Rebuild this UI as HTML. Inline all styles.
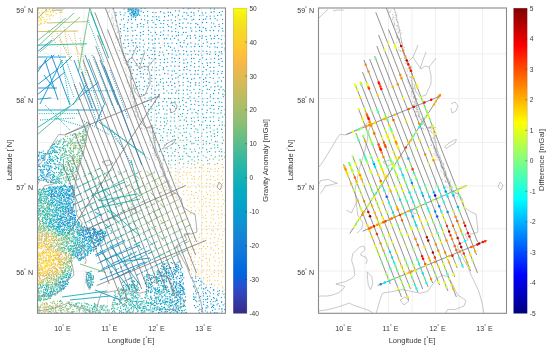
<!DOCTYPE html><html><head><meta charset="utf-8"><style>html,body{margin:0;padding:0;background:#fff;overflow:hidden}svg{display:block}</style></head><body><svg width="550" height="349" viewBox="0 0 550 349" font-family="'Liberation Sans', Arial, Helvetica, sans-serif"><rect width="550" height="349" fill="#fff"/><defs><clipPath id="c0"><rect x="37.5" y="8" width="188" height="305.3"/></clipPath><clipPath id="c1"><rect x="318.5" y="8" width="188" height="305.3"/></clipPath></defs><g stroke="#ececec" stroke-width="0.8"><line x1="60.5" y1="8" x2="60.5" y2="313.3"/><line x1="84" y1="8" x2="84" y2="313.3"/><line x1="107.5" y1="8" x2="107.5" y2="313.3"/><line x1="131" y1="8" x2="131" y2="313.3"/><line x1="154.5" y1="8" x2="154.5" y2="313.3"/><line x1="178" y1="8" x2="178" y2="313.3"/><line x1="201.5" y1="8" x2="201.5" y2="313.3"/><line x1="37.5" y1="271.1" x2="225.5" y2="271.1"/><line x1="37.5" y1="228.8" x2="225.5" y2="228.8"/><line x1="37.5" y1="185.9" x2="225.5" y2="185.9"/><line x1="37.5" y1="142.5" x2="225.5" y2="142.5"/><line x1="37.5" y1="98.5" x2="225.5" y2="98.5"/><line x1="37.5" y1="53.8" x2="225.5" y2="53.8"/></g><g clip-path="url(#c0)"><g fill="none" stroke-width="1.35" stroke-linecap="round"><path d="M167.6 8.0h0M195.9 23.5h0M206.4 81.4h0" stroke="#137ed7"/><path d="M199.1 8.3h0M132.2 11.8h0M164.0 13.0h0M211.2 12.2h0M182.5 16.1h0M116.5 20.9h0M131.4 19.2h0M147.9 20.7h0M222.5 19.3h0M202.5 22.5h0M143.3 26.8h0M152.3 35.9h0M127.9 39.7h0M195.7 38.0h0M172.0 43.1h0M194.8 46.5h0M154.9 54.5h0M172.1 54.1h0M179.9 54.1h0M137.1 59.7h0M179.4 58.4h0M140.2 71.4h0M159.1 70.1h0M183.9 69.9h0M218.2 71.3h0M151.6 75.4h0M170.6 81.9h0M171.8 85.5h0" stroke="#1485d4"/><path d="M141.1 8.5h0M183.5 8.3h0M168.2 12.2h0M198.5 10.9h0M205.8 12.8h0M128.4 16.6h0M137.5 14.8h0M172.4 15.0h0M175.6 16.9h0M188.1 15.2h0M194.2 15.1h0M199.7 15.6h0M203.0 15.1h0M168.0 20.3h0M175.4 20.6h0M184.2 18.8h0M203.4 19.5h0M140.5 23.5h0M179.5 23.4h0M183.0 23.0h0M219.0 24.3h0M222.6 23.6h0M124.0 27.1h0M141.1 26.3h0M152.0 27.4h0M199.5 27.2h0M205.7 28.5h0M120.2 31.6h0M168.3 30.7h0M175.7 31.6h0M206.2 30.4h0M222.9 31.0h0M132.7 35.7h0M140.6 35.9h0M143.3 34.3h0M163.3 34.7h0M195.0 35.2h0M199.8 36.2h0M155.4 39.0h0M218.8 38.6h0M226.6 38.1h0M123.7 43.5h0M133.1 42.7h0M144.3 44.1h0M180.3 42.4h0M190.8 42.9h0M225.0 43.1h0M137.4 47.3h0M153.2 48.0h0M170.6 47.2h0M182.3 47.0h0M139.7 50.0h0M159.8 52.0h0M166.8 50.3h0M186.6 51.5h0M194.4 51.0h0M152.2 54.4h0M191.4 54.8h0M198.3 54.9h0M209.7 54.3h0M218.5 55.7h0M132.0 58.0h0M149.2 57.7h0M191.5 58.5h0M199.9 59.3h0M218.8 59.2h0M131.5 62.6h0M143.5 63.5h0M155.8 62.8h0M167.7 62.3h0M207.2 63.0h0M222.2 61.4h0M171.0 65.8h0M179.1 66.2h0M219.2 65.3h0M148.0 69.8h0M174.4 70.9h0M195.3 70.7h0M198.2 70.3h0M210.8 71.1h0M143.5 74.0h0M168.0 73.8h0M198.0 74.2h0M213.6 73.5h0M217.5 74.1h0M221.7 73.3h0M131.7 79.0h0M143.5 77.9h0M155.7 78.6h0M172.4 79.0h0M187.3 78.4h0M199.9 77.7h0M210.1 77.6h0M219.1 77.8h0M223.2 77.3h0M178.8 81.8h0M190.5 82.7h0M195.8 82.7h0M226.8 81.4h0M179.6 85.7h0M206.3 85.5h0M214.9 86.7h0M218.0 86.0h0M158.8 89.8h0M163.6 88.9h0M155.1 94.4h0M171.7 93.2h0M164.5 98.7h0M178.6 98.4h0M155.4 102.0h0" stroke="#108ed2"/><path d="M133.4 8.3h0M190.3 8.3h0M194.1 8.4h0M226.1 9.1h0M127.9 11.3h0M135.2 12.3h0M147.6 11.3h0M155.9 12.6h0M175.5 10.8h0M186.8 12.9h0M191.2 12.2h0M193.9 12.9h0M202.3 12.8h0M219.4 12.4h0M226.3 12.3h0M116.1 15.2h0M139.6 15.2h0M147.6 16.0h0M156.3 16.6h0M164.5 16.7h0M206.8 16.6h0M210.2 16.1h0M214.2 16.1h0M217.7 15.4h0M227.0 16.6h0M121.4 19.8h0M123.6 18.9h0M128.3 20.0h0M141.4 19.6h0M144.6 19.8h0M156.8 19.5h0M163.9 20.5h0M171.2 19.8h0M186.3 19.2h0M192.0 20.1h0M193.7 19.4h0M199.4 19.5h0M205.8 19.0h0M210.3 18.7h0M215.1 18.6h0M217.2 20.1h0M226.8 19.6h0M137.4 24.7h0M163.7 23.6h0M167.6 24.6h0M172.4 22.9h0M190.8 23.6h0M197.8 24.5h0M226.6 23.9h0M120.6 28.7h0M127.5 28.5h0M148.3 27.1h0M168.7 26.4h0M179.6 26.4h0M182.5 28.0h0M190.8 28.0h0M195.5 27.1h0M203.2 27.5h0M215.1 26.5h0M127.9 31.2h0M140.5 32.5h0M148.5 30.5h0M160.8 32.1h0M191.7 31.0h0M199.6 30.5h0M201.6 31.4h0M213.5 30.5h0M121.4 35.7h0M127.9 35.8h0M160.5 35.4h0M168.1 35.1h0M176.3 35.7h0M178.5 35.2h0M190.3 35.7h0M202.4 35.8h0M221.9 35.8h0M225.2 36.1h0M120.5 38.2h0M140.2 39.1h0M164.3 38.7h0M166.7 38.5h0M170.6 39.0h0M174.5 38.4h0M190.5 38.2h0M206.4 39.6h0M211.4 38.7h0M128.6 43.4h0M135.7 42.7h0M152.9 43.9h0M159.1 43.2h0M164.4 43.1h0M167.9 43.5h0M176.6 43.6h0M203.3 43.3h0M214.3 43.5h0M218.0 42.6h0M222.0 43.9h0M125.2 47.7h0M128.3 46.1h0M133.3 45.9h0M160.3 47.7h0M174.4 48.1h0M180.4 46.0h0M202.0 46.4h0M209.8 47.1h0M215.0 46.9h0M217.3 47.5h0M225.0 48.1h0M129.8 50.7h0M133.4 50.8h0M144.0 51.0h0M147.5 50.0h0M151.1 50.3h0M162.8 52.1h0M175.4 50.9h0M178.6 50.8h0M198.8 51.2h0M203.0 51.1h0M219.2 52.0h0M221.4 51.7h0M225.2 50.0h0M136.4 53.8h0M147.7 55.6h0M159.2 55.5h0M176.2 55.1h0M187.9 55.1h0M207.2 53.7h0M129.3 59.2h0M155.7 58.7h0M160.2 59.6h0M164.5 59.5h0M167.2 58.8h0M174.7 58.5h0M193.8 58.4h0M202.6 57.8h0M214.5 58.5h0M226.2 57.9h0M139.6 63.4h0M151.3 62.8h0M160.4 62.8h0M179.6 62.3h0M194.7 63.3h0M210.2 62.7h0M214.3 62.4h0M218.9 63.4h0M129.1 67.6h0M131.4 66.9h0M141.1 67.1h0M144.4 66.6h0M152.4 67.1h0M156.3 67.6h0M163.5 67.7h0M174.9 66.2h0M184.4 67.4h0M186.8 66.6h0M213.9 67.4h0M222.2 66.4h0M226.5 65.6h0M133.3 70.0h0M137.2 69.7h0M151.7 70.0h0M172.1 70.9h0M179.8 70.4h0M190.0 70.5h0M213.8 70.9h0M226.4 69.8h0M137.0 74.5h0M140.8 73.7h0M164.7 73.5h0M179.9 75.4h0M190.9 74.3h0M194.9 74.2h0M202.6 74.1h0M206.9 74.8h0M209.6 73.8h0M141.0 77.1h0M160.5 79.3h0M178.2 77.1h0M136.4 82.4h0M148.6 82.9h0M174.7 83.2h0M199.2 82.9h0M203.5 82.1h0M217.7 81.7h0M152.1 86.1h0M156.7 85.5h0M168.2 85.5h0M175.0 86.9h0M190.5 86.1h0M195.5 85.0h0M187.1 89.7h0M209.5 89.6h0M214.6 90.5h0M141.4 94.6h0M175.7 93.0h0M206.8 93.1h0M210.4 96.9h0M151.2 101.0h0M198.9 105.5h0" stroke="#0997d1"/><path d="M124.1 8.9h0M128.1 9.0h0M135.2 9.0h0M144.9 8.2h0M188.2 8.7h0M214.3 9.0h0M115.8 12.6h0M120.1 12.1h0M143.4 12.4h0M152.9 12.4h0M160.6 11.7h0M170.5 12.5h0M179.3 11.0h0M222.4 11.3h0M120.7 14.6h0M124.1 15.1h0M158.9 16.9h0M168.6 15.7h0M178.5 15.2h0M191.1 16.5h0M135.5 19.7h0M152.1 20.4h0M179.9 19.7h0M124.4 24.7h0M127.8 22.6h0M132.1 23.3h0M143.8 24.6h0M147.6 22.9h0M153.1 22.6h0M155.8 24.5h0M160.9 23.4h0M176.0 24.7h0M188.0 23.0h0M211.6 22.8h0M213.8 23.8h0M131.8 27.5h0M137.4 26.9h0M156.1 27.4h0M171.4 27.0h0M186.1 27.4h0M211.5 27.1h0M124.1 30.6h0M135.3 30.3h0M143.4 31.3h0M150.9 32.3h0M155.5 32.5h0M163.8 30.8h0M171.9 31.5h0M178.6 32.3h0M183.4 32.5h0M186.0 32.4h0M218.6 30.9h0M225.7 31.9h0M125.6 35.8h0M136.7 35.4h0M148.5 34.6h0M156.7 34.6h0M172.4 36.1h0M182.1 34.8h0M187.5 36.0h0M206.0 36.4h0M210.4 35.7h0M214.8 36.2h0M131.9 40.2h0M136.0 38.9h0M152.2 40.0h0M158.8 38.8h0M178.3 40.0h0M186.6 38.3h0M199.1 40.2h0M202.0 38.2h0M214.1 38.5h0M221.3 39.6h0M139.8 43.0h0M148.7 43.2h0M155.0 43.4h0M187.7 44.0h0M195.2 43.9h0M198.1 44.1h0M207.2 42.2h0M211.0 43.7h0M140.0 46.8h0M143.4 46.9h0M148.7 47.8h0M155.1 48.1h0M164.5 45.8h0M191.2 46.8h0M199.4 46.5h0M222.1 47.3h0M137.4 51.2h0M154.8 51.2h0M172.3 50.1h0M183.6 50.6h0M191.1 51.4h0M206.7 51.3h0M210.3 51.9h0M125.8 53.8h0M132.5 54.6h0M141.3 54.6h0M143.1 54.2h0M163.6 54.9h0M168.5 53.7h0M195.5 54.3h0M201.9 55.1h0M215.4 54.4h0M186.1 59.1h0M206.4 59.4h0M211.0 59.1h0M221.2 58.5h0M136.6 63.7h0M164.2 62.5h0M175.3 61.6h0M191.3 61.8h0M225.7 61.5h0M148.2 66.9h0M160.0 65.6h0M194.6 67.0h0M199.0 66.5h0M210.2 67.4h0M156.0 70.6h0M163.3 69.5h0M168.1 70.6h0M203.0 71.5h0M222.3 71.4h0M147.3 74.0h0M156.5 74.6h0M159.8 74.8h0M171.8 75.2h0M182.8 74.1h0M135.9 78.7h0M148.4 78.8h0M151.8 78.3h0M162.9 78.6h0M168.6 78.3h0M175.8 78.0h0M191.6 79.2h0M194.2 78.5h0M203.6 79.4h0M205.7 78.0h0M139.2 81.7h0M144.7 81.2h0M156.7 82.1h0M166.6 82.2h0M183.1 82.6h0M188.1 81.5h0M215.1 83.1h0M221.4 81.0h0M137.1 86.5h0M147.0 85.9h0M163.2 86.2h0M187.9 86.3h0M211.0 87.1h0M221.1 87.0h0M143.2 89.7h0M147.4 88.8h0M151.5 88.9h0M172.1 89.6h0M178.8 90.2h0M202.6 90.8h0M151.7 93.1h0M191.2 92.8h0M198.9 92.9h0M202.0 93.3h0M213.6 93.5h0M225.2 94.9h0M149.1 98.1h0M183.1 97.6h0M190.0 96.9h0M198.8 96.6h0M213.6 98.3h0M218.0 98.5h0M171.4 102.2h0M186.0 102.5h0M190.6 100.8h0M215.3 102.6h0M172.5 105.4h0M213.6 105.4h0M222.0 106.5h0M163.5 108.9h0M206.2 117.7h0M198.4 120.4h0M218.8 120.3h0" stroke="#069fce"/><path d="M113.3 8.5h0M210.5 8.8h0M125.1 12.8h0M141.1 11.2h0M184.1 12.4h0M214.1 11.7h0M131.6 15.1h0M152.9 16.7h0M221.1 15.0h0M159.4 20.4h0M120.1 24.2h0M206.6 22.5h0M160.2 27.6h0M163.2 27.4h0M175.7 28.6h0M219.2 26.4h0M222.3 28.4h0M132.7 30.9h0M210.1 30.5h0M217.4 35.4h0M124.8 39.9h0M148.7 39.0h0M184.2 40.3h0M184.0 42.7h0M168.6 46.2h0M186.3 46.8h0M207.6 46.1h0M215.1 51.9h0M127.9 54.1h0M183.7 54.2h0M221.8 53.8h0M140.8 58.2h0M144.5 59.4h0M151.8 58.6h0M171.9 57.7h0M149.0 63.0h0M172.2 62.0h0M183.9 63.2h0M187.5 62.7h0M198.9 61.5h0M202.5 63.6h0M136.1 65.6h0M166.9 66.4h0M190.9 65.5h0M203.7 67.2h0M207.5 65.4h0M144.8 69.3h0M187.0 69.3h0M206.3 69.7h0M176.0 73.4h0M186.5 74.0h0M183.6 77.7h0M213.3 78.3h0M151.8 81.3h0M160.4 82.0h0M209.3 82.4h0M139.4 85.8h0M144.2 86.5h0M158.8 84.8h0M183.1 85.1h0M203.3 86.3h0M155.1 90.2h0M190.0 90.3h0M199.7 89.3h0M207.3 89.2h0M219.2 89.5h0M224.9 90.9h0M147.0 93.2h0M163.9 93.2h0M168.7 93.1h0M183.4 93.8h0M187.7 94.1h0M195.6 93.1h0M210.5 94.8h0M218.6 93.0h0M222.9 94.2h0M151.1 97.2h0M188.1 98.3h0M223.3 96.6h0M144.2 101.3h0M158.8 102.7h0M166.7 101.9h0M182.7 100.4h0M198.2 101.6h0M148.6 104.7h0M151.1 106.6h0M156.8 106.3h0M162.7 106.1h0M174.3 106.2h0M180.3 106.3h0M183.5 104.8h0M191.2 104.4h0M194.8 104.3h0M207.0 105.3h0M211.7 105.5h0M187.8 110.4h0M198.3 110.5h0M148.3 114.1h0M158.8 112.9h0M166.9 113.9h0M196.0 112.5h0M191.3 118.2h0M180.1 120.2h0M191.9 121.1h0M205.4 120.6h0M222.2 122.1h0M214.3 125.5h0M219.4 125.3h0" stroke="#06a5c8"/><path d="M144.6 15.8h0M143.2 40.2h0M183.8 59.9h0M128.7 61.9h0M132.3 73.3h0M139.8 88.8h0M166.9 90.8h0M176.4 90.8h0M183.4 90.2h0M194.0 89.3h0M223.1 89.6h0M143.8 94.6h0M158.8 94.6h0M178.9 93.6h0M155.3 97.1h0M159.0 97.1h0M168.6 98.4h0M170.4 98.6h0M194.1 98.1h0M202.8 98.8h0M207.2 98.6h0M226.7 97.9h0M147.3 100.8h0M163.0 101.5h0M175.1 102.0h0M202.5 101.8h0M210.3 101.1h0M219.3 101.9h0M221.8 102.4h0M226.7 101.5h0M158.9 105.2h0M167.2 105.7h0M186.1 106.5h0M226.8 105.1h0M183.6 109.4h0M207.2 110.2h0M214.0 109.2h0M156.4 113.9h0M180.5 114.3h0M202.7 114.0h0M211.0 112.4h0M217.9 113.6h0M166.6 118.1h0M178.6 116.5h0M203.6 117.5h0M213.4 116.9h0M222.6 116.9h0M151.1 120.0h0M160.5 121.8h0M164.4 122.0h0M170.7 121.1h0M186.5 121.2h0M164.8 125.7h0M191.2 124.4h0M201.6 125.0h0M209.8 125.4h0M222.3 125.0h0M191.2 128.5h0M221.6 129.2h0M170.6 132.9h0M201.7 151.8h0" stroke="#07aac1"/><path d="M196.0 31.6h0M163.3 83.0h0M199.1 85.6h0M135.9 88.8h0M144.9 98.1h0M175.0 98.5h0M179.5 102.0h0M195.5 100.9h0M207.2 102.2h0M145.3 106.4h0M203.3 105.0h0M219.0 106.5h0M148.7 109.5h0M155.8 110.2h0M159.5 109.6h0M166.8 110.1h0M170.5 109.7h0M176.0 108.5h0M179.5 109.2h0M190.4 109.0h0M194.3 109.3h0M202.2 109.2h0M210.2 108.5h0M218.6 108.7h0M221.5 110.3h0M225.2 109.5h0M151.2 112.4h0M164.8 113.8h0M170.9 112.4h0M182.7 113.5h0M187.3 113.6h0M192.1 112.9h0M197.7 113.9h0M206.8 112.6h0M214.0 113.0h0M221.0 113.0h0M151.4 116.8h0M160.7 117.6h0M164.0 118.2h0M171.1 117.1h0M182.1 116.3h0M186.2 117.7h0M194.0 117.8h0M210.1 117.4h0M226.2 118.1h0M156.4 121.0h0M167.5 120.8h0M184.3 119.9h0M210.4 121.2h0M152.0 125.3h0M155.7 125.1h0M160.9 125.6h0M166.7 123.8h0M175.2 125.9h0M180.1 126.0h0M199.5 124.8h0M207.1 125.5h0M225.1 125.6h0M157.0 128.7h0M159.8 129.4h0M171.0 129.9h0M176.1 128.1h0M183.7 128.6h0M186.7 128.1h0M197.8 129.8h0M206.7 127.7h0M184.2 132.3h0M206.8 132.6h0M186.1 137.5h0M198.4 137.3h0M222.3 137.1h0M186.6 144.7h0M163.0 148.7h0M171.1 148.0h0M186.0 148.8h0M217.8 147.6h0M221.2 149.1h0M174.9 151.3h0M198.8 153.0h0M209.5 151.4h0M188.1 156.0h0M197.8 156.5h0" stroke="#0faeb9"/><path d="M151.9 108.9h0M174.7 113.9h0M225.0 114.4h0M157.0 117.6h0M174.3 117.6h0M198.0 117.2h0M174.3 121.1h0M227.0 122.2h0M194.2 126.0h0M163.6 128.6h0M168.4 129.6h0M195.9 128.9h0M210.2 127.9h0M152.3 132.0h0M155.9 133.0h0M159.1 133.4h0M163.7 131.9h0M167.1 132.9h0M180.0 132.9h0M186.3 132.1h0M197.9 132.4h0M210.3 131.7h0M214.2 133.7h0M217.6 132.2h0M155.1 137.7h0M160.9 135.8h0M162.6 137.7h0M167.1 135.9h0M172.6 136.3h0M174.3 136.0h0M178.5 137.8h0M182.5 135.7h0M195.1 137.8h0M201.8 136.1h0M207.3 136.7h0M211.2 135.9h0M214.5 136.5h0M217.5 135.6h0M160.5 140.2h0M172.0 141.1h0M175.4 139.6h0M190.5 141.4h0M159.5 145.0h0M172.4 143.9h0M178.8 145.5h0M183.9 145.7h0M191.9 143.7h0M193.9 143.6h0M203.3 144.2h0M206.5 143.8h0M209.7 143.5h0M214.4 144.8h0M217.8 145.2h0M179.6 147.7h0M184.2 148.5h0M190.3 149.1h0M199.5 148.1h0M202.8 147.9h0M159.7 151.5h0M164.4 151.4h0M184.0 151.8h0M195.2 151.3h0M215.5 151.9h0M221.7 151.7h0M163.7 155.7h0M171.3 155.9h0M174.8 155.7h0M182.8 156.2h0M190.0 156.7h0M163.4 159.9h0M171.6 160.1h0M175.5 160.3h0M180.3 159.2h0M182.7 159.1h0" stroke="#1bb2b0"/><path d="M219.0 118.0h0M194.7 122.0h0M202.7 121.9h0M213.7 121.6h0M170.7 126.0h0M183.5 125.6h0M187.6 124.7h0M153.0 127.8h0M214.0 130.1h0M217.3 129.0h0M226.4 128.6h0M174.5 131.9h0M194.3 131.8h0M222.6 132.6h0M225.6 133.8h0M190.9 136.2h0M155.7 140.1h0M162.9 140.6h0M167.9 140.1h0M183.1 140.4h0M195.9 140.3h0M203.2 140.5h0M215.4 141.4h0M223.4 140.1h0M226.3 139.8h0M166.7 143.6h0M197.9 144.4h0M222.3 143.5h0M226.7 144.1h0M160.3 149.5h0M167.1 148.7h0M175.6 149.5h0M206.6 149.5h0M211.1 148.5h0M167.6 152.6h0M172.6 153.1h0M178.4 152.6h0M186.6 153.5h0M191.8 152.0h0M207.3 152.1h0M225.2 152.5h0M168.6 156.0h0M194.2 156.9h0M203.2 155.8h0M221.6 156.0h0M168.8 160.9h0" stroke="#2ab6a6"/><path d="M178.8 129.3h0M203.4 129.5h0M202.0 133.1h0M226.4 136.9h0M187.0 140.0h0M206.4 141.4h0M211.5 139.9h0M217.2 141.6h0M175.8 143.5h0M214.8 147.9h0M219.2 151.4h0M179.4 156.4h0M206.1 157.2h0M215.3 156.9h0M168.6 163.8h0" stroke="#3cba9b"/><path d="M189.9 133.9h0M180.2 140.2h0M198.4 140.4h0M164.8 145.0h0M194.6 149.1h0M211.4 155.3h0M219.3 156.0h0M224.9 157.0h0M188.3 161.2h0M192.0 159.7h0M207.6 160.5h0M209.8 159.1h0M179.4 163.0h0" stroke="#4fbc90"/><path d="M226.0 149.2h0M194.6 161.1h0M198.4 159.7h0M213.3 159.1h0M170.7 164.8h0M183.7 163.7h0" stroke="#65be86"/><path d="M201.8 160.4h0M219.2 160.0h0M175.2 164.5h0" stroke="#7abf7c"/><path d="M188.1 163.6h0M191.6 163.9h0M197.8 163.0h0M217.5 163.5h0M171.1 167.8h0" stroke="#8dbf74"/><path d="M222.4 159.2h0M226.5 159.6h0M207.7 163.9h0M209.4 163.7h0" stroke="#9fbe6d"/><path d="M194.5 164.6h0M182.9 167.1h0" stroke="#b0bd66"/><path d="M203.2 165.0h0M215.0 164.5h0" stroke="#c0bc60"/><path d="M187.2 167.3h0M195.3 167.7h0M199.9 167.5h0" stroke="#cfbb5a"/><path d="M222.1 164.5h0M226.2 163.8h0M201.9 167.9h0" stroke="#deba53"/><path d="M223.1 167.5h0" stroke="#f9bb43"/></g><g fill="none" stroke-width="1.25" stroke-linecap="round"><path d="M191.1 277.8h0M219.0 293.5h0M209.9 296.1h0M195.8 307.7h0" stroke="#137ed7"/><path d="M195.8 289.9h0M195.5 291.5h0M194.9 297.2h0M203.2 295.9h0M213.4 297.7h0M202.5 308.2h0M199.5 312.8h0M207.4 312.0h0M214.8 313.1h0" stroke="#1485d4"/><path d="M194.9 281.3h0M198.5 280.4h0M193.9 285.9h0M210.6 287.7h0M205.7 292.6h0M218.2 295.5h0M211.5 299.6h0M207.0 305.4h0M213.7 305.4h0M206.0 307.9h0M215.1 309.2h0M221.9 308.8h0M201.8 311.3h0M222.1 311.2h0" stroke="#108ed2"/><path d="M198.3 288.0h0M205.7 288.1h0M203.4 293.7h0M210.5 293.0h0M199.2 297.7h0M207.4 296.4h0M221.4 297.5h0M225.0 297.2h0M195.7 300.4h0M215.3 301.1h0M218.0 303.6h0M199.7 309.2h0M211.4 307.6h0M219.1 308.8h0M225.6 309.0h0M226.6 312.1h0" stroke="#0997d1"/><path d="M203.8 283.9h0M203.8 288.9h0M213.5 289.6h0M198.4 292.6h0M213.5 293.7h0M199.1 300.9h0M203.5 299.5h0M207.0 299.5h0M225.8 299.5h0M199.6 304.5h0M203.6 304.4h0M210.6 312.2h0M217.5 312.8h0" stroke="#069fce"/><path d="M199.7 285.7h0M221.7 301.5h0M211.1 303.9h0M223.1 304.9h0" stroke="#06a5c8"/><path d="M217.2 300.2h0" stroke="#07aac1"/><path d="M168.4 168.1h0" stroke="#8dbf74"/><path d="M180.2 169.0h0M167.5 171.1h0" stroke="#b0bd66"/><path d="M175.7 168.4h0M175.9 171.6h0" stroke="#c0bc60"/><path d="M190.9 168.2h0M170.9 172.0h0" stroke="#cfbb5a"/><path d="M218.6 168.6h0M196.0 192.4h0" stroke="#deba53"/><path d="M207.7 168.4h0M210.9 168.9h0M179.2 172.4h0M183.8 171.7h0M195.0 171.8h0M209.5 171.5h0M217.7 171.0h0M180.1 182.4h0M182.6 187.5h0M194.5 202.2h0M211.3 209.9h0M217.8 229.5h0M201.8 233.5h0M215.2 234.1h0M194.5 241.6h0M210.7 243.0h0M203.6 246.6h0M218.5 248.8h0M199.3 257.8h0M219.0 258.2h0M191.5 274.0h0M203.8 277.7h0M209.9 284.6h0" stroke="#ecb94c"/><path d="M190.0 172.4h0M199.1 171.5h0M182.9 175.1h0M201.8 175.9h0M221.7 176.1h0M192.0 178.9h0M207.1 179.7h0M210.4 179.5h0M222.6 179.7h0M175.9 182.9h0M210.2 183.7h0M196.0 187.2h0M199.6 186.2h0M209.8 187.1h0M217.4 187.0h0M221.8 187.9h0M225.9 188.5h0M201.7 191.8h0M209.9 190.8h0M217.6 191.9h0M191.4 194.6h0M207.6 194.4h0M202.0 199.7h0M210.3 199.2h0M209.7 202.4h0M195.5 210.8h0M221.9 214.1h0M205.8 218.0h0M218.8 218.0h0M219.1 223.0h0M209.8 225.8h0M213.3 226.3h0M194.6 237.6h0M214.6 237.5h0M221.3 239.3h0M197.9 241.3h0M203.3 241.0h0M213.9 242.6h0M207.4 246.5h0M217.3 244.8h0M222.8 246.6h0M226.0 245.4h0M206.1 254.1h0M210.6 254.8h0M191.1 256.6h0M206.2 258.4h0M191.0 260.5h0M202.0 265.9h0M226.1 268.2h0M201.8 272.2h0M218.6 273.5h0M225.3 276.6h0M206.6 285.0h0M214.5 285.1h0M222.8 287.9h0" stroke="#f9bb43"/><path d="M215.1 168.9h0M186.8 172.7h0M203.7 171.1h0M170.5 175.7h0M175.8 175.3h0M194.0 176.4h0M199.7 176.5h0M210.5 176.0h0M213.5 176.5h0M217.9 175.1h0M226.6 176.2h0M217.7 179.6h0M182.7 183.9h0M201.9 183.6h0M206.6 183.4h0M214.2 184.2h0M178.9 186.8h0M213.5 186.6h0M187.0 190.3h0M191.4 191.5h0M206.6 192.2h0M221.6 191.6h0M183.8 194.4h0M193.8 195.2h0M198.3 196.1h0M214.0 195.6h0M194.3 198.2h0M197.8 198.4h0M205.9 198.6h0M214.0 199.9h0M203.5 203.8h0M205.8 201.8h0M187.7 205.8h0M206.2 206.4h0M209.5 206.1h0M221.7 206.4h0M191.4 210.7h0M201.8 210.0h0M206.9 211.5h0M217.6 211.4h0M221.7 210.3h0M193.8 214.2h0M202.0 215.1h0M213.9 214.4h0M218.4 214.6h0M203.0 217.7h0M210.9 222.6h0M215.5 223.0h0M222.0 221.9h0M226.0 222.4h0M206.2 226.4h0M202.0 229.8h0M206.5 229.7h0M211.6 230.0h0M213.2 230.9h0M225.2 229.7h0M199.5 234.1h0M191.9 237.2h0M210.6 238.5h0M211.1 247.0h0M215.4 245.6h0M199.8 248.7h0M201.8 248.8h0M211.1 248.9h0M213.9 250.1h0M194.9 257.0h0M203.0 256.5h0M209.5 258.7h0M213.7 257.2h0M194.2 261.6h0M202.5 260.5h0M222.3 261.1h0M199.0 264.5h0M207.1 265.1h0M209.6 266.2h0M221.3 265.1h0M225.2 265.6h0M203.3 269.9h0M209.6 269.5h0M214.5 270.3h0M218.7 270.0h0M221.8 270.1h0M211.3 274.3h0M221.9 272.2h0M225.3 273.4h0M197.9 276.2h0M209.7 276.6h0M222.8 276.5h0M209.7 280.2h0M215.0 280.3h0M225.4 280.7h0M225.8 284.2h0M217.6 287.9h0M225.1 289.5h0M222.3 293.3h0" stroke="#ffc337"/><path d="M225.7 168.8h0M215.0 171.5h0M222.7 171.7h0M225.8 170.9h0M180.2 176.5h0M186.2 175.0h0M178.6 180.0h0M194.4 179.1h0M215.1 180.4h0M226.5 180.1h0M187.5 182.5h0M191.0 182.8h0M194.5 182.5h0M198.4 184.2h0M219.1 183.8h0M222.6 183.5h0M188.1 187.1h0M203.0 187.2h0M206.4 186.9h0M183.3 191.0h0M213.5 192.3h0M188.3 194.8h0M210.7 195.4h0M218.0 194.4h0M222.5 195.3h0M227.0 194.5h0M187.2 200.0h0M190.0 198.8h0M218.0 199.4h0M222.9 199.7h0M225.0 200.2h0M199.4 201.9h0M214.1 203.2h0M223.3 203.9h0M191.0 207.4h0M194.1 206.3h0M214.2 206.4h0M218.2 207.1h0M225.8 205.8h0M199.4 210.3h0M213.3 210.3h0M226.0 211.9h0M190.9 213.7h0M205.5 215.1h0M213.7 219.0h0M227.0 218.4h0M201.5 225.3h0M223.0 231.5h0M207.1 233.4h0M222.7 235.0h0M203.0 238.7h0M206.2 238.0h0M218.4 238.6h0M190.4 241.1h0M218.0 241.4h0M222.8 242.8h0M195.1 244.8h0M198.9 245.2h0M194.9 249.4h0M205.8 248.7h0M222.2 250.7h0M225.3 250.5h0M188.0 253.4h0M191.3 253.8h0M195.8 253.5h0M203.4 254.6h0M215.5 253.2h0M222.2 252.8h0M226.8 253.2h0M187.6 258.4h0M222.5 257.0h0M226.8 258.6h0M198.1 261.8h0M207.3 262.6h0M209.4 260.7h0M219.4 262.1h0M225.8 262.4h0M191.4 264.9h0M195.4 264.3h0M213.9 265.5h0M218.2 265.8h0M191.8 269.1h0M207.0 270.1h0M195.5 273.9h0M206.5 274.2h0M214.4 272.6h0M195.4 276.6h0M207.3 277.5h0M213.8 276.1h0M218.5 276.0h0M217.8 280.7h0M221.5 282.0h0M218.8 284.5h0M222.2 286.0h0" stroke="#fccd2f"/><path d="M207.5 171.3h0M191.3 175.3h0M206.3 175.4h0M175.7 179.3h0M182.9 179.0h0M187.4 178.6h0M198.6 178.8h0M190.2 187.0h0M199.5 190.8h0M191.0 202.3h0M218.2 203.0h0M198.1 207.8h0M202.4 206.2h0M211.6 215.0h0M225.1 215.7h0M211.3 218.0h0M221.4 217.5h0M206.6 221.7h0M218.3 225.4h0M221.2 226.1h0M211.2 234.2h0M219.4 234.5h0M199.4 237.2h0M206.4 243.0h0M190.7 246.6h0M191.9 249.2h0M218.5 253.2h0M215.2 260.9h0M195.6 269.8h0M197.7 269.4h0M198.7 274.1h0M207.5 280.9h0M225.5 292.9h0" stroke="#f8d627"/><path d="M201.6 178.9h0M226.5 183.1h0M203.4 196.3h0M198.7 213.8h0M202.4 222.7h0M226.0 242.7h0M198.7 252.7h0M203.6 280.0h0" stroke="#f5e020"/></g><g fill="none" stroke-width="1.25" stroke-linecap="round"><path d="M219.5 290.6h0" stroke="#137ed7"/><path d="M196.4 281.5h0M217.8 291.3h0M214.1 298.0h0M194.4 305.7h0M212.4 306.4h0M201.1 309.6h0M212.5 310.4h0" stroke="#1485d4"/><path d="M193.0 280.9h0M195.7 278.0h0M200.9 281.2h0M193.6 286.6h0M206.2 287.3h0M213.9 290.2h0M193.5 299.4h0M207.7 298.7h0M207.4 302.4h0M216.6 300.5h0M221.6 302.3h0M219.6 306.2h0M225.1 303.9h0M206.9 307.8h0M221.4 313.2h0" stroke="#108ed2"/><path d="M192.6 277.8h0M195.8 276.0h0M201.1 284.8h0M194.2 287.8h0M207.7 290.4h0M193.6 293.9h0M206.0 293.7h0M225.8 300.3h0M210.4 301.7h0M213.4 307.6h0M224.6 309.5h0M205.3 310.8h0" stroke="#0997d1"/><path d="M199.8 278.4h0M201.9 282.2h0M211.6 284.0h0M203.6 288.8h0M196.2 293.9h0M197.2 292.5h0M209.3 291.8h0M193.6 296.9h0M200.3 296.4h0M217.8 294.4h0M194.7 299.0h0M216.5 298.8h0M196.7 301.7h0M203.4 301.9h0M197.9 306.4h0M213.2 304.9h0M217.0 304.8h0M221.9 309.1h0M198.8 310.6h0" stroke="#069fce"/><path d="M201.7 288.0h0M222.7 291.2h0M195.9 297.1h0M224.0 294.2h0M205.6 299.7h0M213.2 301.7h0M214.9 312.7h0M216.5 313.0h0" stroke="#06a5c8"/><path d="M202.8 291.8h0M207.9 306.7h0M213.9 313.2h0" stroke="#07aac1"/></g><g fill="none" stroke-width="1.3" stroke-linecap="round"><path d="M37.9 19.9h0" stroke="#cfbb5a"/><path d="M49.4 9.6h0M61.8 12.4h0M40.6 23.9h0" stroke="#ecb94c"/><path d="M54.1 8.6h0M50.6 12.0h0M49.6 16.1h0M49.9 18.9h0" stroke="#f9bb43"/><path d="M45.7 9.2h0M46.5 10.1h0M42.0 10.9h0M47.0 11.4h0M39.8 12.8h0M56.3 13.3h0M41.1 15.1h0M41.8 17.0h0M46.8 19.3h0M41.1 20.2h0M44.3 23.3h0M39.1 25.0h0" stroke="#ffc337"/><path d="M52.3 9.5h0M39.0 13.0h0M47.9 14.7h0M46.5 16.1h0M53.1 15.8h0M37.6 19.3h0M40.2 18.5h0M45.1 21.4h0M46.0 22.1h0" stroke="#fccd2f"/><path d="M38.6 8.0h0M50.4 11.1h0M53.4 11.8h0M42.3 12.9h0M45.9 12.9h0M59.9 12.5h0M37.9 15.0h0M51.0 15.5h0M39.8 17.9h0M41.3 19.9h0M41.0 22.3h0" stroke="#f8d627"/><path d="M38.4 9.0h0M42.9 8.8h0M53.9 8.8h0M63.7 8.9h0M38.3 10.5h0M59.2 10.6h0M60.8 11.9h0M43.3 17.5h0M44.5 23.1h0" stroke="#f5e020"/><path d="M57.2 9.6h0M48.7 10.9h0M46.1 14.4h0M51.3 14.2h0M44.5 19.6h0M39.0 21.0h0M41.5 23.6h0" stroke="#f5ed17"/><path d="M43.1 12.6h0M37.8 16.4h0" stroke="#f9fb0e"/></g><g fill="none" stroke-width="1.35" stroke-linecap="round"><path d="M85.7 234.2h0" stroke="#274ecc"/><path d="M87.7 233.3h0M100.6 240.4h0" stroke="#0d5dde"/><path d="M72.6 189.2h0M75.3 217.4h0" stroke="#0268e1"/><path d="M52.0 191.8h0M53.7 193.8h0M69.9 201.8h0M70.6 210.3h0M74.2 210.3h0M74.4 215.0h0M71.5 216.3h0M70.1 217.3h0M68.6 223.0h0M97.6 233.7h0M82.6 239.0h0M91.0 246.7h0" stroke="#0870df"/><path d="M71.5 188.4h0M51.2 190.5h0M67.6 198.0h0M64.2 203.9h0M69.9 207.9h0M71.2 208.1h0M68.7 213.3h0M69.2 215.7h0M67.1 219.1h0M72.1 219.6h0M64.3 221.6h0M59.2 224.1h0M71.9 225.6h0M93.1 229.4h0M88.1 230.4h0M90.4 232.5h0M98.6 231.7h0M81.5 234.5h0M91.0 234.8h0M102.5 233.9h0M89.4 236.3h0M103.5 238.0h0M93.8 244.9h0M98.5 245.6h0M79.1 250.2h0M81.2 257.3h0" stroke="#0f77db"/><path d="M55.7 188.1h0M69.7 191.4h0M49.4 192.8h0M70.2 195.0h0M55.4 196.5h0M69.3 196.6h0M60.9 197.8h0M65.1 199.7h0M68.4 202.1h0M56.3 203.1h0M64.9 209.3h0M70.2 213.5h0M63.7 217.0h0M61.9 218.9h0M65.7 219.3h0M75.2 220.7h0M62.7 222.2h0M67.5 222.3h0M74.8 222.6h0M67.1 223.4h0M65.8 225.0h0M62.9 226.0h0M83.1 229.3h0M100.6 230.0h0M83.3 231.0h0M89.9 230.3h0M90.1 230.2h0M93.9 230.8h0M94.6 230.8h0M102.1 233.1h0M84.0 234.1h0M91.2 235.7h0M90.5 236.7h0M93.2 236.5h0M102.1 237.7h0M100.3 239.8h0M102.2 241.9h0M84.8 244.8h0M93.5 247.5h0M95.8 246.5h0M93.7 251.0h0M79.7 252.1h0M81.6 254.5h0M78.0 255.7h0" stroke="#137ed7"/><path d="M61.6 187.2h0M65.6 186.6h0M52.2 190.1h0M55.0 190.1h0M56.5 191.4h0M68.7 191.4h0M55.2 193.3h0M61.5 193.4h0M68.0 193.1h0M62.4 194.2h0M65.6 194.1h0M71.9 194.5h0M51.3 196.2h0M69.4 195.4h0M70.9 195.9h0M52.0 197.3h0M64.2 196.7h0M68.7 197.3h0M48.0 198.7h0M53.8 199.0h0M69.8 199.0h0M71.1 198.9h0M73.7 199.6h0M73.4 204.5h0M73.1 208.8h0M69.0 209.3h0M72.7 211.3h0M68.6 211.6h0M73.2 211.6h0M58.2 213.4h0M67.4 215.9h0M70.6 216.4h0M47.8 216.6h0M66.4 217.3h0M72.3 218.5h0M70.1 219.2h0M60.8 222.3h0M65.1 222.8h0M72.5 223.8h0M58.4 224.7h0M93.6 228.7h0M78.0 229.6h0M87.6 229.6h0M91.8 230.1h0M94.2 229.5h0M64.2 230.6h0M76.0 231.1h0M80.3 230.3h0M86.6 231.1h0M99.7 231.3h0M94.6 232.5h0M93.4 232.8h0M98.2 233.9h0M96.0 234.6h0M99.8 234.0h0M88.6 236.2h0M99.2 235.8h0M100.9 236.4h0M86.1 237.3h0M95.8 236.6h0M92.3 238.0h0M86.1 239.4h0M93.1 238.9h0M103.4 239.1h0M85.7 240.3h0M90.2 240.5h0M92.4 241.4h0M96.1 242.4h0M93.1 243.3h0M98.7 244.4h0M78.0 254.9h0M84.9 254.7h0M85.1 256.2h0M79.5 258.5h0M66.7 275.5h0M60.4 282.7h0M65.8 286.3h0" stroke="#1485d4"/><path d="M70.4 186.3h0M49.7 187.2h0M53.6 187.4h0M57.8 186.4h0M60.0 187.0h0M69.4 186.7h0M74.0 188.0h0M59.7 189.0h0M67.2 190.0h0M51.4 192.0h0M54.7 192.4h0M60.3 192.2h0M60.0 195.0h0M51.6 195.6h0M53.8 195.2h0M58.0 195.3h0M73.3 196.0h0M50.6 196.7h0M59.5 196.7h0M72.1 196.6h0M73.2 197.5h0M63.8 199.9h0M51.6 202.4h0M58.9 201.6h0M61.6 202.6h0M72.3 202.3h0M66.1 203.7h0M70.4 203.1h0M74.0 203.9h0M66.2 207.3h0M73.2 207.0h0M53.8 208.8h0M65.6 208.2h0M62.3 209.3h0M71.1 209.5h0M66.7 210.8h0M70.1 210.6h0M57.0 212.3h0M60.4 211.7h0M67.2 211.9h0M69.2 211.9h0M64.2 212.8h0M73.0 213.8h0M67.2 214.1h0M73.1 214.6h0M62.5 217.4h0M59.1 218.7h0M66.6 218.2h0M74.3 218.2h0M77.5 220.0h0M67.1 220.9h0M70.9 222.6h0M59.1 222.9h0M61.6 223.4h0M69.0 223.2h0M77.3 223.1h0M64.4 224.8h0M67.4 224.9h0M75.0 225.8h0M50.7 227.3h0M58.6 227.8h0M85.1 227.7h0M77.4 229.6h0M86.0 230.1h0M87.5 229.2h0M79.5 230.9h0M97.9 231.2h0M100.4 230.4h0M101.9 230.4h0M90.1 232.3h0M102.6 232.5h0M87.5 233.7h0M92.5 233.5h0M94.4 233.7h0M96.3 232.7h0M99.3 233.2h0M103.7 233.2h0M105.0 233.7h0M83.4 234.0h0M89.9 234.0h0M94.2 234.7h0M98.4 234.9h0M85.6 236.3h0M94.0 235.3h0M96.0 236.0h0M96.9 237.1h0M100.2 237.0h0M86.4 237.9h0M96.8 238.1h0M99.1 238.8h0M82.1 240.9h0M91.6 241.0h0M97.3 240.7h0M99.1 241.1h0M91.2 242.3h0M97.4 241.5h0M97.5 244.7h0M83.5 245.3h0M94.8 245.7h0M81.0 247.0h0M95.9 248.6h0M93.3 249.8h0M78.3 252.2h0M88.3 252.0h0M80.2 252.6h0M79.9 253.9h0M77.6 255.2h0M82.8 257.6h0M68.1 278.2h0M53.2 291.2h0M50.9 292.9h0" stroke="#108ed2"/><path d="M72.1 185.4h0M62.6 188.5h0M68.1 188.7h0M57.9 188.9h0M61.1 189.7h0M62.6 189.7h0M67.9 189.6h0M70.0 189.5h0M53.0 190.9h0M66.8 191.0h0M74.6 190.6h0M63.4 192.5h0M64.8 191.9h0M50.9 193.4h0M52.1 194.4h0M64.7 194.1h0M49.5 195.1h0M54.7 196.0h0M62.4 195.5h0M66.2 195.5h0M72.4 196.1h0M54.0 196.6h0M64.8 197.9h0M54.2 201.3h0M55.8 200.3h0M65.6 201.2h0M53.1 202.6h0M53.9 202.1h0M59.3 202.3h0M63.0 201.8h0M57.9 202.9h0M61.1 202.9h0M62.2 203.4h0M64.2 203.3h0M66.7 203.5h0M65.8 204.8h0M54.1 205.7h0M62.0 206.2h0M65.8 206.3h0M61.3 207.6h0M70.6 206.8h0M71.6 207.5h0M63.3 208.3h0M67.4 208.0h0M43.3 210.7h0M56.0 211.0h0M64.0 211.5h0M74.6 212.0h0M63.1 213.7h0M54.8 214.4h0M64.2 214.7h0M68.5 214.4h0M60.0 216.3h0M74.7 215.7h0M75.7 215.5h0M43.2 217.3h0M59.9 216.5h0M61.0 216.5h0M60.7 218.4h0M61.7 217.7h0M70.9 218.5h0M58.6 219.5h0M59.9 219.5h0M68.7 219.9h0M73.0 219.7h0M74.6 219.2h0M75.5 219.1h0M57.7 220.6h0M60.9 220.3h0M63.0 220.6h0M69.6 220.7h0M74.5 221.3h0M59.8 221.4h0M65.4 221.5h0M69.5 222.4h0M56.1 222.6h0M58.4 222.8h0M78.9 223.0h0M55.0 225.1h0M60.1 225.0h0M67.9 224.9h0M77.2 224.3h0M57.4 226.4h0M61.4 226.2h0M64.7 225.2h0M68.6 226.5h0M84.4 226.5h0M59.3 228.6h0M64.7 227.8h0M70.2 227.8h0M83.4 228.0h0M92.4 228.7h0M63.8 229.3h0M89.6 229.8h0M95.6 229.3h0M60.8 231.7h0M68.5 232.3h0M81.0 232.3h0M82.3 232.3h0M88.7 231.8h0M86.1 232.8h0M105.5 233.6h0M87.0 234.1h0M93.4 234.7h0M97.1 234.6h0M80.2 235.5h0M84.4 237.2h0M87.4 237.1h0M103.6 236.5h0M77.0 237.9h0M84.5 238.5h0M88.5 239.3h0M98.7 239.7h0M100.0 239.5h0M102.4 239.8h0M86.4 240.3h0M82.0 242.6h0M83.9 242.3h0M100.7 241.9h0M88.1 243.0h0M99.2 243.6h0M100.9 243.6h0M86.7 243.9h0M89.3 244.4h0M90.5 245.8h0M94.1 246.9h0M96.4 246.7h0M93.3 247.7h0M81.8 249.3h0M77.0 250.5h0M83.8 251.1h0M88.0 251.0h0M77.0 252.1h0M75.4 253.1h0M84.3 253.0h0M87.4 252.7h0M75.7 255.0h0M85.8 255.1h0M81.9 257.5h0M78.3 259.0h0M81.0 259.4h0M79.1 260.5h0M70.2 274.3h0M60.4 281.7h0M65.1 283.0h0M64.2 285.8h0M62.5 286.9h0M61.1 289.1h0M52.7 293.9h0" stroke="#0997d1"/><path d="M63.9 185.5h0M65.5 185.3h0M52.1 187.0h0M62.8 186.5h0M66.6 187.2h0M55.0 188.3h0M59.6 188.5h0M65.9 189.4h0M70.2 190.1h0M73.3 189.4h0M45.2 191.2h0M62.4 190.7h0M69.0 190.5h0M66.3 192.4h0M66.8 191.9h0M51.5 192.9h0M56.6 192.9h0M67.1 193.8h0M72.9 193.6h0M42.6 194.0h0M54.3 194.8h0M57.2 194.0h0M58.1 194.7h0M69.1 194.5h0M57.2 196.0h0M66.8 195.6h0M68.8 195.5h0M52.9 196.6h0M61.2 196.9h0M63.6 197.5h0M66.5 197.4h0M54.4 198.8h0M69.0 198.5h0M39.4 200.0h0M56.0 200.0h0M59.5 199.0h0M60.9 200.0h0M71.6 199.8h0M52.2 200.7h0M52.7 200.7h0M58.5 201.1h0M61.4 200.6h0M64.1 201.0h0M71.9 200.6h0M43.8 201.4h0M72.9 201.5h0M68.3 203.3h0M71.7 202.9h0M50.2 204.5h0M59.7 204.6h0M70.0 204.4h0M53.1 205.8h0M67.4 206.4h0M69.0 206.0h0M62.3 208.0h0M68.4 208.5h0M72.2 207.9h0M56.1 209.7h0M65.6 209.2h0M67.2 208.9h0M52.5 211.0h0M59.0 210.4h0M65.4 211.2h0M42.3 211.9h0M53.0 214.1h0M58.0 214.7h0M71.6 214.0h0M62.9 216.1h0M73.4 215.5h0M54.7 216.5h0M57.2 217.3h0M51.1 218.7h0M69.2 218.2h0M53.0 219.2h0M64.2 219.0h0M54.1 220.5h0M50.3 221.5h0M78.2 221.6h0M44.6 223.1h0M57.0 222.8h0M78.9 222.6h0M49.7 223.9h0M62.4 224.1h0M70.2 224.3h0M75.1 224.5h0M59.9 226.0h0M60.6 226.2h0M65.5 225.7h0M73.6 225.6h0M73.4 226.9h0M77.4 227.3h0M87.3 228.3h0M88.6 228.8h0M70.5 229.0h0M101.6 229.8h0M68.4 230.3h0M77.3 231.1h0M78.2 230.8h0M85.6 230.6h0M65.1 232.4h0M65.4 232.3h0M82.7 232.0h0M93.7 231.8h0M95.3 231.5h0M77.2 233.1h0M83.3 232.8h0M88.9 232.6h0M61.3 234.3h0M69.2 234.3h0M82.3 235.2h0M84.0 235.4h0M93.0 235.4h0M104.7 236.1h0M75.8 237.5h0M99.5 237.1h0M78.0 238.3h0M83.0 238.9h0M96.1 238.7h0M76.1 240.0h0M98.1 241.2h0M93.8 242.6h0M90.7 243.1h0M95.1 243.5h0M84.2 245.8h0M87.8 246.0h0M84.5 246.6h0M89.3 246.9h0M80.8 248.5h0M88.6 248.3h0M96.4 248.5h0M84.2 251.3h0M90.8 250.7h0M80.2 251.9h0M77.2 254.3h0M87.3 254.7h0M87.1 255.6h0M76.2 256.7h0M69.9 275.9h0M66.3 277.2h0M68.5 277.0h0M69.7 277.5h0M68.1 279.8h0M58.8 281.9h0M68.5 282.6h0M63.2 283.0h0M65.4 284.4h0M67.5 284.5h0M59.8 286.9h0M63.2 288.6h0M64.1 288.4h0M51.6 290.0h0" stroke="#069fce"/><path d="M60.4 187.4h0M64.3 186.4h0M67.8 186.8h0M70.1 187.5h0M72.8 187.4h0M48.1 188.6h0M51.8 188.8h0M58.1 187.6h0M60.8 188.0h0M69.5 187.9h0M53.3 189.0h0M65.0 189.7h0M49.6 190.3h0M59.3 191.4h0M52.7 191.6h0M55.2 191.5h0M61.5 191.5h0M74.2 192.4h0M37.5 193.7h0M58.6 192.8h0M64.8 193.6h0M66.1 193.2h0M52.8 194.0h0M60.5 195.0h0M67.4 194.5h0M67.9 194.6h0M73.5 194.3h0M46.9 196.0h0M48.5 195.7h0M59.4 195.6h0M52.5 198.8h0M58.0 198.5h0M61.6 198.4h0M68.3 198.5h0M74.1 197.8h0M64.8 200.1h0M68.8 200.1h0M49.1 201.3h0M40.1 202.0h0M52.4 203.3h0M59.8 202.9h0M69.4 203.2h0M55.3 204.3h0M62.8 204.4h0M68.1 204.5h0M57.0 205.9h0M63.3 206.2h0M70.5 205.3h0M62.7 206.7h0M63.9 206.9h0M67.5 206.4h0M55.9 208.7h0M65.1 207.8h0M68.4 209.8h0M72.5 210.0h0M54.9 210.5h0M60.5 210.5h0M71.9 211.1h0M61.8 211.8h0M50.2 213.9h0M53.1 212.8h0M56.8 213.0h0M71.6 212.7h0M56.8 215.0h0M57.9 215.6h0M65.3 215.3h0M65.2 217.1h0M72.1 217.2h0M73.3 217.6h0M50.6 219.6h0M51.7 221.0h0M61.9 220.5h0M72.8 221.3h0M49.9 221.8h0M55.3 222.3h0M68.3 222.3h0M79.0 222.6h0M53.2 223.6h0M74.1 223.4h0M57.4 224.3h0M63.4 224.4h0M72.9 224.1h0M49.6 226.3h0M53.3 225.8h0M58.6 226.2h0M81.4 226.0h0M51.8 226.7h0M56.3 226.7h0M57.8 227.4h0M70.9 226.5h0M76.8 227.9h0M89.8 228.7h0M61.4 229.3h0M64.4 229.8h0M57.7 230.8h0M62.3 230.5h0M63.2 231.1h0M85.0 231.0h0M102.9 231.2h0M86.1 231.6h0M87.2 232.5h0M97.6 232.3h0M102.9 232.0h0M104.9 231.5h0M59.6 233.1h0M79.5 233.6h0M100.8 233.4h0M57.7 234.4h0M77.4 234.6h0M100.5 234.3h0M96.7 235.8h0M83.5 236.4h0M89.5 237.0h0M91.5 237.6h0M102.2 237.1h0M86.1 237.9h0M89.0 238.3h0M90.6 237.7h0M93.4 237.8h0M100.5 238.7h0M104.8 238.1h0M89.8 240.0h0M91.0 239.1h0M94.8 239.5h0M95.7 240.0h0M89.7 241.0h0M95.0 240.5h0M96.4 240.8h0M101.5 240.4h0M82.9 241.5h0M94.5 242.6h0M74.0 243.7h0M84.6 243.8h0M87.6 243.5h0M92.1 242.9h0M98.3 243.3h0M79.5 244.7h0M90.2 245.0h0M76.4 245.4h0M96.8 246.1h0M82.8 246.7h0M87.1 246.9h0M88.7 246.7h0M76.9 248.2h0M81.8 248.5h0M87.2 250.0h0M88.7 249.0h0M81.6 250.2h0M89.8 250.4h0M76.6 252.8h0M77.8 253.3h0M85.5 253.7h0M88.0 253.3h0M75.5 256.2h0M77.8 257.1h0M81.4 258.4h0M67.4 273.6h0M70.9 273.4h0M70.6 275.7h0M58.5 280.0h0M62.8 280.1h0M65.5 281.3h0M62.6 281.7h0M63.6 281.5h0M65.6 281.9h0M62.6 285.4h0M60.2 287.6h0M61.0 288.5h0M43.7 289.9h0M47.3 290.7h0M57.9 291.1h0M42.3 295.1h0M55.6 294.8h0M51.0 295.2h0M51.5 295.8h0" stroke="#06a5c8"/><path d="M72.8 186.2h0M50.2 187.2h0M56.0 187.2h0M72.0 186.4h0M43.6 188.2h0M49.7 188.8h0M56.5 188.0h0M44.3 189.2h0M50.6 189.0h0M52.2 189.9h0M63.1 189.0h0M41.4 190.8h0M48.5 191.1h0M58.7 190.2h0M46.1 191.7h0M48.6 191.5h0M73.2 191.5h0M60.2 193.3h0M38.5 194.1h0M39.6 195.1h0M40.6 194.4h0M51.3 194.5h0M63.1 194.9h0M40.6 195.4h0M63.0 196.0h0M64.1 196.0h0M46.0 196.4h0M58.2 196.8h0M51.1 198.0h0M66.0 198.8h0M44.7 199.0h0M54.7 199.0h0M61.7 199.8h0M38.1 200.3h0M50.8 200.6h0M57.2 200.7h0M59.7 200.8h0M40.3 202.4h0M48.6 201.9h0M56.9 201.6h0M40.6 202.8h0M45.6 203.3h0M57.0 204.1h0M67.0 204.7h0M41.2 207.3h0M49.1 207.2h0M38.0 208.5h0M56.5 207.7h0M48.9 209.4h0M51.8 209.6h0M58.2 210.9h0M63.3 210.3h0M38.8 211.9h0M38.9 211.8h0M66.1 212.4h0M72.4 212.3h0M65.7 213.4h0M61.1 214.1h0M50.9 215.8h0M54.0 215.9h0M60.2 215.4h0M44.9 217.2h0M45.7 219.2h0M47.3 219.4h0M56.1 219.5h0M57.0 219.8h0M61.1 218.9h0M66.2 220.9h0M43.5 222.3h0M51.6 222.4h0M76.0 222.1h0M48.6 222.9h0M50.9 223.5h0M63.6 223.2h0M78.3 224.1h0M79.5 224.0h0M52.5 226.1h0M77.4 225.8h0M78.8 225.5h0M78.9 225.8h0M81.1 225.6h0M49.3 226.6h0M53.5 227.1h0M59.5 227.1h0M64.5 227.1h0M66.7 227.3h0M69.8 227.0h0M56.4 228.4h0M63.1 228.8h0M68.1 228.2h0M80.8 228.7h0M86.3 227.8h0M56.0 229.5h0M59.2 229.4h0M72.8 230.0h0M75.6 229.3h0M81.5 229.9h0M57.3 230.7h0M59.4 231.2h0M82.1 230.4h0M62.2 232.5h0M68.1 233.7h0M74.2 233.1h0M90.2 233.6h0M77.9 234.2h0M80.2 233.9h0M79.7 235.5h0M83.0 236.2h0M103.0 235.6h0M87.9 237.3h0M104.5 236.8h0M75.7 237.8h0M74.9 239.1h0M79.2 240.0h0M84.4 241.2h0M88.1 241.8h0M75.5 243.2h0M82.2 242.9h0M82.7 245.1h0M73.0 245.6h0M73.7 246.6h0M71.6 248.1h0M74.2 248.4h0M75.8 248.7h0M87.2 248.8h0M77.1 249.7h0M79.3 249.3h0M72.5 251.6h0M74.7 251.8h0M76.3 251.9h0M82.0 253.8h0M74.0 254.3h0M77.3 257.9h0M80.3 258.3h0M65.3 275.0h0M66.6 277.3h0M66.9 279.6h0M64.5 281.1h0M59.3 282.5h0M59.9 283.1h0M64.1 284.0h0M61.3 285.9h0M58.1 287.0h0M51.9 288.2h0M57.2 288.8h0M45.1 289.1h0M63.1 289.4h0M51.5 291.4h0M54.0 290.5h0M50.4 292.3h0M48.3 293.5h0M54.8 293.6h0M43.3 294.3h0M42.7 296.4h0" stroke="#07aac1"/><path d="M61.1 186.2h0M39.4 189.4h0M40.1 189.2h0M43.0 189.2h0M46.1 189.3h0M49.1 190.1h0M54.9 189.2h0M56.0 190.3h0M63.8 190.3h0M73.3 190.7h0M47.2 191.6h0M72.3 192.6h0M44.4 193.8h0M45.4 192.9h0M48.8 193.3h0M45.3 194.6h0M47.0 194.2h0M48.1 194.7h0M55.9 196.4h0M56.7 197.6h0M70.9 196.8h0M40.6 197.8h0M57.0 197.9h0M46.6 199.9h0M51.4 199.1h0M48.8 200.6h0M67.4 201.0h0M66.3 201.9h0M39.0 203.3h0M44.0 203.5h0M47.6 202.8h0M50.0 203.2h0M52.7 202.7h0M47.6 204.2h0M49.6 205.1h0M55.1 204.1h0M61.1 204.0h0M55.4 205.3h0M59.6 205.6h0M60.9 206.1h0M64.1 206.1h0M68.7 205.6h0M73.4 205.5h0M54.7 207.1h0M57.8 207.3h0M58.3 208.3h0M60.1 207.9h0M39.6 209.5h0M48.1 209.1h0M50.1 209.4h0M53.0 209.7h0M56.8 209.7h0M59.0 208.9h0M40.0 210.8h0M47.5 210.9h0M56.8 210.6h0M68.5 210.4h0M48.1 212.0h0M48.9 213.6h0M62.4 213.8h0M47.5 214.4h0M63.4 214.2h0M44.6 215.2h0M52.8 215.6h0M57.3 216.3h0M52.3 217.0h0M64.9 217.4h0M39.3 217.8h0M49.6 218.7h0M42.1 219.5h0M48.1 218.9h0M49.8 219.0h0M71.0 219.7h0M55.2 221.0h0M67.8 220.5h0M42.5 221.5h0M72.9 222.6h0M46.4 223.3h0M49.7 223.0h0M73.0 223.8h0M48.7 225.0h0M52.0 224.5h0M52.9 224.6h0M75.2 224.6h0M47.8 225.9h0M69.8 225.6h0M70.3 226.2h0M47.3 226.5h0M54.1 226.5h0M60.6 227.1h0M72.5 227.4h0M76.3 226.9h0M79.2 226.4h0M80.9 226.8h0M82.3 227.1h0M55.2 228.5h0M82.6 227.7h0M57.8 229.1h0M62.2 229.9h0M71.8 229.9h0M81.2 229.2h0M48.5 230.6h0M69.2 230.4h0M73.7 230.3h0M69.5 231.5h0M77.5 232.6h0M100.5 231.6h0M105.7 232.4h0M63.0 232.9h0M65.4 233.1h0M68.9 233.4h0M79.8 234.1h0M104.3 235.0h0M78.8 235.7h0M71.9 238.8h0M79.6 237.7h0M77.4 239.6h0M84.2 239.0h0M78.1 240.3h0M63.6 242.1h0M75.2 242.3h0M77.9 242.2h0M89.1 241.4h0M77.8 243.2h0M78.7 244.9h0M66.6 245.9h0M71.6 246.0h0M74.5 245.7h0M81.4 246.0h0M92.2 247.4h0M67.5 248.1h0M82.8 247.6h0M89.6 247.8h0M91.0 248.5h0M69.4 250.0h0M85.0 249.8h0M91.0 249.7h0M72.6 251.2h0M73.3 250.5h0M80.9 251.3h0M86.2 250.6h0M83.1 252.8h0M90.5 253.4h0M75.0 255.3h0M83.3 258.4h0M67.6 274.1h0M69.8 274.6h0M61.7 279.3h0M67.4 281.5h0M66.3 283.7h0M58.6 285.1h0M40.4 285.7h0M63.5 285.5h0M42.5 287.0h0M64.3 287.3h0M59.7 288.1h0M38.4 290.0h0M53.6 289.7h0M61.4 289.2h0M59.0 291.3h0M61.2 291.0h0M47.2 291.7h0M54.9 291.6h0M46.4 293.5h0M45.3 294.8h0M50.3 294.0h0M52.0 294.8h0M54.1 294.8h0M50.0 298.4h0M43.6 300.1h0" stroke="#0faeb9"/><path d="M48.7 187.5h0M46.6 188.6h0M55.6 188.9h0M47.5 190.9h0M41.7 192.3h0M43.8 192.2h0M44.3 191.5h0M39.9 192.8h0M58.9 192.9h0M70.9 193.6h0M71.5 193.1h0M39.8 197.0h0M41.8 196.5h0M39.5 198.3h0M41.5 199.6h0M41.5 200.2h0M44.6 200.6h0M67.7 200.2h0M60.8 202.2h0M48.4 204.0h0M57.8 205.2h0M59.5 207.3h0M45.8 208.7h0M47.9 208.6h0M49.6 208.5h0M60.3 208.1h0M38.5 210.1h0M58.0 209.5h0M62.7 209.8h0M42.4 211.2h0M49.9 211.0h0M51.1 211.0h0M43.2 211.7h0M44.4 211.9h0M49.7 211.8h0M53.1 212.4h0M45.7 213.8h0M46.8 213.7h0M41.0 215.0h0M49.1 214.4h0M55.4 214.8h0M40.8 215.3h0M47.3 215.7h0M47.6 216.2h0M55.6 215.7h0M38.5 218.6h0M42.4 218.1h0M57.0 218.7h0M54.0 219.5h0M37.6 220.9h0M45.3 221.1h0M49.9 220.6h0M50.3 220.2h0M46.0 222.3h0M56.7 221.7h0M58.9 222.5h0M45.8 223.6h0M50.2 225.9h0M54.8 226.3h0M57.6 227.3h0M66.1 229.4h0M67.3 229.1h0M69.5 229.1h0M56.1 231.0h0M58.3 232.0h0M60.0 231.5h0M62.9 231.6h0M67.4 232.2h0M61.0 233.5h0M78.4 233.1h0M65.7 235.1h0M66.7 235.1h0M71.3 233.9h0M72.9 234.2h0M68.5 238.4h0M73.2 237.8h0M75.7 240.9h0M87.8 240.6h0M71.1 241.5h0M74.0 242.0h0M79.3 242.5h0M66.1 243.1h0M66.9 243.0h0M68.3 243.0h0M79.7 242.8h0M81.1 243.2h0M80.6 245.1h0M70.4 245.7h0M85.7 245.6h0M75.6 247.4h0M84.2 248.4h0M78.4 250.1h0M85.2 250.0h0M94.2 249.3h0M70.3 250.4h0M74.2 250.9h0M91.6 250.5h0M71.1 251.9h0M90.9 251.7h0M73.5 255.8h0M80.9 255.8h0M84.0 257.4h0M80.4 260.2h0M67.9 274.1h0M64.8 276.8h0M61.2 278.5h0M61.9 278.8h0M67.5 280.9h0M67.5 283.8h0M61.0 284.7h0M62.4 285.0h0M43.3 285.4h0M52.4 286.2h0M44.6 287.4h0M46.5 286.5h0M48.9 287.6h0M48.1 288.0h0M53.9 288.2h0M56.1 289.1h0M56.9 289.7h0M59.6 290.0h0M37.7 291.1h0M45.6 290.3h0M50.5 291.3h0M57.2 291.3h0M45.6 292.6h0M57.4 292.4h0M57.7 291.9h0M45.2 292.9h0M48.2 294.5h0M44.4 295.7h0M48.6 296.0h0M40.9 299.6h0M41.5 299.0h0" stroke="#1bb2b0"/><path d="M54.5 186.9h0M38.8 190.3h0M43.9 191.3h0M74.5 194.5h0M37.4 195.9h0M37.7 196.3h0M43.4 198.1h0M46.0 197.8h0M38.6 199.2h0M46.3 199.4h0M50.4 199.8h0M37.9 202.6h0M42.1 204.0h0M51.7 204.2h0M58.5 204.9h0M41.4 205.8h0M46.8 205.6h0M49.7 205.8h0M42.9 207.0h0M48.0 207.0h0M51.6 206.7h0M56.3 206.9h0M37.1 208.8h0M44.7 209.2h0M40.1 211.0h0M52.7 210.9h0M62.3 210.9h0M47.1 211.7h0M55.0 212.5h0M63.4 211.8h0M48.2 213.8h0M45.6 214.2h0M51.5 214.6h0M46.0 215.4h0M51.5 215.3h0M45.2 217.0h0M47.3 217.6h0M44.7 218.6h0M46.3 218.8h0M51.6 218.4h0M54.2 217.9h0M38.1 219.6h0M39.0 219.8h0M43.0 218.9h0M53.5 221.2h0M70.5 220.5h0M54.4 222.9h0M66.3 223.6h0M46.1 225.0h0M67.6 226.3h0M68.0 226.0h0M38.0 228.1h0M46.9 227.8h0M53.9 228.1h0M73.4 228.7h0M39.3 229.8h0M49.3 229.8h0M52.9 229.4h0M52.8 231.1h0M60.6 231.3h0M71.6 230.8h0M74.3 231.4h0M79.2 232.4h0M67.5 233.7h0M73.3 233.1h0M71.9 234.4h0M58.4 235.7h0M73.8 235.1h0M73.8 236.5h0M80.9 237.1h0M80.3 238.8h0M63.8 239.5h0M64.2 239.7h0M73.3 239.8h0M72.8 241.1h0M77.3 241.2h0M79.8 240.3h0M80.3 241.4h0M77.2 242.9h0M61.2 244.2h0M77.3 244.4h0M82.4 244.7h0M88.8 244.8h0M66.1 245.9h0M76.2 245.9h0M78.9 246.2h0M63.1 247.5h0M72.3 246.7h0M77.8 247.4h0M79.5 247.6h0M68.4 248.1h0M92.1 249.3h0M68.5 251.2h0M73.1 251.6h0M87.0 251.6h0M72.5 255.2h0M80.1 259.6h0M70.4 266.5h0M71.3 271.1h0M68.6 272.1h0M66.4 275.6h0M68.7 276.1h0M63.6 276.9h0M58.3 277.9h0M62.9 278.2h0M65.3 277.8h0M56.2 280.2h0M42.9 284.8h0M56.8 284.2h0M46.0 285.4h0M47.2 286.0h0M57.1 286.1h0M54.1 286.9h0M55.8 287.0h0M41.9 287.8h0M45.5 289.6h0M46.5 289.1h0M41.5 291.8h0M43.4 291.9h0M49.9 292.0h0M44.0 293.0h0M52.7 292.8h0M49.9 295.1h0M39.4 295.8h0M48.7 297.0h0M38.6 299.9h0M45.0 299.7h0M46.3 299.4h0M47.6 298.9h0M40.6 300.7h0" stroke="#2ab6a6"/><path d="M43.2 190.3h0M61.2 190.8h0M39.3 192.1h0M38.6 193.2h0M41.6 194.6h0M50.1 194.7h0M40.1 195.7h0M45.0 196.4h0M40.9 197.6h0M43.1 196.7h0M47.5 197.4h0M44.9 198.1h0M41.1 199.2h0M40.3 200.5h0M42.7 200.3h0M41.4 202.1h0M45.8 201.9h0M66.5 202.5h0M41.6 202.9h0M43.2 204.0h0M37.2 205.4h0M38.5 205.2h0M41.9 206.4h0M44.1 206.8h0M45.0 208.7h0M45.5 210.0h0M55.3 211.7h0M38.1 213.1h0M40.5 213.6h0M38.6 213.9h0M39.7 214.3h0M43.9 214.9h0M37.8 216.8h0M53.5 216.4h0M42.8 220.5h0M46.9 220.4h0M47.0 221.9h0M40.4 223.6h0M41.3 226.2h0M45.8 226.7h0M47.9 226.8h0M40.9 228.5h0M44.1 228.8h0M51.5 227.9h0M79.0 227.7h0M48.6 229.0h0M49.2 230.2h0M77.9 231.9h0M64.4 233.0h0M72.6 233.0h0M62.9 234.5h0M66.2 235.9h0M67.7 235.3h0M72.5 236.3h0M69.0 237.3h0M74.0 237.6h0M77.1 237.0h0M65.9 238.6h0M67.8 241.2h0M71.9 240.7h0M64.3 242.0h0M72.3 241.6h0M71.5 242.8h0M67.3 244.7h0M75.9 244.7h0M70.1 245.9h0M78.3 245.8h0M68.3 246.7h0M85.2 246.9h0M69.1 248.8h0M70.5 248.5h0M73.6 248.3h0M71.1 249.6h0M72.0 249.1h0M68.9 250.8h0M73.4 253.2h0M72.9 254.7h0M88.0 255.1h0M71.1 257.6h0M65.4 266.3h0M65.4 269.1h0M65.5 270.2h0M60.8 275.0h0M62.9 276.0h0M51.7 278.3h0M64.1 277.9h0M57.0 280.0h0M37.9 283.8h0M58.9 284.4h0M47.7 285.3h0M48.9 285.9h0M39.9 287.6h0M39.2 288.4h0M41.1 288.1h0M46.4 287.8h0M47.7 289.4h0M37.4 292.4h0M38.3 291.4h0M38.9 292.6h0M44.8 292.5h0M49.9 293.0h0M47.4 294.6h0M43.2 295.5h0M46.4 296.3h0M49.7 296.2h0M46.7 296.5h0M51.0 296.4h0M38.0 298.5h0M39.8 298.2h0M44.0 298.9h0M38.4 300.5h0M39.7 300.6h0M37.1 301.4h0" stroke="#3cba9b"/><path d="M42.0 190.2h0M38.4 191.6h0M44.1 195.1h0M37.2 200.6h0M38.1 201.4h0M46.7 202.1h0M48.2 203.8h0M37.3 204.8h0M53.0 204.3h0M40.0 205.9h0M39.0 206.8h0M47.3 207.0h0M40.2 208.3h0M42.1 208.0h0M37.1 208.9h0M42.0 210.1h0M44.1 212.6h0M37.5 214.4h0M42.9 214.3h0M47.7 214.2h0M38.7 215.4h0M68.3 216.3h0M49.3 217.3h0M58.2 218.5h0M52.1 220.1h0M39.5 222.2h0M43.6 224.0h0M43.5 226.2h0M44.4 227.4h0M53.7 228.8h0M54.1 229.7h0M66.6 230.6h0M54.9 232.3h0M57.3 231.8h0M53.8 232.8h0M58.3 233.9h0M56.1 233.9h0M58.9 234.2h0M62.6 234.5h0M56.8 235.6h0M59.7 235.5h0M62.6 235.5h0M66.4 236.3h0M69.9 235.9h0M56.0 236.9h0M65.8 237.5h0M69.7 238.7h0M74.2 237.7h0M69.4 239.4h0M69.8 240.3h0M62.0 243.8h0M50.3 244.9h0M59.2 246.0h0M64.1 245.8h0M61.4 247.4h0M64.0 247.5h0M59.3 247.9h0M64.7 248.3h0M65.5 248.3h0M64.4 250.0h0M61.8 251.7h0M69.4 253.6h0M73.9 252.9h0M72.4 254.2h0M77.2 257.3h0M71.3 269.9h0M64.8 270.7h0M62.8 272.4h0M64.5 271.8h0M71.0 271.8h0M62.7 273.9h0M63.9 272.7h0M66.3 273.7h0M63.0 274.0h0M64.1 274.1h0M64.3 276.2h0M55.2 279.6h0M61.0 279.1h0M56.9 281.3h0M46.8 282.6h0M55.6 281.8h0M47.2 283.1h0M52.6 282.7h0M54.6 283.7h0M40.4 284.4h0M46.8 284.3h0M55.8 284.2h0M37.8 285.5h0M55.1 285.1h0M56.2 285.2h0M38.0 286.9h0M41.1 286.5h0M48.4 287.2h0M45.3 288.8h0M50.6 287.9h0M51.0 289.0h0M53.9 290.0h0M39.9 291.3h0M52.5 292.7h0M57.3 293.2h0M44.9 294.4h0M38.6 297.5h0M44.5 296.5h0M50.3 298.0h0" stroke="#4fbc90"/><path d="M40.9 193.3h0M44.3 196.4h0M46.5 198.4h0M39.6 200.7h0M50.4 202.8h0M43.3 206.0h0M39.7 208.4h0M43.3 208.2h0M47.4 207.7h0M38.6 211.3h0M46.1 210.5h0M39.9 212.9h0M41.6 213.6h0M60.3 212.8h0M42.3 217.1h0M40.1 223.9h0M44.0 225.1h0M39.2 226.5h0M45.2 228.7h0M48.1 227.7h0M72.1 228.6h0M50.6 229.8h0M45.6 230.6h0M55.2 232.1h0M74.2 231.7h0M47.9 233.0h0M46.0 234.1h0M64.5 234.6h0M74.8 235.9h0M63.7 237.6h0M66.8 236.4h0M61.3 238.0h0M63.1 238.0h0M61.8 239.9h0M56.5 240.4h0M58.5 240.5h0M71.0 240.7h0M66.3 241.7h0M73.5 242.9h0M62.9 244.1h0M57.7 249.6h0M60.7 249.8h0M73.7 249.9h0M62.4 251.2h0M63.1 250.1h0M69.8 251.9h0M73.8 258.1h0M69.4 260.7h0M69.5 261.5h0M68.0 262.7h0M71.9 265.4h0M65.7 266.4h0M69.9 267.8h0M62.5 270.3h0M48.9 274.9h0M49.6 278.4h0M46.1 283.8h0M56.5 282.9h0M38.6 284.1h0M51.5 284.5h0M53.0 284.9h0M55.0 284.9h0M50.9 286.8h0M52.2 287.0h0M38.5 288.3h0M53.1 291.9h0M55.4 291.5h0M40.0 293.3h0M41.1 295.9h0M42.0 296.3h0M37.2 297.5h0M40.5 297.9h0M43.8 297.8h0M45.5 298.8h0M48.2 298.5h0" stroke="#65be86"/><path d="M41.9 198.3h0M45.9 200.9h0M40.3 205.1h0M40.3 205.2h0M51.4 205.7h0M46.0 212.1h0M42.7 213.1h0M49.6 215.7h0M61.8 216.0h0M40.4 216.6h0M39.5 220.5h0M40.7 221.2h0M42.6 223.6h0M43.7 223.1h0M40.7 224.0h0M38.0 227.6h0M41.5 226.7h0M39.3 227.9h0M43.0 228.4h0M50.6 227.6h0M40.6 229.9h0M43.9 229.7h0M43.3 231.0h0M51.4 232.1h0M40.3 232.9h0M55.5 233.2h0M70.9 233.1h0M42.7 234.2h0M52.9 234.8h0M63.4 235.3h0M56.4 236.8h0M64.8 237.0h0M67.7 237.4h0M66.7 238.7h0M61.1 239.9h0M67.2 239.2h0M53.7 240.3h0M62.2 240.4h0M66.5 241.2h0M61.2 243.2h0M59.9 244.8h0M74.5 244.8h0M66.3 249.9h0M68.4 249.4h0M63.2 251.5h0M65.5 252.3h0M66.6 252.4h0M65.1 253.0h0M70.6 254.7h0M65.5 255.2h0M68.4 255.8h0M74.2 257.6h0M71.8 258.4h0M67.0 262.6h0M67.2 265.2h0M68.2 266.6h0M67.2 267.7h0M68.8 268.2h0M71.6 268.9h0M71.7 269.9h0M67.4 271.2h0M69.2 270.3h0M49.8 272.6h0M65.7 271.8h0M53.0 273.8h0M69.8 272.9h0M53.9 276.1h0M56.4 275.4h0M56.6 276.3h0M62.0 276.7h0M48.3 277.8h0M54.2 278.0h0M50.7 282.4h0M43.0 283.0h0M48.0 284.8h0M49.0 284.5h0M37.4 286.4h0M49.1 289.3h0M38.8 293.2h0M39.0 294.8h0M38.8 295.6h0M39.3 296.7h0M39.3 299.6h0" stroke="#7abf7c"/><path d="M44.9 202.5h0M48.5 205.9h0M46.3 207.5h0M43.7 215.4h0M38.9 217.3h0M37.8 225.3h0M39.5 225.2h0M42.4 225.5h0M38.4 229.3h0M52.1 231.2h0M41.8 231.8h0M44.6 231.8h0M52.5 233.7h0M55.0 233.5h0M54.8 234.3h0M54.8 236.1h0M60.2 235.4h0M65.1 236.3h0M41.9 238.8h0M46.2 237.7h0M56.5 237.9h0M61.7 238.3h0M66.3 239.2h0M65.6 240.8h0M57.3 242.0h0M62.4 242.5h0M67.0 242.3h0M68.0 242.1h0M58.8 244.3h0M64.1 244.7h0M55.5 246.6h0M65.7 246.4h0M57.1 248.8h0M61.7 248.4h0M62.7 247.9h0M57.4 250.2h0M57.5 254.6h0M68.9 254.8h0M70.8 255.7h0M64.2 257.5h0M65.8 259.2h0M66.9 258.9h0M66.2 260.8h0M67.7 261.3h0M70.8 261.6h0M71.4 262.4h0M68.6 266.2h0M63.4 267.6h0M66.9 267.3h0M51.0 268.2h0M63.9 268.0h0M70.3 267.7h0M68.8 270.0h0M69.4 269.3h0M61.9 271.6h0M59.2 274.3h0M60.5 275.9h0M50.1 277.0h0M58.6 277.0h0M59.7 277.4h0M60.5 276.8h0M59.0 278.5h0M50.9 279.1h0M47.4 280.4h0M48.3 281.3h0M52.8 283.1h0M50.8 284.9h0M45.0 285.2h0M41.0 290.6h0M41.0 296.9h0" stroke="#8dbf74"/><path d="M40.9 227.0h0M43.3 227.2h0M40.2 230.8h0M42.4 230.9h0M44.2 230.8h0M50.4 230.6h0M40.3 232.3h0M41.9 232.9h0M46.1 232.7h0M47.1 233.9h0M49.1 233.1h0M57.3 234.4h0M38.1 237.4h0M46.5 236.9h0M53.6 237.2h0M62.0 236.8h0M37.3 238.2h0M58.8 238.6h0M64.2 238.0h0M41.8 239.7h0M59.5 240.8h0M54.3 241.8h0M69.0 241.9h0M50.0 242.9h0M56.0 243.7h0M57.9 243.0h0M69.8 243.6h0M56.9 244.6h0M62.3 244.7h0M56.1 245.9h0M56.9 245.4h0M42.8 246.8h0M50.7 246.8h0M54.1 247.4h0M76.6 246.8h0M71.1 261.0h0M72.3 260.8h0M62.7 261.9h0M64.5 262.5h0M68.4 261.6h0M63.3 263.1h0M63.9 263.5h0M66.9 263.0h0M63.0 264.4h0M65.7 264.0h0M67.6 265.1h0M59.2 267.3h0M61.6 267.7h0M65.8 268.2h0M65.0 269.7h0M62.8 271.2h0M58.4 273.7h0M57.5 274.8h0M48.8 275.5h0M57.0 277.0h0M53.7 278.6h0M56.3 278.7h0M39.4 284.1h0M37.1 293.9h0M37.2 297.7h0" stroke="#9fbe6d"/><path d="M40.9 221.5h0M37.1 228.4h0M41.4 229.1h0M39.2 230.8h0M47.4 231.7h0M47.7 231.9h0M51.7 234.3h0M41.0 236.0h0M53.4 236.3h0M55.9 236.3h0M41.3 236.6h0M56.2 237.8h0M71.1 237.6h0M44.7 239.2h0M57.9 239.7h0M59.5 239.1h0M40.4 242.9h0M43.8 242.9h0M51.7 242.8h0M54.8 242.6h0M57.2 243.7h0M59.8 243.3h0M58.4 246.3h0M49.5 247.4h0M58.1 248.2h0M60.5 248.4h0M55.5 250.0h0M53.1 251.0h0M58.2 250.3h0M45.7 252.4h0M56.8 251.5h0M60.8 252.6h0M64.0 251.8h0M65.4 253.6h0M66.5 253.5h0M59.3 256.5h0M64.7 258.1h0M66.3 258.1h0M66.7 257.8h0M69.6 258.5h0M70.1 257.9h0M68.9 259.3h0M71.3 259.8h0M54.1 260.5h0M64.2 263.9h0M66.9 264.4h0M60.9 265.3h0M63.3 265.7h0M69.0 265.9h0M62.8 268.1h0M39.8 270.0h0M61.2 270.8h0M56.9 272.1h0M62.4 273.8h0M40.1 274.6h0M48.8 274.0h0M39.1 276.2h0M51.9 277.0h0M40.5 278.8h0M46.8 279.1h0M51.8 279.2h0M43.4 281.1h0M45.2 281.0h0M53.1 280.3h0M47.7 281.8h0M49.0 282.5h0M42.4 282.8h0M48.2 282.9h0" stroke="#b0bd66"/><path d="M46.2 229.8h0M39.2 232.7h0M42.8 233.1h0M37.7 235.2h0M42.6 236.3h0M45.1 236.0h0M46.6 235.3h0M50.8 236.2h0M41.6 237.1h0M48.1 236.5h0M51.8 236.6h0M55.1 236.4h0M55.1 239.4h0M55.7 239.9h0M54.3 240.5h0M61.2 240.6h0M38.1 242.1h0M44.3 241.9h0M44.1 243.3h0M63.0 243.0h0M46.2 244.4h0M54.3 245.8h0M46.3 247.1h0M51.4 247.8h0M48.9 249.2h0M53.9 249.0h0M62.1 249.6h0M55.6 250.9h0M63.6 252.8h0M68.5 255.0h0M58.6 257.4h0M66.6 257.6h0M56.2 259.6h0M63.2 258.9h0M41.9 260.5h0M69.5 263.3h0M37.6 264.3h0M58.1 264.1h0M51.5 265.4h0M53.1 266.7h0M53.8 268.0h0M57.1 271.0h0M38.1 273.7h0M39.4 273.4h0M62.6 274.3h0M44.5 276.2h0M46.6 275.4h0M51.8 275.4h0M39.8 276.8h0M47.4 277.0h0M53.7 276.6h0M44.9 278.4h0M46.2 278.1h0M46.7 278.2h0M42.5 279.8h0M44.7 279.3h0M54.8 279.3h0M39.0 280.9h0M49.6 280.7h0M43.0 281.4h0M54.6 281.9h0M41.1 283.1h0" stroke="#c0bc60"/><path d="M37.4 232.7h0M45.0 233.8h0M39.5 236.7h0M46.2 237.2h0M45.0 238.5h0M48.1 237.7h0M46.1 239.9h0M46.4 239.3h0M49.4 239.3h0M52.4 238.9h0M39.7 240.4h0M44.5 241.1h0M45.3 240.3h0M46.6 241.1h0M49.9 240.5h0M41.7 242.2h0M43.8 241.4h0M53.5 242.1h0M46.1 243.3h0M44.9 244.7h0M47.0 244.6h0M51.4 244.6h0M47.9 245.1h0M50.9 246.2h0M51.8 245.4h0M51.7 246.4h0M53.0 246.6h0M58.6 247.2h0M48.3 247.8h0M47.8 249.7h0M48.2 252.7h0M59.1 253.0h0M61.3 253.6h0M61.6 254.4h0M65.0 254.1h0M53.4 255.6h0M50.6 257.0h0M66.3 256.5h0M68.1 256.7h0M65.0 259.9h0M47.0 260.9h0M61.2 261.2h0M59.9 262.5h0M58.8 263.0h0M59.3 264.3h0M60.5 264.6h0M38.3 265.3h0M49.9 265.9h0M54.6 266.1h0M61.5 267.6h0M39.8 267.8h0M55.4 268.6h0M38.7 269.5h0M61.4 270.0h0M50.5 270.4h0M52.6 271.1h0M52.8 272.3h0M48.3 273.7h0M56.4 272.9h0M38.8 274.9h0M40.9 274.9h0M43.6 274.1h0M46.7 274.5h0M38.6 275.2h0M49.3 275.7h0M37.6 277.4h0M46.3 277.3h0M39.5 277.7h0M37.3 279.6h0M47.8 278.9h0M53.7 279.3h0M51.1 281.0h0M54.1 280.2h0M39.8 283.1h0" stroke="#cfbb5a"/><path d="M39.4 224.0h0M38.4 231.8h0M39.4 234.9h0M41.8 234.9h0M48.3 234.4h0M37.3 235.9h0M39.2 235.2h0M44.6 236.3h0M52.2 236.0h0M38.2 237.7h0M51.7 238.5h0M53.7 238.3h0M38.7 239.7h0M51.3 239.7h0M41.3 240.6h0M52.4 240.3h0M38.2 243.8h0M39.0 243.7h0M48.4 243.4h0M53.0 243.6h0M41.6 245.8h0M44.9 245.9h0M41.2 246.6h0M47.6 248.7h0M53.1 248.6h0M51.1 249.6h0M59.5 249.8h0M44.4 251.8h0M50.5 252.6h0M53.4 252.2h0M56.0 252.6h0M59.1 251.8h0M66.0 255.0h0M54.6 255.4h0M43.9 256.8h0M40.6 258.9h0M58.3 259.7h0M43.7 260.8h0M45.1 260.8h0M46.3 260.5h0M59.3 261.2h0M61.5 260.2h0M39.6 262.3h0M58.3 261.7h0M60.7 262.5h0M43.0 263.0h0M65.2 263.5h0M55.1 264.0h0M40.6 265.8h0M41.4 266.2h0M57.3 266.0h0M44.8 268.4h0M54.6 268.1h0M57.5 269.7h0M51.4 271.6h0M55.6 271.4h0M61.3 272.3h0M47.2 273.6h0M49.8 272.7h0M55.9 273.7h0M54.1 274.4h0M43.3 275.5h0M53.9 275.9h0M51.3 277.4h0M43.4 279.7h0M41.6 280.7h0M41.6 282.5h0" stroke="#deba53"/><path d="M44.9 234.5h0M46.7 234.0h0M48.6 235.5h0M49.2 236.2h0M39.7 238.5h0M46.9 238.5h0M59.3 238.8h0M48.8 239.9h0M39.8 242.6h0M52.8 245.0h0M49.2 246.3h0M41.0 248.6h0M59.1 250.4h0M37.9 252.5h0M42.4 252.0h0M56.0 253.5h0M60.0 254.8h0M48.7 255.7h0M58.3 255.5h0M62.3 256.2h0M40.5 256.7h0M51.4 256.7h0M55.5 257.2h0M41.5 258.3h0M43.4 258.0h0M55.4 258.7h0M56.4 258.6h0M58.2 258.9h0M68.7 257.8h0M46.0 259.0h0M53.8 259.4h0M60.8 260.0h0M62.3 259.2h0M49.6 261.0h0M53.7 262.0h0M53.0 263.6h0M55.4 264.8h0M58.9 266.1h0M60.8 267.3h0M59.7 268.0h0M60.6 268.7h0M49.0 269.1h0M56.2 269.4h0M60.7 268.9h0M37.6 271.1h0M51.8 270.7h0M56.3 270.3h0M54.7 271.9h0M57.9 272.5h0M37.0 273.6h0M43.9 273.2h0M54.1 272.8h0M50.9 274.4h0M52.1 274.1h0M53.6 274.0h0M55.6 274.3h0M42.3 275.2h0M45.5 275.4h0M37.0 278.3h0M37.8 278.0h0M38.2 280.1h0M41.2 280.1h0M38.0 281.0h0M41.3 281.1h0M37.8 281.4h0M39.7 282.2h0M40.5 282.2h0" stroke="#ecb94c"/><path d="M37.7 233.7h0M40.2 239.4h0M41.7 240.6h0M46.2 241.6h0M46.9 241.5h0M50.5 242.0h0M47.9 244.5h0M46.5 247.2h0M37.5 248.2h0M38.3 248.0h0M41.8 248.1h0M50.2 248.8h0M43.6 249.8h0M45.3 249.8h0M43.1 251.1h0M48.8 250.4h0M50.9 250.8h0M43.3 252.4h0M46.7 251.9h0M37.8 253.8h0M39.8 252.9h0M44.2 253.7h0M46.2 254.1h0M50.5 254.1h0M53.9 255.1h0M60.2 254.6h0M48.8 258.0h0M60.3 258.8h0M61.5 257.8h0M63.3 258.6h0M39.5 259.7h0M52.0 259.4h0M59.4 259.2h0M48.3 260.4h0M64.3 260.8h0M38.1 262.4h0M42.1 263.0h0M47.2 263.8h0M54.9 263.5h0M56.4 268.6h0M48.7 269.8h0M38.8 270.5h0M43.3 271.1h0M39.5 272.5h0M40.2 272.5h0M52.4 272.8h0M37.5 275.9h0M42.8 276.9h0M39.5 279.0h0" stroke="#f9bb43"/><path d="M50.9 233.6h0M37.9 234.3h0M43.3 235.3h0M51.0 236.9h0M41.0 238.3h0M48.7 241.6h0M37.3 243.6h0M42.0 243.8h0M38.3 245.0h0M37.5 245.1h0M38.8 246.0h0M39.1 245.4h0M45.4 246.0h0M39.8 247.4h0M42.2 246.5h0M44.8 247.9h0M46.8 249.6h0M51.6 249.8h0M49.2 252.0h0M42.3 253.4h0M43.5 253.3h0M38.6 254.6h0M41.0 255.0h0M56.2 254.9h0M58.2 254.1h0M38.8 255.8h0M42.8 255.6h0M50.7 255.6h0M55.8 255.6h0M57.2 255.2h0M59.7 255.5h0M39.0 256.6h0M38.4 257.7h0M59.0 258.6h0M46.4 260.1h0M49.3 259.7h0M57.2 259.2h0M52.3 260.4h0M53.6 260.6h0M48.7 261.7h0M50.2 262.5h0M51.5 263.0h0M49.1 264.6h0M53.0 264.5h0M61.7 264.5h0M45.2 266.2h0M47.9 265.5h0M37.4 267.2h0M38.4 266.7h0M39.9 267.2h0M42.0 266.8h0M46.8 266.5h0M52.5 267.5h0M41.3 268.5h0M42.6 268.5h0M49.8 268.4h0M42.7 269.8h0M47.6 270.0h0M42.3 270.6h0M45.8 271.3h0M57.9 270.4h0M38.3 272.3h0M44.1 272.6h0M47.2 272.2h0M47.9 271.7h0M40.7 273.9h0M42.1 273.2h0M40.8 275.6h0" stroke="#ffc337"/><path d="M37.2 240.1h0M40.9 246.2h0M48.3 247.2h0M46.2 250.3h0M52.0 251.2h0M48.3 252.4h0M54.3 251.7h0M50.0 253.6h0M57.8 253.0h0M39.9 254.5h0M42.5 255.8h0M57.1 257.1h0M45.8 258.2h0M46.4 257.6h0M38.0 259.5h0M39.2 261.3h0M42.1 262.1h0M45.5 261.9h0M38.0 262.8h0M46.2 262.9h0M37.1 265.1h0M39.1 264.7h0M51.2 264.2h0M46.6 265.5h0M45.3 267.4h0M49.7 266.5h0M55.5 267.5h0M38.3 268.1h0M52.4 269.6h0M46.4 271.1h0M49.2 270.6h0M42.0 272.5h0M59.0 272.0h0M37.1 281.7h0" stroke="#fccd2f"/><path d="M37.1 245.0h0M42.1 244.4h0M43.3 245.4h0M47.1 246.2h0M38.8 247.5h0M50.0 248.8h0M37.3 252.7h0M41.3 253.0h0M47.7 255.0h0M40.4 255.3h0M46.1 256.0h0M47.2 255.3h0M53.2 256.6h0M49.1 257.8h0M41.9 259.3h0M48.8 260.0h0M50.7 258.9h0M53.9 259.1h0M57.2 261.1h0M39.6 262.8h0M44.1 263.0h0M47.9 263.5h0M61.9 262.8h0M40.4 264.0h0M45.7 265.1h0M46.9 264.0h0M62.1 265.2h0M43.2 267.5h0M48.7 268.4h0M40.3 269.0h0M41.5 269.7h0M46.2 272.4h0M45.3 273.3h0M57.9 274.1h0" stroke="#f8d627"/><path d="M39.3 244.1h0M39.4 247.7h0M43.1 253.9h0M39.4 255.5h0M49.5 256.3h0M38.6 257.1h0M44.4 257.3h0M49.0 257.0h0M54.4 257.4h0M39.7 258.6h0M53.1 258.9h0M43.3 260.1h0M58.8 260.3h0M43.8 262.1h0M44.1 261.5h0M47.6 262.1h0M41.2 263.6h0M51.8 265.1h0M57.4 264.5h0M55.9 265.2h0M45.5 269.9h0M54.5 270.1h0M52.4 271.8h0" stroke="#f5e020"/><path d="M47.8 241.0h0M39.5 252.4h0M47.5 252.8h0M52.5 253.5h0M41.9 253.9h0M52.4 254.9h0M50.2 260.5h0M52.2 261.6h0M50.2 263.9h0M44.5 265.7h0M44.9 266.8h0M44.9 271.2h0" stroke="#f5ed17"/><path d="M40.0 249.6h0M37.3 250.7h0M49.9 254.3h0M52.8 254.9h0M43.7 263.9h0M47.7 267.2h0M43.8 268.1h0" stroke="#f9fb0e"/></g><g fill="none" stroke-width="1.3" stroke-linecap="round"><path d="M49.0 172.4h0" stroke="#0870df"/><path d="M37.5 152.7h0M47.2 163.2h0M39.2 164.1h0M41.5 176.0h0" stroke="#0f77db"/><path d="M43.0 155.4h0M49.6 169.7h0M47.0 176.8h0" stroke="#137ed7"/><path d="M37.8 159.5h0M38.6 160.9h0M47.7 160.0h0M50.7 163.5h0M46.0 164.8h0M50.5 166.1h0M49.3 168.6h0M40.6 170.1h0M46.8 169.6h0M48.2 170.5h0M49.0 174.9h0M47.8 176.1h0M53.2 177.2h0M41.2 178.7h0" stroke="#1485d4"/><path d="M55.0 151.3h0M45.0 153.7h0M38.4 155.4h0M37.3 157.4h0M41.3 157.2h0M49.3 159.3h0M50.2 159.0h0M44.8 163.0h0M38.2 165.2h0M42.6 165.9h0M44.3 169.4h0M48.2 169.8h0M40.5 175.0h0M46.5 175.1h0M46.4 180.3h0M51.8 179.7h0" stroke="#108ed2"/><path d="M51.7 148.2h0M49.5 153.6h0M45.0 155.0h0M42.4 158.3h0M41.9 158.5h0M37.9 162.1h0M43.0 164.9h0M45.0 165.2h0M47.2 165.5h0M37.4 167.4h0M39.6 166.4h0M40.4 166.9h0M44.6 166.3h0M48.2 166.8h0M50.0 166.7h0M49.7 168.1h0M42.0 172.0h0M43.1 172.1h0M42.3 173.3h0M47.3 173.6h0M54.4 173.1h0M46.3 175.8h0M43.6 177.5h0M38.2 179.1h0M44.1 179.0h0M37.3 179.8h0M38.7 179.9h0M44.9 179.4h0M53.6 179.9h0" stroke="#0997d1"/><path d="M52.2 150.6h0M53.3 151.0h0M39.6 152.7h0M41.1 152.7h0M54.4 152.5h0M39.1 154.1h0M43.4 153.6h0M45.5 153.7h0M38.9 156.5h0M43.9 157.9h0M49.7 157.4h0M39.1 159.2h0M43.1 158.5h0M43.9 160.4h0M50.6 160.6h0M49.4 162.0h0M48.2 163.6h0M59.2 164.3h0M51.0 166.2h0M38.1 169.6h0M41.7 169.7h0M40.9 172.1h0M47.7 171.6h0M50.3 172.3h0M53.9 172.4h0M48.9 173.7h0M43.8 174.9h0M47.3 174.4h0M45.1 176.9h0M49.1 177.1h0M53.8 177.7h0M45.9 179.0h0M50.4 178.2h0M52.3 180.2h0M56.0 180.9h0M48.4 182.2h0M52.0 182.5h0" stroke="#069fce"/><path d="M56.0 146.6h0M54.2 146.8h0M53.0 150.9h0M56.6 151.1h0M51.0 153.1h0M51.5 153.8h0M49.2 154.7h0M43.1 156.9h0M57.1 157.2h0M44.8 159.7h0M57.8 158.7h0M37.6 160.6h0M40.1 160.0h0M57.3 160.8h0M54.6 163.3h0M51.2 167.9h0M58.6 169.0h0M42.1 170.7h0M51.2 170.3h0M38.0 172.1h0M43.6 172.8h0M37.7 174.6h0M41.9 175.3h0M52.9 174.5h0M54.0 175.2h0M50.3 175.7h0M58.7 177.9h0M59.2 179.0h0M39.4 179.3h0M54.6 179.6h0M46.3 181.4h0M50.4 181.3h0M51.6 182.2h0M59.4 183.3h0" stroke="#06a5c8"/><path d="M53.2 144.7h0M54.3 144.4h0M52.7 147.5h0M54.6 149.3h0M48.2 150.5h0M54.3 149.5h0M59.2 149.5h0M65.6 150.2h0M39.0 151.9h0M50.2 151.7h0M41.7 152.4h0M47.9 152.8h0M55.7 152.6h0M57.6 152.5h0M44.4 156.2h0M56.2 156.5h0M45.1 158.1h0M48.9 157.2h0M51.3 159.4h0M67.4 159.1h0M52.4 159.9h0M46.4 161.9h0M47.1 162.3h0M49.3 161.5h0M57.5 161.3h0M59.8 162.4h0M54.4 163.9h0M55.4 164.1h0M57.1 164.6h0M48.8 165.5h0M38.1 166.5h0M43.0 166.4h0M44.2 167.7h0M46.3 168.1h0M43.3 169.8h0M40.3 170.8h0M52.3 171.3h0M56.4 172.3h0M44.2 174.8h0M51.1 174.5h0M42.8 177.5h0M52.6 178.1h0M43.5 180.5h0M61.9 181.9h0" stroke="#07aac1"/><path d="M85.5 130.1h0M63.2 138.4h0M61.0 139.8h0M64.1 139.5h0M57.5 144.4h0M50.3 146.9h0M57.1 147.3h0M60.1 147.6h0M74.6 148.1h0M43.2 151.2h0M50.6 153.1h0M56.7 152.6h0M47.1 153.9h0M48.3 153.7h0M50.2 156.5h0M54.1 157.8h0M57.6 157.8h0M55.3 159.6h0M53.7 161.1h0M63.5 163.0h0M52.1 167.0h0M56.7 167.5h0M54.4 168.5h0M55.7 168.1h0M58.6 168.5h0M73.2 168.4h0M40.0 169.5h0M70.8 171.5h0M59.7 173.2h0M58.6 174.8h0M39.1 176.3h0M42.2 176.1h0M52.4 176.6h0M53.7 175.5h0M54.6 176.5h0M38.4 177.7h0M58.9 180.2h0M67.0 179.8h0M55.8 181.6h0M47.6 182.2h0M50.5 182.7h0M57.1 181.9h0M70.2 183.1h0M64.5 184.2h0" stroke="#0faeb9"/><path d="M82.8 131.5h0M80.8 133.7h0M73.9 134.0h0M72.6 135.4h0M59.8 141.0h0M65.4 141.8h0M52.4 144.1h0M54.5 143.6h0M58.9 143.8h0M51.9 145.3h0M65.0 145.4h0M55.8 146.2h0M57.2 147.0h0M62.2 148.0h0M49.8 149.3h0M63.4 148.4h0M81.6 148.6h0M55.0 150.6h0M48.0 151.9h0M52.5 152.3h0M62.1 154.1h0M82.0 153.4h0M49.7 155.6h0M55.2 155.5h0M41.5 155.9h0M60.8 157.1h0M62.0 157.5h0M52.2 158.8h0M60.8 158.6h0M61.1 159.7h0M53.6 160.5h0M63.4 160.2h0M68.3 160.3h0M51.6 161.1h0M52.8 161.2h0M59.0 162.8h0M55.7 166.2h0M61.3 165.9h0M63.9 166.2h0M46.3 169.6h0M55.3 169.0h0M64.1 170.4h0M60.3 175.1h0M72.4 175.1h0M37.3 176.6h0M69.8 176.5h0M57.4 177.9h0M63.4 177.8h0M68.7 178.3h0M58.1 180.7h0M59.3 181.3h0M68.1 180.6h0M58.3 182.5h0" stroke="#1bb2b0"/><path d="M84.0 129.6h0M83.3 136.7h0M72.2 142.1h0M58.4 143.7h0M63.5 143.2h0M67.9 145.0h0M51.0 147.9h0M62.5 147.8h0M53.5 148.6h0M59.8 149.7h0M60.4 150.8h0M61.1 150.8h0M58.5 154.4h0M77.1 154.5h0M65.9 155.0h0M81.7 155.1h0M64.7 156.3h0M57.0 158.7h0M80.6 158.5h0M67.0 161.3h0M61.0 164.2h0M63.5 164.8h0M58.8 165.1h0M66.0 166.3h0M58.4 168.0h0M63.3 168.0h0M77.3 167.9h0M63.0 169.1h0M63.9 168.9h0M67.0 169.2h0M68.3 170.8h0M61.5 172.4h0M62.7 172.4h0M72.6 171.7h0M61.3 174.1h0M63.0 175.0h0M59.8 176.6h0M71.3 176.8h0M76.4 177.7h0M56.9 178.5h0M61.0 178.6h0M55.9 179.8h0M57.3 179.4h0M59.8 181.7h0M53.5 182.9h0M54.9 182.3h0M66.0 182.5h0M56.5 183.2h0M61.8 183.7h0" stroke="#2ab6a6"/><path d="M85.8 127.8h0M86.2 128.9h0M83.2 133.2h0M75.2 134.2h0M70.3 138.8h0M73.3 137.8h0M75.8 138.0h0M57.3 140.1h0M64.4 140.9h0M66.1 141.1h0M70.8 141.2h0M71.5 141.0h0M80.9 140.4h0M63.8 142.0h0M68.5 142.8h0M74.1 142.7h0M62.6 144.4h0M63.9 146.0h0M67.4 145.5h0M59.3 147.5h0M63.7 148.9h0M65.2 148.7h0M73.6 148.5h0M78.2 151.1h0M59.4 152.8h0M73.4 152.0h0M71.5 153.4h0M69.3 155.0h0M52.7 156.7h0M63.4 156.9h0M70.0 156.9h0M63.5 159.3h0M77.0 158.9h0M60.4 159.9h0M68.5 162.2h0M78.1 162.2h0M65.4 164.6h0M63.6 167.3h0M72.5 167.0h0M76.6 167.8h0M60.8 170.0h0M61.5 169.1h0M72.5 169.7h0M73.6 170.1h0M76.2 169.1h0M61.3 170.8h0M67.0 170.4h0M58.8 172.5h0M66.6 172.7h0M76.3 171.5h0M60.0 172.8h0M61.8 173.1h0M69.6 174.0h0M67.5 174.2h0M68.4 174.5h0M76.1 175.9h0M65.9 177.6h0M67.0 176.8h0M70.0 178.1h0M70.0 180.5h0M74.0 179.4h0M65.9 181.1h0M60.9 182.4h0M69.0 183.8h0" stroke="#3cba9b"/><path d="M87.2 127.0h0M83.9 131.0h0M79.2 132.2h0M79.1 133.6h0M72.2 134.8h0M72.4 139.7h0M85.3 140.2h0M77.1 140.8h0M59.0 141.6h0M60.1 141.9h0M63.4 142.1h0M78.9 142.6h0M56.2 142.9h0M68.0 143.6h0M77.8 143.0h0M83.6 143.6h0M80.6 145.4h0M52.2 145.9h0M82.3 147.2h0M63.7 150.4h0M68.9 150.4h0M70.6 149.7h0M65.8 151.4h0M71.7 151.0h0M64.6 152.5h0M65.2 152.0h0M66.6 152.0h0M62.9 153.6h0M62.8 154.6h0M66.8 154.9h0M67.9 155.4h0M72.8 155.3h0M73.5 155.9h0M75.3 156.9h0M58.5 158.3h0M67.1 157.7h0M79.4 158.0h0M70.7 160.6h0M63.6 161.5h0M53.8 163.2h0M74.4 163.1h0M80.1 162.8h0M67.8 163.9h0M71.3 163.7h0M72.3 164.1h0M79.0 163.7h0M58.9 166.8h0M62.0 166.5h0M67.2 168.0h0M69.7 169.5h0M60.5 171.3h0M75.7 171.1h0M67.1 173.7h0M73.7 173.1h0M75.2 174.7h0M57.8 176.1h0M61.8 175.6h0M67.8 176.3h0M56.2 176.8h0M63.8 177.8h0M69.4 177.7h0" stroke="#4fbc90"/><path d="M85.7 129.8h0M85.2 132.2h0M87.6 131.8h0M80.1 134.3h0M85.7 134.4h0M65.6 136.2h0M77.7 135.1h0M82.4 135.4h0M74.4 136.8h0M76.4 136.6h0M82.5 137.9h0M85.8 137.8h0M85.9 139.9h0M56.1 141.7h0M75.4 142.1h0M77.0 142.8h0M80.5 141.6h0M85.2 142.7h0M71.3 144.1h0M72.5 143.3h0M81.8 143.7h0M82.2 143.4h0M63.5 146.4h0M84.0 146.0h0M67.4 146.8h0M69.5 148.0h0M80.0 147.7h0M70.5 148.6h0M73.4 149.9h0M66.4 151.6h0M72.8 151.3h0M82.5 151.3h0M70.1 152.2h0M78.1 152.3h0M79.4 152.6h0M83.6 153.0h0M78.0 153.4h0M64.8 154.6h0M76.7 154.7h0M74.7 157.2h0M65.3 158.7h0M72.0 158.7h0M74.1 158.6h0M69.7 161.0h0M66.1 162.0h0M70.6 162.0h0M77.2 161.9h0M73.2 163.6h0M68.2 165.5h0M78.1 165.4h0M64.6 167.3h0M73.7 167.2h0M78.0 166.5h0M64.2 168.5h0M70.6 170.4h0M62.5 172.8h0M71.2 174.0h0M73.2 175.9h0M61.5 178.7h0M66.4 178.8h0M65.0 180.4h0M68.8 179.6h0M70.7 179.9h0" stroke="#65be86"/><path d="M87.4 124.9h0M80.2 133.5h0M76.7 134.2h0M79.1 133.8h0M84.4 134.3h0M85.2 135.7h0M86.3 136.0h0M80.5 136.6h0M67.5 138.7h0M70.0 139.9h0M70.3 139.8h0M80.3 139.6h0M82.2 139.6h0M58.5 141.5h0M82.6 140.3h0M81.3 142.6h0M75.0 143.7h0M70.6 145.6h0M75.3 146.4h0M76.8 145.6h0M75.7 147.6h0M77.1 148.0h0M78.5 148.8h0M68.8 151.3h0M70.2 152.4h0M70.8 153.7h0M74.0 154.4h0M61.0 155.6h0M62.3 155.4h0M74.2 155.8h0M80.3 155.7h0M79.7 156.6h0M68.2 157.9h0M73.0 157.3h0M79.4 158.6h0M72.2 160.5h0M74.3 160.7h0M77.7 164.7h0M71.4 166.2h0M67.6 167.9h0M64.4 174.3h0M63.8 179.0h0" stroke="#7abf7c"/><path d="M85.9 131.7h0M70.5 134.9h0M67.3 136.3h0M83.9 135.7h0M85.0 138.7h0M84.3 140.1h0M68.1 141.3h0M70.3 142.5h0M69.8 143.4h0M71.3 144.6h0M73.3 145.1h0M79.7 144.9h0M75.4 145.5h0M82.4 145.7h0M74.3 148.0h0M80.9 147.1h0M79.3 148.9h0M79.4 150.1h0M64.3 153.9h0M70.3 155.5h0M79.0 155.4h0M73.3 161.2h0M66.5 166.3h0M77.2 166.5h0M78.1 169.1h0M65.2 171.3h0M73.2 171.0h0M73.6 178.8h0M74.2 178.4h0M72.6 179.4h0" stroke="#8dbf74"/><path d="M77.9 137.6h0M81.0 136.4h0M69.7 138.3h0M66.5 144.9h0M74.4 145.1h0M79.1 145.5h0M70.8 147.5h0M75.7 148.9h0M81.6 150.3h0M80.4 151.1h0M72.0 156.8h0M77.4 156.5h0M73.2 159.0h0M69.6 161.5h0M69.6 164.6h0M74.0 164.4h0M74.8 172.7h0M65.9 176.6h0M72.6 176.3h0M75.1 177.2h0" stroke="#9fbe6d"/><path d="M78.8 136.0h0M74.0 142.8h0M73.5 147.0h0M73.3 160.0h0M76.5 160.5h0M77.4 160.4h0M79.4 160.5h0" stroke="#b0bd66"/><path d="M76.6 135.9h0M76.4 162.4h0" stroke="#c0bc60"/></g><g fill="none" stroke-width="1.3" stroke-linecap="round"><path d="M87.2 274.1h0M86.3 276.6h0M91.3 277.5h0M89.3 282.8h0M90.3 283.9h0M90.6 285.3h0" stroke="#108ed2"/><path d="M87.8 272.7h0M88.7 276.8h0M86.8 277.8h0M89.0 277.7h0M93.2 277.5h0" stroke="#0997d1"/><path d="M88.4 272.5h0M89.8 277.7h0M91.2 279.1h0M93.0 278.8h0M87.5 280.7h0M88.8 280.7h0M88.9 285.6h0M89.1 287.5h0" stroke="#069fce"/><path d="M91.0 271.4h0M89.4 272.9h0M90.8 273.3h0M88.6 275.5h0M91.3 275.2h0M90.9 276.7h0M87.4 281.3h0" stroke="#06a5c8"/><path d="M90.3 274.6h0M93.0 275.6h0M93.4 276.2h0M86.3 278.9h0M86.3 279.8h0M92.3 279.5h0M86.1 280.9h0M93.3 282.1h0M91.0 284.6h0M89.2 286.4h0" stroke="#07aac1"/><path d="M89.9 275.9h0M90.5 278.2h0M90.6 279.7h0M90.8 281.9h0M86.0 282.7h0M92.0 282.1h0M87.8 283.5h0M88.7 284.2h0M87.6 284.9h0M89.6 286.5h0" stroke="#0faeb9"/><path d="M87.3 274.5h0M87.1 279.2h0M88.6 279.2h0M88.6 282.8h0M92.6 285.2h0M90.7 287.6h0" stroke="#1bb2b0"/><path d="M90.4 273.5h0M93.2 279.0h0M92.5 284.4h0" stroke="#2ab6a6"/><path d="M89.9 280.4h0" stroke="#3cba9b"/></g><g fill="none" stroke-width="1.3" stroke-linecap="round"><path d="M95.1 304.3h0M93.5 307.0h0M109.1 310.2h0" stroke="#07aac1"/><path d="M81.7 303.8h0M102.0 306.0h0M95.5 306.8h0M83.3 308.2h0" stroke="#0faeb9"/><path d="M94.4 306.3h0M102.3 307.5h0M79.9 308.9h0M89.9 307.8h0M92.7 308.2h0M92.7 309.5h0M107.4 309.9h0M89.7 310.5h0" stroke="#1bb2b0"/><path d="M79.5 303.1h0M86.2 303.6h0M94.5 303.4h0M69.8 304.4h0M87.4 303.9h0M97.7 304.7h0M91.5 305.5h0M94.9 305.5h0M100.8 305.4h0M74.7 306.5h0M87.0 306.8h0M101.0 308.0h0M79.7 309.8h0M89.0 309.2h0M101.5 309.5h0M103.2 309.9h0M83.2 310.9h0M100.0 311.2h0M99.8 312.5h0M105.8 312.2h0M87.2 313.7h0M90.2 313.4h0" stroke="#2ab6a6"/><path d="M52.3 302.9h0M76.8 303.5h0M78.0 302.6h0M85.0 303.1h0M76.3 305.0h0M66.7 305.4h0M97.0 305.2h0M103.4 306.1h0M104.0 305.2h0M107.1 306.0h0M84.2 307.1h0M99.9 307.1h0M38.5 309.9h0M87.3 309.5h0M94.4 309.3h0M92.5 311.3h0M94.2 311.2h0M98.1 311.0h0M104.9 310.3h0M56.8 312.6h0M72.8 312.4h0M85.2 312.0h0M89.9 312.0h0M93.4 312.1h0M95.9 312.4h0M72.4 313.7h0M97.3 314.0h0M101.9 313.6h0" stroke="#3cba9b"/><path d="M69.4 302.2h0M88.6 304.3h0M78.3 306.2h0M82.7 305.6h0M55.6 307.3h0M77.5 306.6h0M82.6 306.9h0M85.1 306.7h0M87.6 307.0h0M97.7 306.5h0M53.3 308.7h0M61.4 308.6h0M70.4 307.8h0M77.2 308.1h0M92.0 308.4h0M94.3 307.8h0M106.1 307.7h0M39.7 309.0h0M97.6 309.6h0M99.9 310.1h0M49.2 311.4h0M50.3 311.3h0M60.2 310.6h0M88.9 311.1h0M92.2 310.9h0M96.8 310.5h0M107.2 310.7h0M79.4 311.8h0M86.1 312.5h0M89.5 311.9h0M109.0 311.9h0M91.2 313.9h0M92.4 313.0h0M104.8 313.8h0M106.9 313.1h0M108.8 313.1h0" stroke="#4fbc90"/><path d="M60.4 300.7h0M59.6 301.5h0M61.5 303.3h0M68.6 303.2h0M73.7 304.7h0M75.3 304.8h0M76.7 304.0h0M86.4 304.1h0M65.4 306.1h0M70.7 305.7h0M74.1 305.3h0M81.4 305.5h0M51.8 306.8h0M71.8 306.7h0M105.3 306.6h0M52.6 308.1h0M85.7 308.5h0M95.6 307.8h0M68.6 309.4h0M78.5 309.2h0M86.5 310.1h0M90.0 310.1h0M55.6 310.7h0M61.0 311.9h0M71.2 312.5h0M98.6 312.5h0M49.3 313.3h0M71.3 313.8h0M83.4 313.4h0M98.6 313.2h0" stroke="#65be86"/><path d="M61.6 301.2h0M54.8 303.3h0M62.6 303.0h0M71.9 302.6h0M75.7 303.7h0M60.1 304.1h0M94.6 304.2h0M84.0 305.7h0M89.2 305.3h0M80.5 307.5h0M81.4 306.6h0M68.9 308.5h0M76.5 308.6h0M102.6 308.5h0M51.6 309.9h0M53.9 309.1h0M60.2 310.1h0M63.7 309.9h0M67.2 309.2h0M73.0 309.4h0M84.7 310.2h0M104.8 309.1h0M37.7 311.0h0M67.1 310.5h0M72.7 311.4h0M73.2 311.4h0M62.2 312.7h0M67.2 312.2h0M69.3 312.1h0M51.5 313.0h0M64.5 313.4h0M100.5 312.9h0M110.9 313.7h0" stroke="#7abf7c"/><path d="M57.5 301.2h0M60.3 301.3h0M54.1 303.1h0M57.6 303.7h0M70.5 304.6h0M38.7 306.3h0M40.5 306.1h0M51.7 306.3h0M57.7 305.6h0M40.7 307.4h0M59.1 306.5h0M62.5 307.2h0M63.8 307.3h0M65.3 306.4h0M100.7 306.6h0M45.3 307.8h0M45.8 307.7h0M48.9 307.7h0M59.7 308.4h0M65.1 307.8h0M66.6 308.5h0M97.1 308.8h0M58.4 310.1h0M40.4 310.9h0M52.0 310.8h0M55.9 311.2h0M76.9 311.0h0M79.2 310.5h0M79.6 310.7h0M103.8 310.5h0M50.1 311.6h0M68.0 311.6h0M62.4 313.5h0M76.0 313.8h0M82.6 313.5h0" stroke="#8dbf74"/><path d="M56.6 304.8h0M53.1 306.1h0M59.3 306.1h0M37.0 307.0h0M46.6 307.1h0M48.1 306.7h0M52.2 307.4h0M61.4 306.7h0M55.9 307.8h0M60.1 307.8h0M47.0 310.1h0M48.3 309.9h0M63.0 309.4h0M53.4 311.2h0M61.7 310.5h0M74.2 311.4h0M38.1 312.8h0M39.4 311.9h0M50.3 313.1h0M57.8 312.9h0M65.0 313.5h0" stroke="#9fbe6d"/><path d="M54.2 301.3h0M67.2 302.2h0M47.1 303.3h0M41.1 304.8h0M46.3 304.0h0M71.5 304.5h0M49.3 305.6h0M50.0 305.5h0M55.2 305.3h0M56.3 306.3h0M69.9 306.3h0M38.5 307.0h0M39.0 307.5h0M44.2 306.8h0M47.8 306.7h0M50.2 306.5h0M51.0 308.9h0M55.5 308.5h0M39.0 310.4h0M64.9 310.9h0M37.4 312.2h0M43.2 311.6h0M44.8 312.0h0M48.4 312.1h0M71.6 311.6h0M44.7 313.3h0M56.3 313.4h0M79.0 313.5h0" stroke="#b0bd66"/><path d="M53.2 301.2h0M68.6 301.8h0M42.8 303.0h0M44.4 303.4h0M46.2 302.7h0M50.5 302.6h0M44.3 304.5h0M47.3 304.7h0M52.3 303.8h0M39.1 308.1h0M44.5 309.7h0M55.5 309.9h0M45.6 311.1h0M54.5 312.8h0M55.7 312.8h0M39.9 313.6h0M41.6 312.9h0" stroke="#c0bc60"/><path d="M37.6 304.7h0M42.2 305.0h0M44.1 306.2h0M45.8 305.8h0M57.7 307.6h0M46.6 309.2h0M47.0 311.2h0" stroke="#cfbb5a"/><path d="M42.8 308.0h0M44.1 308.0h0" stroke="#deba53"/><path d="M55.6 305.0h0M50.1 308.7h0" stroke="#ecb94c"/></g><g fill="none" stroke-width="1.35" stroke-linecap="round"><path d="M181.0 277.9h0" stroke="#0268e1"/><path d="M177.9 292.7h0M184.8 293.1h0" stroke="#0870df"/><path d="M170.6 267.6h0M167.1 277.2h0M178.1 287.8h0M173.1 308.6h0" stroke="#0f77db"/><path d="M169.2 272.2h0M166.6 272.9h0M149.4 275.0h0M163.1 276.8h0M172.9 277.9h0M170.9 279.7h0M179.6 281.5h0M183.1 293.3h0M181.2 294.4h0M175.1 297.3h0M169.7 302.2h0" stroke="#137ed7"/><path d="M174.3 262.6h0M164.7 264.4h0M166.8 268.5h0M161.3 275.4h0M163.9 274.4h0M162.0 276.3h0M164.5 276.8h0M170.7 279.0h0M160.5 280.7h0M176.5 281.9h0M156.5 283.0h0M180.3 282.5h0M183.2 282.8h0M149.8 283.5h0M183.2 284.0h0M166.1 285.8h0M148.6 287.5h0M182.1 287.5h0M172.2 290.6h0M173.5 290.9h0M185.5 296.9h0M170.5 299.4h0M159.6 301.6h0M184.2 301.6h0M158.8 303.3h0M176.7 303.3h0M176.0 304.2h0M156.9 307.1h0M179.5 310.6h0M158.6 312.4h0" stroke="#1485d4"/><path d="M163.8 264.0h0M162.1 266.5h0M166.5 266.4h0M175.5 267.4h0M164.1 268.8h0M168.0 268.7h0M166.3 269.4h0M180.3 269.7h0M165.1 270.7h0M175.1 270.6h0M166.9 272.3h0M175.6 272.1h0M172.3 273.0h0M174.3 273.7h0M174.7 273.2h0M150.9 275.3h0M180.3 275.3h0M160.7 275.6h0M183.8 277.8h0M148.4 278.1h0M162.0 279.1h0M166.2 278.2h0M173.8 279.3h0M166.1 280.0h0M182.4 279.7h0M174.6 281.6h0M164.1 282.7h0M174.9 282.3h0M176.5 284.2h0M179.2 285.5h0M181.0 285.7h0M175.4 286.5h0M165.4 287.4h0M170.8 287.8h0M175.5 287.4h0M183.6 288.0h0M180.2 288.7h0M182.5 288.7h0M184.3 289.3h0M167.0 291.0h0M174.5 290.7h0M176.8 290.9h0M183.6 289.8h0M160.1 291.9h0M169.5 291.3h0M180.2 291.2h0M156.8 293.3h0M178.8 294.3h0M180.6 296.1h0M176.5 297.2h0M154.7 302.2h0M180.4 301.8h0M175.8 305.7h0M165.3 309.2h0M175.4 310.5h0M173.4 310.6h0M152.6 311.9h0M164.2 312.1h0M186.4 312.3h0M168.0 313.3h0" stroke="#108ed2"/><path d="M176.2 266.3h0M164.2 266.9h0M169.3 266.8h0M176.6 266.4h0M178.1 266.8h0M160.9 268.3h0M169.5 268.1h0M176.6 268.6h0M177.1 268.7h0M175.9 270.1h0M166.5 271.2h0M168.5 270.8h0M176.4 270.8h0M161.0 273.2h0M166.5 273.2h0M168.3 273.6h0M170.8 274.1h0M182.5 273.6h0M146.7 274.4h0M161.9 275.1h0M146.7 276.0h0M177.3 276.3h0M176.1 277.4h0M151.4 279.0h0M164.0 279.3h0M176.8 278.8h0M179.5 278.4h0M154.8 280.3h0M164.1 279.9h0M158.4 281.6h0M166.1 281.1h0M181.2 281.0h0M180.6 284.5h0M148.6 285.9h0M151.7 286.6h0M165.6 286.3h0M167.6 286.9h0M171.5 286.4h0M180.1 286.2h0M181.7 286.4h0M149.9 287.6h0M176.1 288.4h0M180.2 288.3h0M154.5 289.0h0M157.2 289.5h0M158.6 290.7h0M163.9 290.1h0M157.6 291.6h0M172.1 291.8h0M151.0 292.5h0M176.4 292.6h0M180.6 292.4h0M164.4 294.9h0M172.4 293.7h0M174.8 293.7h0M176.9 294.6h0M177.1 294.3h0M182.8 294.7h0M154.3 295.3h0M159.1 296.1h0M162.8 296.3h0M180.5 298.3h0M164.2 299.9h0M167.3 298.9h0M178.9 299.7h0M172.6 301.2h0M148.1 302.7h0M150.4 302.7h0M164.1 302.3h0M171.5 302.1h0M172.3 302.0h0M178.5 301.7h0M156.7 303.5h0M180.6 303.7h0M154.1 305.3h0M155.2 305.3h0M172.8 305.0h0M184.6 305.2h0M164.4 307.2h0M178.7 308.3h0M178.2 309.4h0M182.0 310.6h0M182.4 310.9h0M161.9 312.8h0M159.6 313.2h0" stroke="#0997d1"/><path d="M175.7 264.2h0M178.9 267.3h0M173.6 267.8h0M163.5 269.2h0M174.0 269.6h0M178.4 269.3h0M157.9 270.4h0M176.3 271.8h0M178.7 272.7h0M164.3 273.3h0M169.9 274.0h0M152.2 275.3h0M158.8 274.2h0M168.7 275.4h0M175.3 274.6h0M153.6 276.6h0M171.4 276.0h0M180.5 275.7h0M154.7 277.6h0M158.1 278.0h0M152.8 278.1h0M157.6 279.0h0M169.3 278.5h0M166.6 281.7h0M129.6 284.4h0M151.3 284.1h0M161.4 283.4h0M173.3 283.7h0M178.1 283.4h0M152.7 285.8h0M163.2 285.3h0M173.7 284.8h0M162.6 286.1h0M172.1 286.0h0M182.4 286.9h0M153.7 288.0h0M157.6 288.0h0M128.2 289.0h0M155.7 289.6h0M159.4 289.6h0M163.5 289.1h0M146.7 290.9h0M152.2 291.0h0M168.5 289.8h0M180.5 290.1h0M183.4 291.9h0M146.7 293.2h0M150.6 292.5h0M154.9 292.9h0M179.5 293.0h0M156.5 293.7h0M165.9 293.8h0M161.3 295.8h0M172.1 295.6h0M158.1 297.5h0M165.9 296.6h0M179.6 297.5h0M150.8 297.8h0M155.3 298.6h0M156.5 298.0h0M177.6 299.2h0M180.7 300.1h0M181.0 299.7h0M162.6 300.8h0M165.4 301.2h0M170.2 300.4h0M174.6 300.8h0M177.4 300.4h0M183.3 300.3h0M136.9 302.2h0M173.8 302.0h0M137.3 303.9h0M160.8 303.5h0M165.1 304.0h0M175.6 303.6h0M164.6 304.2h0M170.3 305.3h0M154.6 305.6h0M170.9 306.2h0M183.8 305.6h0M163.9 307.7h0M173.8 307.0h0M181.1 306.9h0M154.5 308.5h0M159.4 309.2h0M162.6 309.0h0M133.6 310.1h0M169.2 310.5h0M175.0 310.9h0M184.2 310.6h0M170.5 312.3h0M184.2 313.1h0M153.9 313.6h0M183.8 313.6h0" stroke="#069fce"/><path d="M164.9 263.6h0M171.3 262.5h0M172.5 263.6h0M177.0 264.7h0M161.6 265.9h0M178.4 265.3h0M170.8 268.0h0M162.0 271.1h0M173.6 271.3h0M158.4 272.0h0M160.4 272.6h0M162.2 272.5h0M168.3 272.6h0M154.0 273.6h0M157.5 274.5h0M182.5 274.7h0M156.3 276.7h0M160.0 276.0h0M169.7 276.5h0M173.2 276.3h0M181.8 275.6h0M182.5 275.9h0M147.1 277.6h0M153.5 277.1h0M156.5 277.6h0M168.4 278.1h0M146.6 279.7h0M148.4 280.4h0M156.8 279.8h0M163.8 280.4h0M133.6 280.8h0M162.8 280.7h0M132.7 282.0h0M152.3 282.6h0M154.8 282.2h0M161.5 282.0h0M170.0 282.8h0M173.4 282.0h0M176.2 283.2h0M145.4 283.5h0M171.3 283.6h0M123.7 285.6h0M132.1 285.2h0M164.0 285.8h0M131.7 286.8h0M146.5 286.8h0M155.6 288.1h0M163.8 288.3h0M136.3 289.5h0M137.4 289.1h0M165.2 289.4h0M171.7 289.1h0M173.1 289.4h0M176.3 289.7h0M148.3 291.0h0M181.7 290.5h0M182.7 290.7h0M150.5 291.2h0M168.5 291.4h0M177.9 291.5h0M179.1 292.1h0M154.8 292.7h0M161.9 293.2h0M171.7 294.7h0M180.8 294.6h0M184.5 294.3h0M165.0 295.6h0M158.3 298.1h0M167.0 298.4h0M172.5 298.8h0M174.9 297.8h0M182.4 297.8h0M160.5 299.7h0M133.0 301.2h0M154.3 300.7h0M166.6 301.4h0M171.0 300.2h0M183.5 301.3h0M185.5 300.4h0M115.1 302.6h0M162.9 301.7h0M167.9 301.7h0M115.1 302.8h0M136.3 304.0h0M170.1 302.9h0M157.2 304.1h0M144.3 306.5h0M150.4 306.1h0M181.0 306.5h0M157.9 307.0h0M176.3 307.2h0M136.4 308.4h0M146.8 309.2h0M156.9 309.0h0M165.1 309.0h0M180.6 308.0h0M159.5 310.3h0M160.3 309.6h0M167.0 309.3h0M179.3 310.5h0M181.4 310.3h0M160.1 310.6h0M165.0 311.8h0M171.8 311.8h0M177.3 311.3h0M115.0 312.7h0M126.9 312.0h0M136.0 313.0h0M143.8 312.8h0M169.6 313.1h0M173.8 312.8h0M177.7 312.5h0M111.6 313.2h0M149.8 313.4h0M181.6 313.4h0" stroke="#06a5c8"/><path d="M165.5 268.1h0M180.9 268.4h0M159.3 271.3h0M177.8 271.0h0M180.9 272.2h0M148.0 274.6h0M144.1 277.9h0M173.5 277.4h0M159.3 278.2h0M147.3 279.8h0M159.5 280.6h0M131.4 281.1h0M146.0 280.8h0M164.2 281.6h0M169.5 281.4h0M145.7 282.7h0M148.2 282.9h0M132.0 284.3h0M132.9 283.8h0M179.3 283.9h0M129.6 284.7h0M150.5 284.7h0M175.3 285.8h0M137.0 285.9h0M148.0 286.8h0M163.3 286.5h0M176.8 285.9h0M151.0 287.8h0M164.1 287.4h0M166.8 287.7h0M126.1 289.4h0M165.3 289.4h0M122.8 289.9h0M135.3 290.9h0M155.6 290.4h0M178.6 290.8h0M115.0 292.2h0M122.8 291.1h0M156.1 291.2h0M158.9 291.6h0M161.7 291.7h0M163.2 292.2h0M183.7 291.7h0M167.1 292.5h0M172.9 293.0h0M145.8 294.5h0M169.3 294.0h0M120.9 295.9h0M135.4 295.9h0M173.4 295.4h0M176.7 295.7h0M178.3 295.1h0M120.7 297.0h0M125.4 296.9h0M144.9 297.5h0M155.7 297.2h0M162.1 297.1h0M169.8 296.9h0M116.1 298.2h0M124.4 298.2h0M134.8 297.8h0M145.7 298.1h0M148.0 298.5h0M169.1 298.8h0M128.4 299.5h0M141.2 301.4h0M176.2 300.9h0M120.3 302.2h0M136.4 301.6h0M138.6 301.9h0M151.7 302.1h0M165.3 302.4h0M117.0 304.0h0M142.0 303.7h0M147.9 303.1h0M161.8 303.3h0M181.9 303.1h0M125.2 304.3h0M147.9 305.3h0M152.5 304.2h0M171.3 305.3h0M180.8 304.3h0M145.7 306.1h0M168.1 306.0h0M177.3 306.0h0M183.4 306.4h0M117.2 309.1h0M143.3 308.5h0M144.8 308.5h0M152.8 308.2h0M167.8 309.1h0M170.2 308.9h0M141.4 310.5h0M149.0 309.4h0M172.0 309.5h0M173.1 310.3h0M176.0 309.9h0M156.1 310.6h0M161.7 311.4h0M167.5 311.6h0M141.9 312.5h0M150.9 311.9h0M160.3 313.1h0M183.1 313.1h0M186.0 312.6h0M124.9 313.5h0M130.9 313.6h0M141.8 313.6h0M182.7 313.7h0" stroke="#07aac1"/><path d="M167.1 263.1h0M168.9 264.4h0M167.2 265.6h0M163.8 267.6h0M162.2 269.1h0M174.6 269.8h0M157.1 272.0h0M159.7 272.6h0M166.0 272.7h0M173.1 274.8h0M147.5 276.1h0M165.0 275.5h0M166.4 276.1h0M150.4 278.3h0M150.4 279.5h0M158.3 280.6h0M158.8 280.7h0M170.3 283.3h0M126.9 285.0h0M131.2 285.5h0M135.0 285.2h0M161.0 285.5h0M125.3 286.1h0M134.5 286.7h0M136.5 286.0h0M131.7 287.4h0M133.2 287.9h0M134.7 288.0h0M138.1 287.7h0M159.2 287.3h0M174.0 287.9h0M123.8 289.1h0M129.6 288.9h0M123.7 289.9h0M125.2 290.9h0M137.3 290.6h0M159.4 290.5h0M132.9 291.2h0M146.0 292.2h0M164.4 291.9h0M121.7 292.6h0M137.9 292.6h0M158.7 292.5h0M170.0 293.6h0M173.9 293.9h0M133.1 295.4h0M139.0 295.1h0M150.9 296.2h0M117.1 296.5h0M133.8 296.7h0M136.4 297.4h0M150.5 297.1h0M114.3 298.8h0M136.0 298.0h0M142.1 298.3h0M151.9 298.2h0M130.3 300.0h0M133.1 299.0h0M151.5 299.2h0M158.7 299.7h0M130.5 301.4h0M137.0 300.9h0M156.9 301.1h0M159.6 300.9h0M126.5 302.5h0M156.0 302.2h0M177.3 302.4h0M124.1 303.9h0M130.0 302.8h0M148.9 303.2h0M150.8 303.5h0M163.3 302.8h0M131.5 304.8h0M140.0 304.7h0M160.7 304.4h0M174.6 304.6h0M124.6 305.8h0M126.2 305.4h0M137.9 305.8h0M148.1 305.5h0M161.7 306.4h0M178.9 305.9h0M185.1 306.6h0M143.1 306.7h0M150.5 307.8h0M111.6 309.0h0M125.7 309.0h0M128.0 308.0h0M139.7 308.3h0M143.1 308.4h0M160.9 308.4h0M123.7 309.6h0M152.0 310.1h0M154.1 309.6h0M161.9 309.5h0M185.3 309.6h0M121.6 310.8h0M137.8 311.7h0M153.2 311.5h0M133.2 313.1h0M166.7 312.1h0M176.5 311.9h0M181.5 312.4h0M112.7 313.8h0M120.1 313.8h0M122.2 313.5h0M147.5 313.8h0M174.3 313.6h0" stroke="#0faeb9"/><path d="M157.3 274.0h0M144.9 276.3h0M163.4 275.7h0M151.6 277.4h0M143.9 278.7h0M134.5 281.4h0M146.2 282.3h0M152.0 282.5h0M134.4 284.4h0M146.7 284.2h0M148.8 284.1h0M131.2 286.5h0M123.7 288.1h0M126.2 287.8h0M135.9 288.0h0M151.6 289.2h0M122.1 290.2h0M126.3 290.2h0M129.4 290.1h0M132.3 289.9h0M162.0 290.0h0M131.0 291.8h0M148.3 291.9h0M128.3 292.8h0M136.1 293.6h0M160.4 294.2h0M139.9 296.1h0M147.3 295.9h0M115.7 296.8h0M167.8 296.6h0M170.8 297.0h0M120.0 297.8h0M122.2 298.7h0M126.2 298.5h0M132.3 298.1h0M138.2 297.6h0M118.7 299.6h0M121.9 299.3h0M137.6 299.0h0M156.2 299.9h0M114.8 300.4h0M125.5 300.5h0M131.7 300.9h0M134.8 301.4h0M135.9 301.3h0M143.8 300.6h0M160.3 300.5h0M128.2 301.8h0M117.6 303.7h0M140.3 303.9h0M151.5 303.9h0M153.3 303.7h0M171.4 303.1h0M122.5 305.2h0M129.4 305.1h0M130.4 305.0h0M166.7 304.8h0M139.3 306.3h0M126.4 306.9h0M135.3 307.4h0M139.0 307.4h0M140.2 307.8h0M140.8 307.8h0M146.0 307.7h0M159.4 307.8h0M169.0 307.3h0M131.2 308.7h0M133.9 308.0h0M157.9 309.2h0M125.5 309.7h0M129.3 309.7h0M142.5 310.5h0M147.0 310.0h0M119.4 310.6h0M132.8 311.6h0M144.8 310.6h0M148.8 310.6h0M165.7 311.3h0M126.1 312.1h0M129.3 312.0h0M144.9 312.1h0M127.0 313.6h0M148.8 313.4h0" stroke="#1bb2b0"/><path d="M156.8 281.6h0M137.5 284.2h0M158.8 285.2h0M128.7 286.4h0M133.9 286.0h0M118.6 288.0h0M129.7 287.8h0M132.0 289.2h0M146.4 289.4h0M148.5 290.7h0M134.9 291.9h0M123.4 292.7h0M126.0 292.9h0M130.5 293.6h0M133.6 293.6h0M134.4 292.4h0M126.1 294.5h0M127.7 293.9h0M132.0 294.7h0M133.4 293.9h0M137.7 294.8h0M157.7 293.8h0M131.1 295.3h0M132.0 297.5h0M135.3 296.4h0M165.4 298.8h0M119.6 301.4h0M146.7 301.0h0M112.9 302.4h0M139.8 301.5h0M141.4 301.8h0M142.4 301.7h0M146.4 302.3h0M167.2 302.6h0M121.1 303.2h0M128.8 304.0h0M165.7 302.8h0M113.6 304.8h0M116.2 304.3h0M133.7 304.5h0M144.2 304.1h0M151.4 304.7h0M112.2 305.9h0M123.5 306.5h0M134.0 305.9h0M134.8 305.7h0M118.1 307.6h0M143.3 306.7h0M169.6 306.8h0M114.8 308.8h0M120.6 308.4h0M138.0 308.1h0M113.8 310.4h0M128.5 310.3h0M137.2 309.7h0M150.1 309.9h0M157.3 309.4h0M112.7 311.5h0M120.1 311.2h0M141.3 310.9h0M144.0 311.4h0M119.4 312.7h0M127.8 312.0h0M130.6 312.4h0M132.2 313.0h0M135.4 313.9h0" stroke="#2ab6a6"/><path d="M131.8 281.6h0M137.4 282.2h0M149.2 282.9h0M123.4 285.2h0M127.7 285.3h0M123.3 287.6h0M121.0 289.2h0M138.1 289.3h0M139.2 290.3h0M119.3 291.7h0M115.4 294.1h0M118.1 293.7h0M129.4 293.8h0M159.5 294.2h0M115.4 296.2h0M121.7 295.6h0M125.8 295.5h0M117.9 298.4h0M129.1 298.6h0M161.9 298.1h0M123.2 299.0h0M129.5 299.7h0M120.8 300.4h0M124.9 301.0h0M132.2 302.4h0M120.0 303.1h0M132.4 303.2h0M146.1 303.4h0M112.4 304.2h0M117.3 304.7h0M119.3 304.3h0M140.9 305.0h0M169.1 304.2h0M138.1 305.4h0M120.8 306.7h0M133.0 306.8h0M137.5 306.7h0M155.1 307.5h0M112.3 308.4h0M114.1 308.2h0M114.6 311.3h0M127.4 311.1h0M138.0 310.7h0M112.0 312.8h0M121.7 312.3h0M123.4 312.5h0M114.2 314.0h0" stroke="#3cba9b"/><path d="M133.3 285.3h0M133.9 290.4h0M125.7 291.5h0M132.0 293.2h0M120.9 293.7h0M122.2 293.8h0M123.5 293.8h0M157.2 296.9h0M141.2 298.3h0M120.3 298.9h0M149.8 299.8h0M126.7 300.3h0M152.9 300.3h0M121.5 302.6h0M135.5 305.7h0M113.3 306.9h0M131.4 307.4h0" stroke="#4fbc90"/><path d="M121.7 288.8h0M121.0 290.7h0M114.4 295.6h0M146.1 296.0h0M126.8 298.2h0M114.2 299.6h0M113.6 300.3h0M143.9 302.0h0M132.6 306.4h0" stroke="#65be86"/><path d="M115.1 304.2h0" stroke="#7abf7c"/></g><g fill="none" stroke-width="1.3" stroke-linecap="round"><path d="M133.5 13.2h0" stroke="#0f77db"/><path d="M130.6 9.2h0M133.3 10.2h0M129.9 13.1h0M131.3 15.4h0" stroke="#137ed7"/><path d="M135.7 9.2h0M137.1 9.0h0M137.1 10.3h0M134.1 15.7h0" stroke="#1485d4"/><path d="M129.3 9.1h0M131.0 9.9h0M128.8 11.2h0M135.8 13.3h0M133.3 14.5h0" stroke="#108ed2"/><path d="M132.6 8.9h0M135.8 10.8h0M138.9 10.4h0M131.8 12.1h0M135.0 11.4h0M135.8 11.7h0M137.9 11.7h0M132.4 13.0h0M135.8 12.4h0M130.1 14.0h0M138.5 13.9h0M137.5 15.1h0M131.9 16.8h0M133.5 16.9h0M135.6 17.6h0" stroke="#0997d1"/><path d="M132.2 8.6h0M136.7 8.8h0M138.7 9.6h0M129.2 10.2h0M131.5 10.3h0M134.1 9.9h0M132.9 11.0h0M133.5 11.7h0M131.6 12.7h0M134.5 13.5h0M134.8 14.5h0M136.7 13.9h0M136.2 15.6h0M136.2 15.9h0" stroke="#069fce"/><path d="M128.7 8.3h0M128.3 9.4h0M138.7 11.3h0M133.3 14.7h0M134.9 16.1h0" stroke="#06a5c8"/><path d="M130.4 8.2h0M138.1 12.5h0" stroke="#07aac1"/><path d="M131.2 9.4h0M134.8 15.0h0" stroke="#0faeb9"/><path d="M138.0 13.8h0" stroke="#1bb2b0"/></g><g fill="none" stroke-width="0.9"><path d="M47.0 23.0L87.0 21.6" stroke="#c4bc5e"/><path d="M37.0 31.6L78.0 31.0" stroke="#d6ba57"/><path d="M37.0 47.0L74.0 13.0" stroke="#6abe84"/><path d="M40.0 52.0L80.0 17.0" stroke="#7abf7c"/><path d="M37.0 41.0L66.0 18.0" stroke="#6abe84"/><path d="M89.8 8.0L78.3 72.0" stroke="#6abe84"/><path d="M89.8 8.0L103.0 45.0" stroke="#49bb94"/><path d="M37.0 45.2L87.0 43.8" stroke="#20b4ad"/><path d="M57.0 33.0L67.0 51.0" stroke="#d6ba57" stroke-width="1" stroke-dasharray="1 1.3"/><path d="M68.0 34.0L82.0 58.0" stroke="#ecb94c" stroke-width="1" stroke-dasharray="1 1.3"/><path d="M74.0 31.0L80.0 70.0" stroke="#cabb5c" stroke-width="1" stroke-dasharray="1 1.3"/><path d="M60.0 40.0L72.0 62.0" stroke="#b2bd66" stroke-width="1" stroke-dasharray="1 1.3"/><path d="M48.0 30.0L58.0 47.0" stroke="#c4bc5e" stroke-width="1" stroke-dasharray="1 1.3"/><path d="M80.0 38.0L86.0 75.0" stroke="#a5be6b" stroke-width="1" stroke-dasharray="1 1.3"/><path d="M64.0 27.0L70.0 60.0" stroke="#d6ba57" stroke-width="1" stroke-dasharray="1 1.3"/><path d="M37.0 69.3L54.2 55.0" stroke="#128cd2"/><path d="M37.0 85.0L58.5 68.6" stroke="#128cd2"/><path d="M37.0 95.0L65.0 72.0" stroke="#108fd2"/><path d="M37.0 73.0L47.0 58.0" stroke="#1388d3"/><path d="M60.0 68.0L72.0 56.0" stroke="#079ccf"/><path d="M51.3 55.0L70.0 105.0" stroke="#1388d3"/><path d="M45.0 60.0L58.0 100.0" stroke="#128cd2"/><path d="M44.0 75.0L55.0 90.0" stroke="#0d93d2"/><path d="M37.0 57.0L66.0 57.0" stroke="#0a96d1"/><path d="M37.0 88.0L57.0 88.0" stroke="#108fd2"/><path d="M37.0 110.0L99.0 110.0" stroke="#079ccf"/><path d="M37.0 113.6L80.0 113.6" stroke="#15b1b4" stroke-width="1" stroke-dasharray="1 1.3"/><path d="M37.0 52.0L52.0 40.0" stroke="#0d93d2"/><path d="M40.0 104.0L62.0 60.0" stroke="#0a96d1"/><path d="M37.0 128.0L70.0 106.0" stroke="#20b4ad"/><path d="M37.0 135.0L80.0 97.9" stroke="#49bb94"/><path d="M37.0 99.3L51.3 97.9" stroke="#0a96d1"/><path d="M72.8 105.0L87.0 83.7" stroke="#09acbe"/><path d="M80.0 96.5L98.6 82.2" stroke="#128cd2"/><path d="M84.0 90.8L116.0 90.8" stroke="#0a96d1" stroke-width="1" stroke-dasharray="1 1.3"/><path d="M40.0 120.0L75.0 118.0" stroke="#06a8c4" stroke-width="1" stroke-dasharray="1 1.3"/><path d="M45.0 105.0L70.0 130.0" stroke="#15b1b4" stroke-width="1" stroke-dasharray="1 1.3"/><path d="M55.0 118.0L85.0 127.0" stroke="#06a6c7" stroke-width="1" stroke-dasharray="1 1.3"/><path d="M90.7 12.3L108.7 58.0" stroke="#15b1b4"/><path d="M88.0 20.0L104.0 62.0" stroke="#0dadbb" stroke-width="1" stroke-dasharray="1 1.3"/><path d="M85.0 55.0L105.0 105.0" stroke="#0a96d1"/><path d="M92.0 55.0L112.0 105.0" stroke="#0dadbb" stroke-width="1" stroke-dasharray="1 1.3"/><path d="M100.0 60.0L118.0 105.0" stroke="#108fd2"/><path d="M62.0 60.0L70.0 105.0" stroke="#09acbe" stroke-width="1" stroke-dasharray="1 1.3"/><path d="M66.0 60.0L80.0 100.0" stroke="#0a96d1" stroke-width="1" stroke-dasharray="1 1.3"/><path d="M74.0 60.0L92.0 108.0" stroke="#108fd2"/><path d="M78.0 60.0L96.0 110.0" stroke="#07aac1" stroke-width="1" stroke-dasharray="1 1.3"/><path d="M96.0 62.0L115.0 112.0" stroke="#0a96d1" stroke-width="1" stroke-dasharray="1 1.3"/><path d="M104.0 66.0L122.0 112.0" stroke="#108fd2"/><path d="M110.0 70.0L128.0 118.0" stroke="#128cd2" stroke-width="1" stroke-dasharray="1 1.3"/><path d="M82.0 72.0L96.0 120.0" stroke="#0a96d1" stroke-width="1" stroke-dasharray="1 1.3"/><path d="M87.0 70.0L102.0 118.0" stroke="#11afb8" stroke-width="1" stroke-dasharray="1 1.3"/><path d="M58.5 55.0L74.2 98.0" stroke="#06a8c4" stroke-width="1" stroke-dasharray="1 1.3"/><path d="M119.4 105.0L141.7 165.0" stroke="#128cd2"/><path d="M98.7 122.0L145.0 154.8" stroke="#0dadbb"/><path d="M105.6 125.6L150.0 160.0" stroke="#20b4ad" stroke-width="1" stroke-dasharray="1 1.3"/><path d="M103.9 105.0L95.3 125.6" stroke="#108fd2"/><path d="M82.0 120.0L110.0 135.0" stroke="#079ccf" stroke-width="1" stroke-dasharray="1 1.3"/><path d="M100.0 120.0L125.0 150.0" stroke="#15b1b4" stroke-width="1" stroke-dasharray="1 1.3"/><path d="M112.0 130.0L132.0 165.0" stroke="#0a96d1" stroke-width="1" stroke-dasharray="1 1.3"/><path d="M80.0 160.0L100.0 215.0" stroke="#49bb94" stroke-width="1" stroke-dasharray="1 1.3"/><path d="M86.0 160.0L104.0 205.0" stroke="#59bd8c" stroke-width="1" stroke-dasharray="1 1.3"/><path d="M100.0 182.0L114.0 220.0" stroke="#15b1b4"/><path d="M131.0 160.0L140.0 194.0" stroke="#20b4ad"/><path d="M110.0 210.0L140.0 236.0" stroke="#0dadbb"/><path d="M95.0 194.0L125.0 182.0" stroke="#15b1b4"/><path d="M99.0 201.0L137.0 194.0" stroke="#0dadbb"/><path d="M97.0 208.0L140.0 199.0" stroke="#15b1b4"/><path d="M95.0 212.0L102.0 216.0" stroke="#1388d3"/><path d="M95.0 255.0L125.0 240.0" stroke="#0a96d1"/><path d="M100.0 262.0L140.0 245.0" stroke="#108fd2"/><path d="M98.0 272.0L150.0 250.0" stroke="#0a96d1"/><path d="M100.0 280.0L145.0 262.0" stroke="#128cd2"/><path d="M95.0 290.0L120.0 300.0" stroke="#108fd2"/><path d="M100.0 250.0L130.0 290.0" stroke="#079ccf"/><path d="M110.0 245.0L140.0 285.0" stroke="#0a96d1"/><path d="M80.0 264.0L106.0 272.6" stroke="#82bf79"/><path d="M62.0 297.0L107.0 291.0" stroke="#15b1b4"/><path d="M70.0 300.0L110.0 296.0" stroke="#0dadbb"/><path d="M120.0 262.0L150.0 258.0" stroke="#079ccf"/></g><g fill="none" stroke-width="0.85" stroke-linecap="round"><path d="M76.1 180.2l0.67 -0.34M77.7 179.4l0.67 -0.34M78.5 179.0l0.67 -0.34M85.0 175.8l0.67 -0.34M89.0 173.8l0.67 -0.34M97.0 169.8l0.67 -0.34M98.6 169.0l0.67 -0.34M99.4 168.6l0.67 -0.34M76.1 188.0l0.67 -0.34M76.9 187.6l0.67 -0.34M83.3 184.4l0.67 -0.34M86.6 182.8l0.67 -0.34M89.8 181.2l0.67 -0.34M93.0 179.6l0.67 -0.34M94.6 178.8l0.67 -0.34M96.2 178.0l0.67 -0.34M98.6 176.8l0.67 -0.34M105.9 173.2l0.67 -0.34M76.1 195.9l0.67 -0.34M76.9 195.5l0.67 -0.34M78.5 194.7l0.67 -0.34M80.1 193.9l0.67 -0.34M84.1 191.9l0.67 -0.34M88.2 189.8l0.67 -0.34M92.2 187.8l0.67 -0.34M94.6 186.6l0.67 -0.34M101.9 183.0l0.67 -0.34M109.1 179.4l0.67 -0.34M114.7 176.6l0.67 -0.34M74.5 204.5l0.67 -0.34M86.6 198.5l0.67 -0.34M93.0 195.2l0.67 -0.34M100.2 191.6l0.67 -0.34M102.7 190.4l0.67 -0.34M105.1 189.2l0.67 -0.34M111.5 186.0l0.67 -0.34M114.7 184.4l0.67 -0.34M85.0 207.1l0.67 -0.34M99.4 199.9l0.67 -0.34M101.9 198.6l0.67 -0.34M104.3 197.4l0.67 -0.34M106.7 196.2l0.67 -0.34M113.9 192.6l0.67 -0.34M119.6 189.8l0.67 -0.34M79.3 217.7l0.67 -0.34M97.0 208.9l0.67 -0.34M99.4 207.7l0.67 -0.34M101.9 206.5l0.67 -0.34M107.5 203.7l0.67 -0.34M110.7 202.0l0.67 -0.34M111.5 201.6l0.67 -0.34M112.3 201.2l0.67 -0.34M113.1 200.8l0.67 -0.34M115.5 199.6l0.67 -0.34M118.8 198.0l0.67 -0.34M96.2 217.1l0.67 -0.34M97.0 216.7l0.67 -0.34M116.3 207.1l0.67 -0.34M121.2 204.6l0.67 -0.34M89.8 228.2l0.67 -0.34M105.1 220.5l0.67 -0.34M107.5 219.3l0.67 -0.34M112.3 216.9l0.67 -0.34M114.7 215.7l0.67 -0.34M123.6 211.3l0.67 -0.34M129.2 208.4l0.67 -0.34M108.3 226.7l0.67 -0.34M109.9 225.9l0.67 -0.34M117.2 222.3l0.67 -0.34M120.4 220.7l0.67 -0.34M125.2 218.3l0.67 -0.34M114.7 231.3l0.67 -0.34M115.5 230.9l0.67 -0.34M122.8 227.3l0.67 -0.34M124.4 226.5l0.67 -0.34M125.2 226.1l0.67 -0.34M129.2 224.1l0.67 -0.34M118.0 237.6l0.67 -0.34M119.6 236.8l0.67 -0.34M121.2 235.9l0.67 -0.34M122.0 235.5l0.67 -0.34M127.6 232.7l0.67 -0.34M146.1 223.5l0.67 -0.34M134.1 237.3l0.67 -0.34M134.9 244.8l0.67 -0.34M139.7 242.3l0.67 -0.34M154.2 242.9l0.67 -0.34M156.6 257.4l0.67 -0.34M158.2 256.6l0.67 -0.34M162.2 254.5l0.67 -0.34M165.5 260.8l0.67 -0.34M167.1 260.0l0.67 -0.34M170.3 258.4l0.67 -0.34M174.3 256.3l0.67 -0.34M176.7 263.0l0.67 -0.34M178.3 262.2l0.67 -0.34M102.5 170.5l0.52 0.60M106.1 174.6l0.52 0.60M110.8 180.0l0.52 0.60M112.6 182.1l0.52 0.60M117.3 187.5l0.52 0.60M162.2 239.1l0.52 0.60M98.4 182.5l0.52 0.60M107.2 192.7l0.52 0.60M113.2 199.5l0.52 0.60M122.6 210.4l0.52 0.60M128.5 217.2l0.52 0.60M163.3 257.2l0.52 0.60M96.6 197.3l0.52 0.60M99.0 200.0l0.52 0.60M102.5 204.0l0.52 0.60M105.5 207.4l0.52 0.60M109.0 211.5l0.52 0.60M112.0 214.9l0.52 0.60M114.9 218.3l0.52 0.60M116.1 219.7l0.52 0.60M132.0 238.0l0.52 0.60M133.8 240.0l0.52 0.60M134.4 240.7l0.52 0.60M103.7 222.2l0.52 0.60M106.1 224.9l0.52 0.60M108.4 227.6l0.52 0.60M109.0 228.3l0.52 0.60M113.2 233.0l0.52 0.60M117.9 238.5l0.52 0.60" stroke="#2ab6a6"/><path d="M84.1 176.2l0.67 -0.34M79.3 186.4l0.67 -0.34M82.5 184.8l0.67 -0.34M84.1 184.0l0.67 -0.34M85.0 183.6l0.67 -0.34M87.4 182.4l0.67 -0.34M99.4 176.4l0.67 -0.34M103.5 174.4l0.67 -0.34M107.5 172.4l0.67 -0.34M77.7 195.1l0.67 -0.34M80.9 193.5l0.67 -0.34M86.6 190.6l0.67 -0.34M91.4 188.2l0.67 -0.34M97.8 185.0l0.67 -0.34M100.2 183.8l0.67 -0.34M79.3 202.1l0.67 -0.34M80.9 201.3l0.67 -0.34M87.4 198.1l0.67 -0.34M91.4 196.1l0.67 -0.34M98.6 192.4l0.67 -0.34M81.7 208.7l0.67 -0.34M82.5 208.3l0.67 -0.34M84.1 207.5l0.67 -0.34M92.2 203.5l0.67 -0.34M93.0 203.1l0.67 -0.34M98.6 200.3l0.67 -0.34M105.1 197.0l0.67 -0.34M109.9 194.6l0.67 -0.34M113.1 193.0l0.67 -0.34M80.9 216.9l0.67 -0.34M82.5 216.1l0.67 -0.34M83.3 215.7l0.67 -0.34M84.1 215.3l0.67 -0.34M90.6 212.1l0.67 -0.34M91.4 211.7l0.67 -0.34M96.2 209.3l0.67 -0.34M97.8 208.5l0.67 -0.34M109.1 202.9l0.67 -0.34M81.7 224.4l0.67 -0.34M85.8 222.4l0.67 -0.34M89.0 220.7l0.67 -0.34M90.6 219.9l0.67 -0.34M94.6 217.9l0.67 -0.34M101.1 214.7l0.67 -0.34M103.5 213.5l0.67 -0.34M105.1 212.7l0.67 -0.34M107.5 211.5l0.67 -0.34M108.3 211.1l0.67 -0.34M109.9 218.1l0.67 -0.34M98.6 231.6l0.67 -0.34M106.7 227.5l0.67 -0.34M112.3 224.7l0.67 -0.34M113.1 224.3l0.67 -0.34M122.8 219.5l0.67 -0.34M106.7 235.4l0.67 -0.34M130.0 223.7l0.67 -0.34M120.4 236.3l0.67 -0.34M125.2 233.9l0.67 -0.34M122.0 243.4l0.67 -0.34M122.8 243.0l0.67 -0.34M124.4 242.2l0.67 -0.34M129.2 239.7l0.67 -0.34M141.3 241.5l0.67 -0.34M141.3 249.4l0.67 -0.34M150.2 244.9l0.67 -0.34M151.8 244.1l0.67 -0.34M149.4 253.2l0.67 -0.34M150.2 252.8l0.67 -0.34M151.0 252.4l0.67 -0.34M153.4 251.2l0.67 -0.34M155.0 258.2l0.67 -0.34M159.0 256.2l0.67 -0.34M161.4 262.8l0.67 -0.34M163.0 262.0l0.67 -0.34M167.9 259.6l0.67 -0.34M173.5 256.7l0.67 -0.34M135.0 207.9l0.52 0.60M102.5 187.3l0.52 0.60M104.9 190.0l0.52 0.60M106.1 191.4l0.52 0.60M108.4 194.1l0.52 0.60M116.1 202.9l0.52 0.60M117.3 204.3l0.52 0.60M118.5 205.6l0.52 0.60M123.2 211.1l0.52 0.60M150.9 243.0l0.52 0.60M91.3 191.1l0.52 0.60M93.1 193.2l0.52 0.60M95.4 195.9l0.52 0.60M103.7 205.4l0.52 0.60M107.8 210.2l0.52 0.60M112.6 215.6l0.52 0.60M114.3 217.6l0.52 0.60M122.6 227.1l0.52 0.60M88.3 204.5l0.52 0.60M91.3 207.9l0.52 0.60M101.3 219.5l0.52 0.60M105.5 224.2l0.52 0.60M106.7 225.6l0.52 0.60M111.4 231.0l0.52 0.60M116.7 237.1l0.52 0.60M97.8 232.1l0.52 0.60M122.6 260.7l0.52 0.60" stroke="#1bb2b0"/><path d="M88.2 174.2l0.67 -0.34M89.8 173.4l0.67 -0.34M94.6 171.0l0.67 -0.34M77.7 187.2l0.67 -0.34M85.8 183.2l0.67 -0.34M88.2 182.0l0.67 -0.34M92.2 180.0l0.67 -0.34M95.4 178.4l0.67 -0.34M97.8 177.2l0.67 -0.34M104.3 174.0l0.67 -0.34M108.3 171.9l0.67 -0.34M109.1 171.5l0.67 -0.34M110.7 170.7l0.67 -0.34M79.3 194.3l0.67 -0.34M95.4 186.2l0.67 -0.34M99.4 184.2l0.67 -0.34M101.1 183.4l0.67 -0.34M104.3 181.8l0.67 -0.34M108.3 179.8l0.67 -0.34M115.5 176.2l0.67 -0.34M119.6 174.1l0.67 -0.34M76.1 203.7l0.67 -0.34M81.7 200.9l0.67 -0.34M97.0 193.2l0.67 -0.34M97.8 192.8l0.67 -0.34M118.8 182.4l0.67 -0.34M101.1 199.1l0.67 -0.34M109.1 195.0l0.67 -0.34M114.7 192.2l0.67 -0.34M118.8 190.2l0.67 -0.34M120.4 189.4l0.67 -0.34M89.8 212.5l0.67 -0.34M104.3 205.3l0.67 -0.34M109.9 202.4l0.67 -0.34M114.7 200.0l0.67 -0.34M116.3 199.2l0.67 -0.34M117.2 198.8l0.67 -0.34M119.6 197.6l0.67 -0.34M120.4 205.0l0.67 -0.34M122.0 204.2l0.67 -0.34M108.3 218.9l0.67 -0.34M117.2 214.5l0.67 -0.34M127.6 209.2l0.67 -0.34M131.6 207.2l0.67 -0.34M142.1 202.0l0.67 -0.34M142.9 201.6l0.67 -0.34M116.3 222.7l0.67 -0.34M118.8 221.5l0.67 -0.34M122.0 219.9l0.67 -0.34M124.4 218.7l0.67 -0.34M126.0 217.9l0.67 -0.34M128.4 216.7l0.67 -0.34M131.6 215.1l0.67 -0.34M134.9 213.5l0.67 -0.34M123.6 226.9l0.67 -0.34M128.4 224.5l0.67 -0.34M133.3 222.1l0.67 -0.34M122.8 235.1l0.67 -0.34M123.6 234.7l0.67 -0.34M128.4 232.3l0.67 -0.34M130.8 231.1l0.67 -0.34M132.4 230.3l0.67 -0.34M127.6 240.6l0.67 -0.34M145.3 231.7l0.67 -0.34M144.5 239.9l0.67 -0.34M145.3 239.5l0.67 -0.34M146.1 239.1l0.67 -0.34M148.5 237.9l0.67 -0.34M149.4 237.5l0.67 -0.34M152.6 243.7l0.67 -0.34M155.8 242.1l0.67 -0.34M165.5 237.3l0.67 -0.34M166.3 236.9l0.67 -0.34M164.6 245.5l0.67 -0.34M167.9 243.9l0.67 -0.34M177.5 239.1l0.67 -0.34M157.4 257.0l0.67 -0.34M159.8 255.8l0.67 -0.34M163.8 253.7l0.67 -0.34M167.9 251.7l0.67 -0.34M174.3 248.5l0.67 -0.34M176.7 247.3l0.67 -0.34M177.5 246.9l0.67 -0.34M162.2 262.4l0.67 -0.34M175.9 255.5l0.67 -0.34M178.3 254.3l0.67 -0.34M118.5 172.1l0.52 0.60M104.3 172.6l0.52 0.60M116.7 186.8l0.52 0.60M120.8 191.6l0.52 0.60M125.6 197.0l0.52 0.60M90.7 173.7l0.52 0.60M91.3 174.4l0.52 0.60M93.1 176.4l0.52 0.60M95.4 179.1l0.52 0.60M99.0 183.2l0.52 0.60M104.3 189.3l0.52 0.60M105.5 190.7l0.52 0.60M111.4 197.5l0.52 0.60M123.8 211.7l0.52 0.60M134.4 224.0l0.52 0.60M143.3 234.1l0.52 0.60M152.1 244.3l0.52 0.60M161.0 254.5l0.52 0.60M88.9 188.4l0.52 0.60M97.8 198.6l0.52 0.60M106.7 208.8l0.52 0.60M119.6 223.7l0.52 0.60M118.5 239.1l0.52 0.60" stroke="#3cba9b"/><path d="M90.6 173.0l0.67 -0.34M95.4 170.6l0.67 -0.34M106.7 180.6l0.67 -0.34M110.7 178.6l0.67 -0.34M113.9 177.0l0.67 -0.34M105.9 188.8l0.67 -0.34M118.0 182.8l0.67 -0.34M119.6 182.0l0.67 -0.34M126.0 178.7l0.67 -0.34M135.7 173.9l0.67 -0.34M136.5 173.5l0.67 -0.34M115.5 191.8l0.67 -0.34M121.2 189.0l0.67 -0.34M125.2 187.0l0.67 -0.34M128.4 185.4l0.67 -0.34M129.2 185.0l0.67 -0.34M94.6 210.1l0.67 -0.34M108.3 203.3l0.67 -0.34M113.9 200.4l0.67 -0.34M120.4 197.2l0.67 -0.34M122.0 196.4l0.67 -0.34M122.8 196.0l0.67 -0.34M139.7 187.6l0.67 -0.34M115.5 207.5l0.67 -0.34M126.0 202.2l0.67 -0.34M130.8 199.8l0.67 -0.34M132.4 199.0l0.67 -0.34M134.1 198.2l0.67 -0.34M135.7 197.4l0.67 -0.34M140.5 195.0l0.67 -0.34M111.5 217.3l0.67 -0.34M120.4 212.9l0.67 -0.34M122.8 211.7l0.67 -0.34M134.1 206.0l0.67 -0.34M136.5 204.8l0.67 -0.34M130.0 215.9l0.67 -0.34M140.5 210.6l0.67 -0.34M141.3 210.2l0.67 -0.34M146.9 207.4l0.67 -0.34M158.2 201.8l0.67 -0.34M135.7 220.9l0.67 -0.34M136.5 220.5l0.67 -0.34M138.9 219.3l0.67 -0.34M142.1 217.7l0.67 -0.34M147.7 214.8l0.67 -0.34M129.2 231.9l0.67 -0.34M130.0 231.5l0.67 -0.34M131.6 230.7l0.67 -0.34M133.3 229.9l0.67 -0.34M134.1 229.5l0.67 -0.34M134.9 229.1l0.67 -0.34M131.6 238.5l0.67 -0.34M133.3 237.7l0.67 -0.34M137.3 235.7l0.67 -0.34M142.9 232.9l0.67 -0.34M143.7 232.5l0.67 -0.34M146.9 230.9l0.67 -0.34M149.4 229.7l0.67 -0.34M152.6 235.9l0.67 -0.34M156.6 241.7l0.67 -0.34M163.0 238.5l0.67 -0.34M172.7 233.7l0.67 -0.34M174.3 232.9l0.67 -0.34M155.8 249.9l0.67 -0.34M158.2 248.7l0.67 -0.34M159.8 247.9l0.67 -0.34M167.1 244.3l0.67 -0.34M174.3 240.7l0.67 -0.34M175.9 239.9l0.67 -0.34M179.9 237.9l0.67 -0.34M166.3 252.5l0.67 -0.34M169.5 250.9l0.67 -0.34M171.1 250.1l0.67 -0.34M175.1 248.1l0.67 -0.34M179.1 246.1l0.67 -0.34M185.6 242.9l0.67 -0.34M186.4 242.5l0.67 -0.34M166.3 260.4l0.67 -0.34M179.1 253.9l0.67 -0.34M183.2 251.9l0.67 -0.34M184.8 251.1l0.67 -0.34M187.2 249.9l0.67 -0.34M179.9 261.3l0.67 -0.34M146.8 187.9l0.52 0.60M126.7 181.6l0.52 0.60M138.5 195.2l0.52 0.60M111.4 180.7l0.52 0.60M112.0 181.4l0.52 0.60M114.9 184.8l0.52 0.60M115.5 185.5l0.52 0.60M119.1 189.5l0.52 0.60M119.6 190.2l0.52 0.60M122.6 193.6l0.52 0.60M125.0 196.3l0.52 0.60M127.3 199.0l0.52 0.60M129.1 201.1l0.52 0.60M131.5 203.8l0.52 0.60M139.7 213.3l0.52 0.60M148.6 223.5l0.52 0.60M151.5 226.9l0.52 0.60M153.3 228.9l0.52 0.60M156.9 233.0l0.52 0.60M158.6 235.0l0.52 0.60M161.0 237.8l0.52 0.60M161.6 238.4l0.52 0.60M107.8 193.4l0.52 0.60M109.0 194.8l0.52 0.60M132.0 221.2l0.52 0.60M133.8 223.3l0.52 0.60M137.4 227.4l0.52 0.60M138.5 228.7l0.52 0.60M149.8 241.6l0.52 0.60M154.5 247.0l0.52 0.60M155.7 248.4l0.52 0.60M156.9 249.8l0.52 0.60M96.0 196.6l0.52 0.60M104.9 206.8l0.52 0.60M115.5 219.0l0.52 0.60M116.7 220.3l0.52 0.60M89.5 205.9l0.52 0.60" stroke="#4fbc90"/><path d="M97.8 169.4l0.67 -0.34M100.2 176.0l0.67 -0.34M120.4 173.7l0.67 -0.34M123.6 172.1l0.67 -0.34M124.4 171.7l0.67 -0.34M126.0 170.9l0.67 -0.34M116.3 183.6l0.67 -0.34M121.2 181.2l0.67 -0.34M122.0 180.8l0.67 -0.34M123.6 180.0l0.67 -0.34M127.6 177.9l0.67 -0.34M129.2 177.1l0.67 -0.34M139.7 171.9l0.67 -0.34M122.0 188.6l0.67 -0.34M133.3 183.0l0.67 -0.34M134.9 182.1l0.67 -0.34M136.5 181.3l0.67 -0.34M137.3 180.9l0.67 -0.34M148.5 175.3l0.67 -0.34M126.0 194.4l0.67 -0.34M127.6 193.6l0.67 -0.34M128.4 193.2l0.67 -0.34M135.7 189.6l0.67 -0.34M137.3 188.8l0.67 -0.34M138.1 188.4l0.67 -0.34M142.1 186.3l0.67 -0.34M118.8 205.8l0.67 -0.34M129.2 200.6l0.67 -0.34M131.6 199.4l0.67 -0.34M134.9 197.8l0.67 -0.34M136.5 197.0l0.67 -0.34M124.4 210.9l0.67 -0.34M128.4 208.8l0.67 -0.34M121.2 220.3l0.67 -0.34M132.4 214.7l0.67 -0.34M137.3 212.2l0.67 -0.34M138.9 211.4l0.67 -0.34M147.7 207.0l0.67 -0.34M130.8 223.3l0.67 -0.34M134.1 221.7l0.67 -0.34M138.1 219.7l0.67 -0.34M139.7 218.9l0.67 -0.34M141.3 218.1l0.67 -0.34M154.2 211.6l0.67 -0.34M156.6 210.4l0.67 -0.34M136.5 228.3l0.67 -0.34M139.7 226.7l0.67 -0.34M143.7 224.7l0.67 -0.34M150.2 221.5l0.67 -0.34M165.5 213.8l0.67 -0.34M136.5 236.1l0.67 -0.34M140.5 234.1l0.67 -0.34M147.7 230.5l0.67 -0.34M148.5 230.1l0.67 -0.34M152.6 228.1l0.67 -0.34M155.0 226.9l0.67 -0.34M151.0 236.7l0.67 -0.34M151.8 236.3l0.67 -0.34M155.0 234.7l0.67 -0.34M159.8 232.3l0.67 -0.34M167.1 228.7l0.67 -0.34M168.7 227.9l0.67 -0.34M170.3 234.9l0.67 -0.34M175.9 232.1l0.67 -0.34M176.7 231.7l0.67 -0.34M187.2 226.4l0.67 -0.34M159.0 248.3l0.67 -0.34M160.6 247.5l0.67 -0.34M163.8 245.9l0.67 -0.34M166.3 244.7l0.67 -0.34M170.3 242.7l0.67 -0.34M172.7 241.5l0.67 -0.34M180.7 237.5l0.67 -0.34M181.6 237.1l0.67 -0.34M186.4 234.6l0.67 -0.34M160.6 255.4l0.67 -0.34M163.0 254.1l0.67 -0.34M167.1 252.1l0.67 -0.34M168.7 251.3l0.67 -0.34M180.7 245.3l0.67 -0.34M168.7 259.2l0.67 -0.34M177.5 254.7l0.67 -0.34M181.6 252.7l0.67 -0.34M182.4 252.3l0.67 -0.34M185.6 250.7l0.67 -0.34M117.9 171.4l0.52 0.60M130.9 186.4l0.52 0.60M134.4 190.4l0.52 0.60M136.8 193.1l0.52 0.60M148.6 206.7l0.52 0.60M106.7 175.3l0.52 0.60M107.8 176.6l0.52 0.60M132.0 204.5l0.52 0.60M135.6 208.6l0.52 0.60M139.1 212.6l0.52 0.60M143.9 218.1l0.52 0.60M146.8 221.5l0.52 0.60M149.2 224.2l0.52 0.60M114.9 201.5l0.52 0.60M121.4 209.0l0.52 0.60M138.0 228.0l0.52 0.60M160.4 253.8l0.52 0.60" stroke="#65be86"/><path d="M80.1 186.0l0.67 -0.34M85.0 191.4l0.67 -0.34M75.3 204.1l0.67 -0.34M78.5 202.5l0.67 -0.34M84.1 199.7l0.67 -0.34M92.2 195.7l0.67 -0.34M79.3 209.9l0.67 -0.34M94.6 202.3l0.67 -0.34M80.1 217.3l0.67 -0.34M85.0 214.9l0.67 -0.34M93.8 210.5l0.67 -0.34M100.2 207.3l0.67 -0.34M102.7 206.1l0.67 -0.34M95.4 217.5l0.67 -0.34M100.2 222.9l0.67 -0.34M105.9 220.1l0.67 -0.34M113.9 216.1l0.67 -0.34M107.5 227.1l0.67 -0.34M105.1 236.2l0.67 -0.34M105.9 235.8l0.67 -0.34M108.3 234.6l0.67 -0.34M101.1 246.0l0.67 -0.34M103.5 244.8l0.67 -0.34M105.1 244.0l0.67 -0.34M110.7 241.2l0.67 -0.34M114.7 239.2l0.67 -0.34M100.2 254.2l0.67 -0.34M103.5 252.6l0.67 -0.34M115.5 246.6l0.67 -0.34M106.7 258.8l0.67 -0.34M109.1 257.6l0.67 -0.34M112.3 256.0l0.67 -0.34M113.9 255.2l0.67 -0.34M120.4 252.0l0.67 -0.34M136.5 244.0l0.67 -0.34M114.7 262.6l0.67 -0.34M115.5 262.2l0.67 -0.34M123.6 258.2l0.67 -0.34M129.2 255.4l0.67 -0.34M130.0 255.0l0.67 -0.34M130.8 254.6l0.67 -0.34M134.9 252.6l0.67 -0.34M135.7 252.2l0.67 -0.34M140.5 249.8l0.67 -0.34M142.9 248.6l0.67 -0.34M116.3 269.7l0.67 -0.34M121.2 267.3l0.67 -0.34M129.2 263.2l0.67 -0.34M134.1 260.8l0.67 -0.34M136.5 259.6l0.67 -0.34M142.9 256.4l0.67 -0.34M113.1 279.1l0.67 -0.34M115.5 277.9l0.67 -0.34M119.6 275.9l0.67 -0.34M122.8 274.3l0.67 -0.34M127.6 271.9l0.67 -0.34M142.1 264.6l0.67 -0.34M150.2 260.6l0.67 -0.34M152.6 259.4l0.67 -0.34M155.8 257.8l0.67 -0.34M131.6 277.7l0.67 -0.34M151.8 267.6l0.67 -0.34M155.8 265.6l0.67 -0.34M157.4 264.8l0.67 -0.34M159.0 264.0l0.67 -0.34M148.0 239.6l0.52 0.60M94.8 195.2l0.52 0.60M138.0 244.8l0.52 0.60M140.3 247.5l0.52 0.60M145.0 252.9l0.52 0.60M97.2 214.7l0.52 0.60M125.0 246.6l0.52 0.60M126.1 248.0l0.52 0.60M130.3 252.7l0.52 0.60M133.2 256.1l0.52 0.60M107.2 243.0l0.52 0.60M115.5 252.5l0.52 0.60" stroke="#07aac1"/><path d="M113.1 169.5l0.67 -0.34M85.8 191.0l0.67 -0.34M87.4 190.2l0.67 -0.34M89.0 189.4l0.67 -0.34M93.8 187.0l0.67 -0.34M80.1 201.7l0.67 -0.34M88.2 197.7l0.67 -0.34M93.8 194.8l0.67 -0.34M95.4 194.0l0.67 -0.34M101.9 190.8l0.67 -0.34M76.9 211.1l0.67 -0.34M87.4 205.9l0.67 -0.34M89.0 205.1l0.67 -0.34M91.4 203.9l0.67 -0.34M103.5 197.8l0.67 -0.34M116.3 191.4l0.67 -0.34M87.4 213.7l0.67 -0.34M95.4 209.7l0.67 -0.34M105.1 204.9l0.67 -0.34M85.0 222.8l0.67 -0.34M87.4 221.5l0.67 -0.34M91.4 219.5l0.67 -0.34M93.0 218.7l0.67 -0.34M93.8 218.3l0.67 -0.34M98.6 215.9l0.67 -0.34M100.2 215.1l0.67 -0.34M101.9 214.3l0.67 -0.34M91.4 227.4l0.67 -0.34M96.2 224.9l0.67 -0.34M98.6 223.7l0.67 -0.34M99.4 223.3l0.67 -0.34M113.1 216.5l0.67 -0.34M118.0 214.1l0.67 -0.34M121.2 212.5l0.67 -0.34M105.1 228.3l0.67 -0.34M109.1 226.3l0.67 -0.34M110.7 225.5l0.67 -0.34M111.5 232.9l0.67 -0.34M117.2 230.1l0.67 -0.34M118.8 229.3l0.67 -0.34M101.9 245.6l0.67 -0.34M109.1 242.0l0.67 -0.34M112.3 240.4l0.67 -0.34M113.9 239.6l0.67 -0.34M106.7 251.0l0.67 -0.34M114.7 247.0l0.67 -0.34M117.2 245.8l0.67 -0.34M118.0 245.4l0.67 -0.34M120.4 244.2l0.67 -0.34M127.6 248.4l0.67 -0.34M129.2 247.6l0.67 -0.34M134.1 245.2l0.67 -0.34M137.3 243.5l0.67 -0.34M138.9 242.7l0.67 -0.34M143.7 240.3l0.67 -0.34M131.6 254.2l0.67 -0.34M146.1 246.9l0.67 -0.34M138.9 258.4l0.67 -0.34M144.5 255.6l0.67 -0.34M148.5 253.6l0.67 -0.34M151.8 252.0l0.67 -0.34M113.7 200.2l0.52 0.60M98.4 199.3l0.52 0.60M101.3 202.7l0.52 0.60M107.2 209.5l0.52 0.60M109.6 212.2l0.52 0.60M111.4 214.2l0.52 0.60M117.9 221.7l0.52 0.60M118.5 222.4l0.52 0.60M125.6 230.5l0.52 0.60M135.0 241.4l0.52 0.60M90.7 207.2l0.52 0.60M92.5 209.3l0.52 0.60M99.6 217.4l0.52 0.60M107.2 226.2l0.52 0.60M110.8 230.3l0.52 0.60M117.3 237.8l0.52 0.60M122.6 243.9l0.52 0.60M130.9 253.4l0.52 0.60M88.9 222.0l0.52 0.60M94.8 228.7l0.52 0.60M99.0 233.5l0.52 0.60M101.9 253.7l0.52 0.60" stroke="#0faeb9"/><path d="M105.9 181.0l0.67 -0.34M118.8 174.5l0.67 -0.34M130.0 176.7l0.67 -0.34M131.6 175.9l0.67 -0.34M132.4 175.5l0.67 -0.34M134.1 174.7l0.67 -0.34M137.3 173.1l0.67 -0.34M126.0 186.6l0.67 -0.34M126.8 186.2l0.67 -0.34M127.6 185.8l0.67 -0.34M142.9 178.1l0.67 -0.34M146.9 176.1l0.67 -0.34M151.0 174.1l0.67 -0.34M130.0 192.4l0.67 -0.34M134.9 190.0l0.67 -0.34M140.5 187.2l0.67 -0.34M155.0 179.9l0.67 -0.34M125.2 202.6l0.67 -0.34M130.0 200.2l0.67 -0.34M138.9 195.8l0.67 -0.34M139.7 195.4l0.67 -0.34M141.3 194.6l0.67 -0.34M144.5 193.0l0.67 -0.34M145.3 192.6l0.67 -0.34M146.1 192.2l0.67 -0.34M146.9 191.8l0.67 -0.34M148.5 191.0l0.67 -0.34M152.6 188.9l0.67 -0.34M156.6 186.9l0.67 -0.34M140.5 202.8l0.67 -0.34M144.5 200.8l0.67 -0.34M147.7 199.2l0.67 -0.34M134.9 221.3l0.67 -0.34M143.7 216.8l0.67 -0.34M144.5 216.4l0.67 -0.34M151.0 213.2l0.67 -0.34M167.1 205.2l0.67 -0.34M141.3 225.9l0.67 -0.34M147.7 222.7l0.67 -0.34M156.6 218.2l0.67 -0.34M159.0 217.0l0.67 -0.34M168.7 212.2l0.67 -0.34M161.4 223.6l0.67 -0.34M162.2 223.2l0.67 -0.34M163.0 222.8l0.67 -0.34M165.5 221.6l0.67 -0.34M167.1 220.8l0.67 -0.34M159.0 232.7l0.67 -0.34M160.6 231.9l0.67 -0.34M163.0 230.7l0.67 -0.34M165.5 229.5l0.67 -0.34M176.7 223.8l0.67 -0.34M173.5 233.3l0.67 -0.34M178.3 230.8l0.67 -0.34M180.7 229.6l0.67 -0.34M185.6 227.2l0.67 -0.34M171.1 242.3l0.67 -0.34M184.8 235.5l0.67 -0.34M188.0 233.8l0.67 -0.34M173.5 248.9l0.67 -0.34M175.9 247.7l0.67 -0.34M184.8 243.3l0.67 -0.34M188.0 241.7l0.67 -0.34M184.0 251.5l0.67 -0.34M179.1 261.7l0.67 -0.34M149.8 174.6l0.52 0.60M151.5 176.6l0.52 0.60M138.5 178.4l0.52 0.60M151.5 193.4l0.52 0.60M152.1 194.0l0.52 0.60M152.7 194.7l0.52 0.60M157.4 200.2l0.52 0.60M161.0 204.2l0.52 0.60M161.6 204.9l0.52 0.60M123.8 178.2l0.52 0.60M131.5 187.0l0.52 0.60M132.6 188.4l0.52 0.60M133.2 189.1l0.52 0.60M135.6 191.8l0.52 0.60M138.0 194.5l0.52 0.60M139.7 196.5l0.52 0.60M144.5 202.0l0.52 0.60M152.1 210.8l0.52 0.60M155.7 214.9l0.52 0.60M129.7 201.8l0.52 0.60M147.4 222.1l0.52 0.60M148.0 222.8l0.52 0.60M153.9 229.6l0.52 0.60" stroke="#7abf7c"/><path d="M120.4 181.6l0.67 -0.34M146.1 176.5l0.67 -0.34M149.4 174.9l0.67 -0.34M151.8 173.7l0.67 -0.34M154.2 172.5l0.67 -0.34M130.8 192.0l0.67 -0.34M138.9 188.0l0.67 -0.34M152.6 181.1l0.67 -0.34M156.6 179.1l0.67 -0.34M158.2 178.3l0.67 -0.34M142.9 193.8l0.67 -0.34M147.7 191.4l0.67 -0.34M149.4 190.6l0.67 -0.34M150.2 190.2l0.67 -0.34M154.2 188.1l0.67 -0.34M155.8 187.3l0.67 -0.34M160.6 184.9l0.67 -0.34M161.4 184.5l0.67 -0.34M165.5 182.5l0.67 -0.34M146.1 200.0l0.67 -0.34M159.0 193.5l0.67 -0.34M145.3 208.2l0.67 -0.34M151.0 205.4l0.67 -0.34M151.8 205.0l0.67 -0.34M153.4 204.2l0.67 -0.34M148.5 214.4l0.67 -0.34M149.4 214.0l0.67 -0.34M155.0 211.2l0.67 -0.34M158.2 209.6l0.67 -0.34M159.0 209.2l0.67 -0.34M160.6 208.4l0.67 -0.34M163.8 206.8l0.67 -0.34M149.4 221.9l0.67 -0.34M151.0 221.1l0.67 -0.34M151.8 220.7l0.67 -0.34M153.4 219.8l0.67 -0.34M155.8 218.6l0.67 -0.34M159.8 216.6l0.67 -0.34M162.2 215.4l0.67 -0.34M166.3 213.4l0.67 -0.34M167.9 212.6l0.67 -0.34M155.8 226.5l0.67 -0.34M163.8 222.4l0.67 -0.34M167.9 220.4l0.67 -0.34M170.3 227.0l0.67 -0.34M180.7 221.8l0.67 -0.34M182.4 221.0l0.67 -0.34M185.6 219.4l0.67 -0.34M179.9 230.0l0.67 -0.34M184.0 235.9l0.67 -0.34M147.4 171.8l0.52 0.60M131.5 170.3l0.52 0.60M136.8 176.4l0.52 0.60M137.4 177.1l0.52 0.60M142.7 183.2l0.52 0.60M145.0 185.9l0.52 0.60M150.9 192.7l0.52 0.60M162.2 205.6l0.52 0.60M121.4 175.5l0.52 0.60M135.0 191.1l0.52 0.60M137.4 193.8l0.52 0.60M143.9 201.3l0.52 0.60M152.7 211.5l0.52 0.60M153.3 212.2l0.52 0.60M156.9 216.2l0.52 0.60M126.1 197.7l0.52 0.60M145.6 220.1l0.52 0.60M155.7 231.6l0.52 0.60M162.8 239.8l0.52 0.60M135.6 225.3l0.52 0.60" stroke="#8dbf74"/><path d="M140.5 171.5l0.67 -0.34M153.4 172.9l0.67 -0.34M142.9 185.9l0.67 -0.34M146.1 184.3l0.67 -0.34M146.9 183.9l0.67 -0.34M148.5 183.1l0.67 -0.34M151.8 181.5l0.67 -0.34M162.2 176.3l0.67 -0.34M142.1 194.2l0.67 -0.34M151.8 189.3l0.67 -0.34M153.4 188.5l0.67 -0.34M152.6 204.6l0.67 -0.34M154.2 203.8l0.67 -0.34M157.4 202.2l0.67 -0.34M161.4 200.2l0.67 -0.34M163.0 199.4l0.67 -0.34M175.1 193.3l0.67 -0.34M150.2 213.6l0.67 -0.34M157.4 210.0l0.67 -0.34M170.3 203.6l0.67 -0.34M173.5 202.0l0.67 -0.34M174.3 201.6l0.67 -0.34M155.0 219.0l0.67 -0.34M157.4 217.8l0.67 -0.34M163.0 215.0l0.67 -0.34M170.3 211.4l0.67 -0.34M160.6 224.0l0.67 -0.34M167.9 228.3l0.67 -0.34M171.1 226.6l0.67 -0.34M181.6 221.4l0.67 -0.34M184.8 219.8l0.67 -0.34M162.2 238.9l0.67 -0.34M186.4 226.8l0.67 -0.34M188.0 226.0l0.67 -0.34M188.8 225.6l0.67 -0.34M189.6 225.2l0.67 -0.34M188.8 233.4l0.67 -0.34M148.6 173.2l0.52 0.60M152.7 178.0l0.52 0.60M154.5 180.0l0.52 0.60M157.4 183.4l0.52 0.60M162.8 189.5l0.52 0.60M164.5 191.5l0.52 0.60M136.2 175.7l0.52 0.60M155.1 197.4l0.52 0.60M156.3 198.8l0.52 0.60M158.0 200.8l0.52 0.60M160.4 203.5l0.52 0.60M162.8 206.3l0.52 0.60M163.3 206.9l0.52 0.60M140.3 197.2l0.52 0.60M155.1 214.2l0.52 0.60M157.4 216.9l0.52 0.60M162.2 222.3l0.52 0.60M164.5 225.1l0.52 0.60M159.8 236.4l0.52 0.60" stroke="#9fbe6d"/><path d="M86.6 206.3l0.67 -0.34M94.6 225.7l0.67 -0.34M109.1 218.5l0.67 -0.34M97.0 232.4l0.67 -0.34M101.1 230.4l0.67 -0.34M105.9 227.9l0.67 -0.34M110.7 233.4l0.67 -0.34M107.5 242.8l0.67 -0.34M108.3 242.4l0.67 -0.34M111.5 240.8l0.67 -0.34M101.9 253.4l0.67 -0.34M109.9 249.4l0.67 -0.34M111.5 248.6l0.67 -0.34M113.1 247.8l0.67 -0.34M116.3 246.2l0.67 -0.34M100.2 262.1l0.67 -0.34M101.9 261.3l0.67 -0.34M103.5 260.5l0.67 -0.34M118.8 252.8l0.67 -0.34M126.8 248.8l0.67 -0.34M130.0 247.2l0.67 -0.34M138.1 243.1l0.67 -0.34M109.1 265.5l0.67 -0.34M121.2 259.4l0.67 -0.34M125.2 257.4l0.67 -0.34M126.0 257.0l0.67 -0.34M127.6 256.2l0.67 -0.34M128.4 255.8l0.67 -0.34M133.3 253.4l0.67 -0.34M115.5 270.1l0.67 -0.34M123.6 266.0l0.67 -0.34M127.6 264.0l0.67 -0.34M132.4 261.6l0.67 -0.34M137.3 259.2l0.67 -0.34M141.3 257.2l0.67 -0.34M146.1 254.8l0.67 -0.34M128.4 271.5l0.67 -0.34M134.1 268.6l0.67 -0.34M143.7 263.8l0.67 -0.34M144.5 263.4l0.67 -0.34M147.7 261.8l0.67 -0.34M127.6 279.7l0.67 -0.34M129.2 278.9l0.67 -0.34M146.1 270.4l0.67 -0.34M155.0 266.0l0.67 -0.34M156.6 265.2l0.67 -0.34M159.8 263.6l0.67 -0.34M139.1 246.2l0.52 0.60M150.4 259.1l0.52 0.60M103.1 221.5l0.52 0.60M135.6 258.8l0.52 0.60M94.3 228.1l0.52 0.60M95.4 229.4l0.52 0.60M96.6 230.8l0.52 0.60M104.3 239.6l0.52 0.60M117.9 255.2l0.52 0.60M119.1 256.6l0.52 0.60M120.8 258.6l0.52 0.60M123.2 261.3l0.52 0.60M101.3 253.0l0.52 0.60M104.3 256.4l0.52 0.60M107.2 259.8l0.52 0.60" stroke="#06a5c8"/><path d="M142.1 178.5l0.67 -0.34M150.2 174.5l0.67 -0.34M154.2 180.3l0.67 -0.34M159.8 177.5l0.67 -0.34M157.4 186.5l0.67 -0.34M162.2 184.1l0.67 -0.34M163.0 183.7l0.67 -0.34M164.6 182.9l0.67 -0.34M167.1 181.7l0.67 -0.34M167.9 181.3l0.67 -0.34M159.8 193.1l0.67 -0.34M160.6 192.7l0.67 -0.34M161.4 192.3l0.67 -0.34M164.6 190.7l0.67 -0.34M159.8 201.0l0.67 -0.34M162.2 199.8l0.67 -0.34M166.3 197.8l0.67 -0.34M170.3 195.7l0.67 -0.34M171.9 194.9l0.67 -0.34M172.7 194.5l0.67 -0.34M173.5 194.1l0.67 -0.34M171.1 203.2l0.67 -0.34M175.9 200.8l0.67 -0.34M177.5 199.9l0.67 -0.34M176.7 208.2l0.67 -0.34M178.3 207.4l0.67 -0.34M179.9 206.6l0.67 -0.34M171.9 218.4l0.67 -0.34M175.9 216.4l0.67 -0.34M176.7 216.0l0.67 -0.34M182.4 213.2l0.67 -0.34M183.2 212.8l0.67 -0.34M184.8 212.0l0.67 -0.34M172.7 225.8l0.67 -0.34M175.9 224.2l0.67 -0.34M179.1 222.6l0.67 -0.34M183.2 220.6l0.67 -0.34M155.1 180.7l0.52 0.60M155.7 181.4l0.52 0.60M158.6 184.7l0.52 0.60M161.0 187.5l0.52 0.60M155.7 198.1l0.52 0.60M161.0 221.0l0.52 0.60" stroke="#b0bd66"/><path d="M161.4 176.7l0.67 -0.34M166.3 189.9l0.67 -0.34M165.5 198.2l0.67 -0.34M168.7 196.5l0.67 -0.34M171.1 195.3l0.67 -0.34M184.0 212.4l0.67 -0.34M187.2 218.6l0.67 -0.34" stroke="#cfbb5a"/><path d="M97.8 232.0l0.67 -0.34M97.0 255.8l0.67 -0.34M97.8 255.4l0.67 -0.34M98.6 255.0l0.67 -0.34M104.3 252.2l0.67 -0.34M105.1 251.8l0.67 -0.34M108.3 250.2l0.67 -0.34M112.3 248.2l0.67 -0.34M105.1 259.6l0.67 -0.34M111.5 256.4l0.67 -0.34M123.6 250.4l0.67 -0.34M108.3 265.9l0.67 -0.34M111.5 264.3l0.67 -0.34M113.9 263.0l0.67 -0.34M118.0 261.0l0.67 -0.34M118.8 260.6l0.67 -0.34M120.4 259.8l0.67 -0.34M124.4 257.8l0.67 -0.34M109.9 272.9l0.67 -0.34M111.5 272.1l0.67 -0.34M118.0 268.9l0.67 -0.34M120.4 267.7l0.67 -0.34M125.2 265.2l0.67 -0.34M126.0 264.8l0.67 -0.34M135.7 260.0l0.67 -0.34M139.7 258.0l0.67 -0.34M116.3 277.5l0.67 -0.34M121.2 275.1l0.67 -0.34M122.0 274.7l0.67 -0.34M125.2 273.1l0.67 -0.34M129.2 271.1l0.67 -0.34M130.0 270.6l0.67 -0.34M133.3 269.0l0.67 -0.34M136.5 267.4l0.67 -0.34M138.9 266.2l0.67 -0.34M140.5 265.4l0.67 -0.34M145.3 263.0l0.67 -0.34M146.1 262.6l0.67 -0.34M122.0 282.5l0.67 -0.34M128.4 279.3l0.67 -0.34M137.3 274.9l0.67 -0.34M152.6 267.2l0.67 -0.34M133.8 256.8l0.52 0.60M112.0 248.4l0.52 0.60M100.7 252.3l0.52 0.60" stroke="#069fce"/><path d="M174.3 193.7l0.67 -0.34M172.7 202.4l0.67 -0.34M175.1 209.0l0.67 -0.34M180.7 214.0l0.67 -0.34M178.3 223.0l0.67 -0.34M146.8 171.2l0.52 0.60M160.4 220.3l0.52 0.60" stroke="#c0bc60"/><path d="M96.2 256.2l0.67 -0.34M118.8 245.0l0.67 -0.34M97.8 263.3l0.67 -0.34M99.4 262.5l0.67 -0.34M115.5 254.4l0.67 -0.34M116.3 254.0l0.67 -0.34M101.9 269.1l0.67 -0.34M103.5 268.3l0.67 -0.34M104.3 267.9l0.67 -0.34M106.7 266.7l0.67 -0.34M116.3 261.8l0.67 -0.34M117.2 261.4l0.67 -0.34M122.8 258.6l0.67 -0.34M110.7 272.5l0.67 -0.34M124.4 273.5l0.67 -0.34M126.8 272.3l0.67 -0.34M132.4 269.4l0.67 -0.34M137.3 267.0l0.67 -0.34M138.1 266.6l0.67 -0.34M123.6 281.7l0.67 -0.34M125.2 280.9l0.67 -0.34M130.0 278.5l0.67 -0.34M138.9 274.0l0.67 -0.34M141.3 272.8l0.67 -0.34M150.2 268.4l0.67 -0.34M139.7 246.8l0.52 0.60M106.1 258.4l0.52 0.60" stroke="#0997d1"/><path d="M99.4 254.6l0.67 -0.34M110.7 256.8l0.67 -0.34M105.9 267.1l0.67 -0.34M117.2 277.1l0.67 -0.34M126.0 272.7l0.67 -0.34M136.5 275.3l0.67 -0.34M142.1 272.4l0.67 -0.34M144.5 271.2l0.67 -0.34M147.7 269.6l0.67 -0.34" stroke="#108ed2"/><path d="M112.3 263.9l0.67 -0.34" stroke="#1485d4"/></g><path d="M37.0 18.7L42.0 14.0L47.0 9.4M52.0 10.9L57.0 10.0L62.8 10.1M113.0 8.0L115.0 14.0L116.0 20.0L118.0 28.0L120.0 38.0L122.0 48.0L124.0 56.0L127.0 62.0L130.0 68.0L131.0 76.0L131.0 84.0L134.0 98.0L136.0 110.0L140.0 120.0L146.0 128.0L152.0 126.0L153.0 134.0L156.0 150.0L162.0 165.0L166.0 177.0L172.0 191.0L178.0 195.0L181.0 198.0L183.0 207.0L190.0 212.0L195.0 214.0L196.0 222.0L197.0 232.0L191.0 234.0L184.0 234.0L187.0 240.0L182.0 242.0L176.0 246.0L178.0 250.0L180.0 254.0L183.0 260.0L187.0 267.0L190.0 275.0L193.5 282.0L198.0 292.0L201.5 304.5L203.0 314.0M132.0 57.0L135.0 62.0L140.0 69.0L144.0 66.0L148.0 67.0L150.0 75.0L150.0 84.0L147.0 90.0L145.0 95.0L139.0 97.0L135.0 92.0L133.0 84.0M127.0 62.0L132.0 57.0L135.0 50.0L137.0 45.0M139.0 69.0L142.0 60.0L145.0 52.0M148.0 67.0L152.0 62.0L155.0 58.0M170.0 104.0L174.0 102.0L177.0 106.0L175.0 111.0L171.0 113.0L170.0 108.0M163.5 147.0L168.0 143.0L173.0 140.0L175.5 139.5L174.0 143.0L169.0 146.0L165.0 148.5L163.5 147.0M219.0 182.0L222.0 185.0L220.0 190.0L217.0 187.0L219.0 182.0M37.0 168.0L41.0 163.0L46.0 155.0L51.0 147.0L55.0 140.0L58.8 134.4L64.5 134.9L70.0 132.5L76.0 129.5L83.0 126.0L88.0 122.0L90.0 124.0L87.0 133.0L86.0 142.0L84.0 150.0L81.0 160.0L78.0 170.0L76.0 180.0L74.0 190.0L75.0 200.0L76.7 215.0L82.0 222.7L80.6 229.0L76.0 233.0M71.7 253.9L78.4 247.2L82.9 246.0L84.0 249.4L80.6 252.8L79.5 255.0L81.7 256.0L85.0 257.3L86.2 260.6L85.0 264.0M71.7 253.9L70.6 260.6L72.8 267.3L73.9 275.1L70.6 278.5L63.8 281.9L58.3 283.0L54.9 284.1L59.4 285.2L63.8 286.3L61.6 289.7L57.1 293.0L50.4 295.3L46.0 296.0L40.4 296.0L37.0 296.4M65.4 210.3L70.5 212.8L75.7 201.8M37.0 185.8L39.6 180.6L47.3 179.3L52.5 181.9L56.3 183.2L49.0 185.0L44.7 185.8L39.6 193.5M86.2 271.8L90.7 276.3L91.8 283.0L89.6 289.7L87.3 285.2L86.5 278.0L86.2 271.8M37.0 311.0L46.0 309.8L54.9 307.6L61.6 305.4L68.3 303.1L72.8 305.4L79.5 307.6L86.2 309.8L90.7 312.0L92.0 314.0M95.0 314.0L99.0 300.0L101.3 293.2L112.2 291.4L121.3 289.5L130.4 291.4L139.5 293.2L146.7 291.4L150.4 286.0L155.8 278.6L161.3 275.0L167.0 277.0L171.0 283.0L174.0 290.0L177.6 296.0L179.5 296.8L185.0 300.5L183.0 306.0L174.0 309.5L166.7 309.5L164.0 314.0M119.0 300.0L124.0 297.0L128.0 301.0L123.0 305.0L119.0 300.0M131.0 210.0L135.0 209.0L137.0 212.0L133.0 214.0L131.0 210.0M102.0 162.0L109.0 160.0L113.0 163.0L107.0 166.0L102.0 162.0" fill="none" stroke="#8e8e8e" stroke-width="0.7" stroke-linejoin="round"/><path d="M110.0 9.7l-0.0 0.9M112.5 9.0l0.2 0.6M109.2 11.0l-0.4 0.8M109.7 12.0l-1.5 0.5M112.7 11.8l-0.4 0.6M114.3 12.2l-0.6 0.2M111.1 14.2l1.3 1.1M116.3 13.5l-0.4 0.5M114.0 14.6l0.8 0.6M114.8 15.4l1.3 0.6M112.1 16.4l0.7 0.7M114.0 17.1l-0.0 0.9M111.5 17.7l1.6 0.4M111.5 18.7l0.5 1.6M115.9 18.9l-1.0 1.0M114.7 20.0l1.0 0.9M113.4 20.7l-0.4 1.0M116.7 21.4l0.5 1.5M113.8 22.6l-0.6 1.6M114.0 23.9l-0.6 0.4M113.5 24.6l0.4 1.2M113.0 25.4l0.6 0.9M116.2 25.0l-0.7 1.6M117.1 26.5l-0.8 0.0M118.3 26.9l0.2 0.7M114.6 28.7l1.1 0.5M116.6 28.5l-0.1 0.7M118.1 29.5l0.1 0.7M118.6 29.5l0.8 1.5M117.2 31.3l0.2 1.4M118.2 31.8l-0.9 0.7M116.0 32.9l-0.0 1.4M120.5 32.9l0.8 0.1M119.4 33.5l0.9 0.1M115.6 35.4l0.5 0.9M116.9 35.8l-1.4 1.1M116.9 36.5l0.8 1.4M116.1 37.4l-0.0 1.5M119.5 37.7l0.0 0.7M118.4 38.4l0.1 1.6M118.4 39.1l0.0 1.3M118.8 40.4l-0.2 1.2M120.6 40.8l-0.2 1.4M116.3 42.1l-1.2 1.2M119.7 42.3l0.4 0.5M120.9 42.6l-0.7 0.3M121.2 43.9l0.8 0.2M119.9 45.0l-0.2 1.1M120.0 45.4l-0.8 0.2M121.6 46.3l0.8 0.6M117.7 47.3l0.3 0.7M123.0 47.0l0.9 0.7M117.9 49.5l-0.8 0.3M118.4 50.3l1.5 0.5M119.4 50.7l0.7 1.1M123.5 50.6l-1.2 1.1M122.1 51.8l-1.0 0.2M122.2 52.9l0.4 1.0M123.1 52.9l0.5 0.4M122.4 54.3l0.8 0.1M124.5 55.0l0.7 1.6M122.9 55.5l-0.5 0.4M120.4 57.9l-0.5 0.8M124.6 57.1l-1.6 0.6M123.3 58.3l0.9 0.6M122.9 60.0l0.8 0.6M124.9 59.7l-0.8 1.3M125.0 60.5l1.0 0.2M125.3 61.9l-0.2 1.3M123.9 63.2l0.7 0.7M126.0 63.3l-0.8 0.1M126.5 63.9l0.1 1.7M126.4 64.3l0.7 0.7M127.6 65.3l-0.5 0.4M125.1 67.6l-0.4 0.7M129.4 66.1l0.2 0.6M129.8 66.3l1.4 0.9M126.6 69.0l0.7 0.0M125.9 68.6l-0.5 0.3M130.3 69.5l0.9 1.0M125.9 70.3l0.5 1.2M130.2 70.9l-1.2 1.3M131.4 71.6l-1.2 0.8M128.1 72.7l0.7 0.7M131.7 73.1l-0.2 0.8M126.9 74.3l-0.2 0.9M126.4 75.5l-1.5 0.5M129.0 75.7l-0.2 0.7M129.4 76.6l-0.1 1.5M131.2 76.9l-1.0 0.0M132.1 77.8l0.7 1.1M130.8 78.4l0.5 0.6M126.7 79.8l-1.1 0.3M130.4 80.1l-0.1 1.1M128.0 81.4l-1.1 0.4M127.0 81.8l-0.7 0.3M128.5 82.6l-1.5 0.9M131.4 83.2l0.3 1.2M129.3 85.0l-0.1 0.9M129.3 85.6l-0.8 0.1M130.7 85.7l0.6 1.0M128.8 86.9l-0.5 0.3M132.7 87.4l0.7 1.0M132.1 88.0l-1.1 1.2M132.5 88.5l-0.0 0.8M128.7 90.6l-0.9 0.5M131.6 90.7l0.1 0.7M130.0 91.2l1.4 1.0M130.8 92.2l-0.9 0.3M132.9 92.1l0.1 0.8M130.1 93.7l0.4 0.9M131.4 94.1l-0.8 0.0M130.3 95.6l-0.4 1.2M134.3 95.3l-0.4 1.7M132.4 96.6l0.3 1.6M134.0 96.5l-1.4 0.2M132.3 98.2l1.2 0.2M135.0 98.3l0.1 1.7M135.3 98.6l1.3 0.5M134.9 100.1l-0.8 0.4M131.4 101.2l1.1 0.4M134.0 101.8l-0.9 0.7M133.9 102.6l-0.6 0.4M135.4 102.7l0.3 1.0M133.9 103.6l-0.7 1.1M132.3 104.6l-0.7 0.9M135.6 105.0l-0.9 0.5M131.3 106.4l0.5 0.7M133.9 106.8l-0.4 1.0M136.9 107.3l-1.1 0.3M134.5 108.3l1.0 1.2M136.7 108.7l0.5 1.1M136.8 109.4l-0.7 0.3M135.2 110.9l0.0 1.4M135.0 111.3l0.1 1.1M137.9 110.9l0.0 1.1M137.7 112.1l0.6 1.3M134.5 114.6l1.0 0.0M134.4 115.2l-0.3 1.5M138.9 114.4l-1.3 0.1M138.1 115.5l-1.7 0.5M137.1 116.5l1.5 0.3M138.8 116.9l-1.1 0.6M135.9 119.1l0.8 0.3M140.6 118.0l1.6 0.7M139.6 119.2l0.3 0.6M141.1 118.8l-0.4 1.3M137.3 122.2l0.1 1.3M141.0 120.9l-0.9 0.6M141.7 121.1l0.8 0.8M140.7 123.0l-0.3 1.5M143.2 121.9l-0.3 1.7M141.3 123.9l-0.6 1.0M141.6 124.7l0.7 0.2M143.7 124.3l-0.0 1.7M140.2 127.7l0.7 1.4M141.8 127.8l-1.5 0.7M141.6 128.6l1.4 0.5M144.9 127.0l1.2 0.5M144.2 128.7l0.8 0.7M147.3 129.8l0.1 1.5M147.7 128.0l0.8 0.3M147.9 128.3l-1.0 1.1M148.2 126.7l0.7 1.5M149.9 128.5l0.8 1.0M150.4 127.1l-0.5 1.4M151.2 127.6l0.8 0.4M150.9 125.1l1.6 0.4M150.1 126.8l-0.7 0.5M150.2 127.3l-1.1 0.5M153.4 127.5l1.5 0.2M153.0 129.0l-0.5 0.4M149.8 130.2l0.1 1.2M148.5 130.7l0.6 0.7M150.7 131.7l-0.1 1.3M153.6 131.6l-1.4 0.1M151.0 133.1l0.6 0.5M154.4 133.5l1.0 0.1M149.1 135.2l0.1 1.0M153.0 135.5l0.1 1.2M154.1 135.4l1.6 0.0M150.9 137.1l0.2 1.2M152.8 137.9l1.3 0.4M152.2 138.1l0.4 1.0M150.5 139.8l-1.5 0.2M150.1 140.7l0.4 0.9M152.9 140.3l0.8 0.2M153.4 141.4l-0.9 0.8M155.9 141.9l-1.0 1.2M154.0 142.5l-0.3 0.7M150.6 144.6l-1.0 0.8M150.9 145.3l-1.0 0.1M156.0 145.0l-0.6 0.2M153.3 146.0l0.8 0.7M152.9 146.9l-0.1 1.6M152.7 147.9l1.4 0.1M156.4 148.3l-1.2 1.0M153.6 148.9l0.6 0.9M154.1 150.3l0.1 1.6M156.8 150.0l-0.8 0.0M152.5 153.0l0.1 0.7M155.1 152.4l-1.4 1.1M158.1 151.8l-0.6 0.0M153.8 155.0l-1.0 0.3M155.5 154.5l0.3 1.4M156.5 154.9l-1.3 0.4M155.5 156.8l1.3 0.6M159.3 155.4l-0.2 0.6M157.8 156.8l1.2 0.8M159.0 157.3l-0.2 1.2M156.2 159.7l-0.7 0.2M156.7 159.7l0.2 0.6M159.5 159.8l1.1 0.9M160.2 160.5l-0.4 0.8M159.7 161.7l0.1 0.8M160.6 161.8l-0.6 0.5M160.2 162.9l-1.3 0.4M161.9 163.0l1.3 0.4M162.6 163.9l0.3 1.0M159.6 165.1l0.1 1.2M160.1 166.3l1.3 1.2M160.0 167.3l1.3 0.5M162.3 166.6l0.2 1.1M161.2 168.4l-0.5 1.0M163.5 168.4l-1.5 0.5M159.5 170.8l-0.7 0.6M160.5 171.3l0.1 0.7M164.2 170.9l1.1 0.7M164.1 171.7l1.2 0.9M162.6 172.8l-0.5 1.5M164.6 173.1l0.8 1.6M163.3 174.4l0.9 1.4M163.9 174.6l-0.4 1.5M162.9 176.1l0.8 0.6M163.8 176.7l-0.7 0.2M164.6 177.5l0.4 0.6M161.9 178.8l-1.4 1.1M165.6 178.7l1.0 0.7M167.2 178.4l-0.2 1.3M164.1 181.1l0.8 0.0M164.8 181.3l-1.3 0.0M169.0 180.3l0.3 1.6M166.3 181.9l-1.7 0.3M167.8 182.0l1.5 1.0M168.5 183.2l0.5 1.3M169.2 183.1l-0.8 0.6M165.4 185.7l-1.0 1.3M168.1 185.9l1.2 0.8M167.1 186.9l-0.8 1.3M170.4 185.9l-1.3 0.5M171.5 186.9l-0.0 0.6M171.7 187.1l0.8 0.5M168.6 189.2l-0.4 1.4M171.2 189.7l0.7 0.7M169.4 191.1l-0.6 0.6M170.5 190.9l-0.9 0.3M171.0 193.6l0.6 1.3M173.4 191.7l0.7 0.8M173.0 192.7l-1.1 1.2M173.5 194.1l-0.8 0.2M174.7 193.7l-0.8 0.2M176.0 192.7l0.2 1.4M174.0 197.0l-0.7 0.5M175.7 196.4l1.3 0.6M175.7 197.9l0.5 0.6" fill="none" stroke="#a0a0a0" stroke-width="0.55"/><path d="M62.5 164.0L109.3 284.0M67.8 162.0L120.5 297.0M71.6 156.0L127.7 300.0M78.8 159.0L129.5 289.0M74.8 133.0L136.8 292.0M82.1 136.0L141.7 289.0M77.6 109.0L147.1 287.0M74.0 84.0L151.6 283.0M79.5 82.5L158.5 285.0M81.5 72.0L166.9 291.0M82.9 60.0L175.4 297.0M88.6 59.0L173.7 277.0M93.6 56.0L176.2 268.0M95.8 46.0L182.3 268.0M97.6 35.0L189.6 271.0M94.8 12.3L196.5 273.0M107.6 29.5L195.6 255.0M105.3 8.0L196.6 242.0M65.3 134.5L159.9 95.8M159.9 93.8L68.8 233.5M81.6 231.3L185.7 185.5M96.6 285.6L206.2 240.3" fill="none" stroke="#6e6e6e" stroke-width="0.75"/></g><rect x="37.5" y="8" width="188" height="305.3" fill="none" stroke="#8a8a8a" stroke-width="1.1"/><g font-size="7.1" fill="#383838"><text x="33" y="12.8" text-anchor="end">59<tspan font-size="4.5" dy="-3.2">&#176;</tspan><tspan dy="3.2"> N</tspan></text><text x="33" y="102.8" text-anchor="end">58<tspan font-size="4.5" dy="-3.2">&#176;</tspan><tspan dy="3.2"> N</tspan></text><text x="33" y="190.2" text-anchor="end">57<tspan font-size="4.5" dy="-3.2">&#176;</tspan><tspan dy="3.2"> N</tspan></text><text x="33" y="275.4" text-anchor="end">56<tspan font-size="4.5" dy="-3.2">&#176;</tspan><tspan dy="3.2"> N</tspan></text><text x="62.5" y="331" text-anchor="middle">10<tspan font-size="4.5" dy="-3.2">&#176;</tspan><tspan dy="3.2"> E</tspan></text><text x="109.5" y="331" text-anchor="middle">11<tspan font-size="4.5" dy="-3.2">&#176;</tspan><tspan dy="3.2"> E</tspan></text><text x="156.5" y="331" text-anchor="middle">12<tspan font-size="4.5" dy="-3.2">&#176;</tspan><tspan dy="3.2"> E</tspan></text><text x="203.5" y="331" text-anchor="middle">13<tspan font-size="4.5" dy="-3.2">&#176;</tspan><tspan dy="3.2"> E</tspan></text><text x="131" y="343" text-anchor="middle" font-size="7.55">Longitude [<tspan font-size="4.5" dx="0.4" dy="-3">&#176;</tspan><tspan dy="3">E]</tspan></text><text transform="translate(12.3,160) rotate(-90)" text-anchor="middle" font-size="7.6">Latitude [<tspan font-size="4.5" dy="-3">&#176;</tspan><tspan dy="3">N]</tspan></text></g><defs><linearGradient id="cb0" x1="0" y1="0" x2="0" y2="1"><stop offset="0.0000" stop-color="#f9fb0e"/><stop offset="0.0312" stop-color="#f5eb18"/><stop offset="0.0625" stop-color="#f5de21"/><stop offset="0.0938" stop-color="#f9d329"/><stop offset="0.1250" stop-color="#fec932"/><stop offset="0.1562" stop-color="#febf3c"/><stop offset="0.1875" stop-color="#f2b949"/><stop offset="0.2188" stop-color="#e3b951"/><stop offset="0.2500" stop-color="#d3bb58"/><stop offset="0.2812" stop-color="#c2bc5f"/><stop offset="0.3125" stop-color="#b1bd66"/><stop offset="0.3438" stop-color="#9fbe6d"/><stop offset="0.3750" stop-color="#8bbf75"/><stop offset="0.4062" stop-color="#75bf7e"/><stop offset="0.4375" stop-color="#5ebe89"/><stop offset="0.4688" stop-color="#47bb95"/><stop offset="0.5000" stop-color="#33b8a1"/><stop offset="0.5312" stop-color="#21b4ac"/><stop offset="0.5625" stop-color="#13b0b6"/><stop offset="0.5938" stop-color="#09abbf"/><stop offset="0.6250" stop-color="#06a6c7"/><stop offset="0.6562" stop-color="#069fce"/><stop offset="0.6875" stop-color="#0a97d1"/><stop offset="0.7188" stop-color="#118dd2"/><stop offset="0.7500" stop-color="#1484d4"/><stop offset="0.7812" stop-color="#127cd8"/><stop offset="0.8125" stop-color="#0c74dd"/><stop offset="0.8438" stop-color="#046ce0"/><stop offset="0.8750" stop-color="#0462e0"/><stop offset="0.9062" stop-color="#2152d2"/><stop offset="0.9375" stop-color="#3243b9"/><stop offset="0.9688" stop-color="#36369f"/><stop offset="1.0000" stop-color="#352a87"/></linearGradient></defs><rect x="233.3" y="8.2" width="13.6" height="305.2" fill="url(#cb0)" stroke="#000" stroke-opacity="0.22" stroke-width="0.6"/><g stroke="#262626" stroke-width="0.6" opacity="0.7"><line x1="245.1" y1="42.1" x2="246.9" y2="42.1"/><line x1="245.1" y1="76" x2="246.9" y2="76"/><line x1="245.1" y1="109.9" x2="246.9" y2="109.9"/><line x1="245.1" y1="143.8" x2="246.9" y2="143.8"/><line x1="245.1" y1="177.8" x2="246.9" y2="177.8"/><line x1="245.1" y1="211.7" x2="246.9" y2="211.7"/><line x1="245.1" y1="245.6" x2="246.9" y2="245.6"/><line x1="245.1" y1="279.5" x2="246.9" y2="279.5"/></g><g font-size="6.6" fill="#383838"><text x="249.4" y="10.7">50</text><text x="249.4" y="44.6">40</text><text x="249.4" y="78.5">30</text><text x="249.4" y="112.4">20</text><text x="249.4" y="146.3">10</text><text x="249.4" y="180.3">0</text><text x="249.4" y="214.2">-10</text><text x="249.4" y="248.1">-20</text><text x="249.4" y="282">-30</text><text x="249.4" y="315.9">-40</text></g><text transform="translate(267.7,160.5) rotate(-90)" text-anchor="middle" font-size="7.9" fill="#383838">Gravity Anomaly [mGal]</text><g stroke="#ececec" stroke-width="0.8"><line x1="341.5" y1="8" x2="341.5" y2="313.3"/><line x1="365" y1="8" x2="365" y2="313.3"/><line x1="388.5" y1="8" x2="388.5" y2="313.3"/><line x1="412" y1="8" x2="412" y2="313.3"/><line x1="435.5" y1="8" x2="435.5" y2="313.3"/><line x1="459" y1="8" x2="459" y2="313.3"/><line x1="482.5" y1="8" x2="482.5" y2="313.3"/><line x1="318.5" y1="271.1" x2="506.5" y2="271.1"/><line x1="318.5" y1="228.8" x2="506.5" y2="228.8"/><line x1="318.5" y1="185.9" x2="506.5" y2="185.9"/><line x1="318.5" y1="142.5" x2="506.5" y2="142.5"/><line x1="318.5" y1="98.5" x2="506.5" y2="98.5"/><line x1="318.5" y1="53.8" x2="506.5" y2="53.8"/></g><g clip-path="url(#c1)"><path d="M318.0 18.7L323.0 14.0L328.0 9.4M333.0 10.9L338.0 10.0L343.8 10.1M394.0 8.0L396.0 14.0L397.0 20.0L399.0 28.0L401.0 38.0L403.0 48.0L405.0 56.0L408.0 62.0L411.0 68.0L412.0 76.0L412.0 84.0L415.0 98.0L417.0 110.0L421.0 120.0L427.0 128.0L433.0 126.0L434.0 134.0L437.0 150.0L443.0 165.0L447.0 177.0L453.0 191.0L459.0 195.0L462.0 198.0L464.0 207.0L471.0 212.0L476.0 214.0L477.0 222.0L478.0 232.0L472.0 234.0L465.0 234.0L468.0 240.0L463.0 242.0L457.0 246.0L459.0 250.0L461.0 254.0L464.0 260.0L468.0 267.0L471.0 275.0L474.5 282.0L479.0 292.0L482.5 304.5L484.0 314.0M413.0 57.0L416.0 62.0L421.0 69.0L425.0 66.0L429.0 67.0L431.0 75.0L431.0 84.0L428.0 90.0L426.0 95.0L420.0 97.0L416.0 92.0L414.0 84.0M408.0 62.0L413.0 57.0L416.0 50.0L418.0 45.0M420.0 69.0L423.0 60.0L426.0 52.0M429.0 67.0L433.0 62.0L436.0 58.0M451.0 104.0L455.0 102.0L458.0 106.0L456.0 111.0L452.0 113.0L451.0 108.0M444.5 147.0L449.0 143.0L454.0 140.0L456.5 139.5L455.0 143.0L450.0 146.0L446.0 148.5L444.5 147.0M500.0 182.0L503.0 185.0L501.0 190.0L498.0 187.0L500.0 182.0M318.0 168.0L322.0 163.0L327.0 155.0L332.0 147.0L336.0 140.0L339.8 134.4L345.5 134.9L351.0 132.5L357.0 129.5L364.0 126.0L369.0 122.0L371.0 124.0L368.0 133.0L367.0 142.0L365.0 150.0L362.0 160.0L359.0 170.0L357.0 180.0L355.0 190.0L356.0 200.0L357.7 215.0L363.0 222.7L361.6 229.0L357.0 233.0M352.7 253.9L359.4 247.2L363.9 246.0L365.0 249.4L361.6 252.8L360.5 255.0L362.7 256.0L366.0 257.3L367.2 260.6L366.0 264.0M352.7 253.9L351.6 260.6L353.8 267.3L354.9 275.1L351.6 278.5L344.8 281.9L339.3 283.0L335.9 284.1L340.4 285.2L344.8 286.3L342.6 289.7L338.1 293.0L331.4 295.3L327.0 296.0L321.4 296.0L318.0 296.4M346.4 210.3L351.5 212.8L356.7 201.8M318.0 185.8L320.6 180.6L328.3 179.3L333.5 181.9L337.3 183.2L330.0 185.0L325.7 185.8L320.6 193.5M367.2 271.8L371.7 276.3L372.8 283.0L370.6 289.7L368.3 285.2L367.5 278.0L367.2 271.8M318.0 311.0L327.0 309.8L335.9 307.6L342.6 305.4L349.3 303.1L353.8 305.4L360.5 307.6L367.2 309.8L371.7 312.0L373.0 314.0M376.0 314.0L380.0 300.0L382.3 293.2L393.2 291.4L402.3 289.5L411.4 291.4L420.5 293.2L427.7 291.4L431.4 286.0L436.8 278.6L442.3 275.0L448.0 277.0L452.0 283.0L455.0 290.0L458.6 296.0L460.5 296.8L466.0 300.5L464.0 306.0L455.0 309.5L447.7 309.5L445.0 314.0M400.0 300.0L405.0 297.0L409.0 301.0L404.0 305.0L400.0 300.0M412.0 210.0L416.0 209.0L418.0 212.0L414.0 214.0L412.0 210.0M383.0 162.0L390.0 160.0L394.0 163.0L388.0 166.0L383.0 162.0" fill="none" stroke="#9c9c9c" stroke-width="0.55" stroke-linejoin="round"/><path d="M391.0 9.7l-0.0 0.9M393.5 9.0l0.2 0.6M390.2 11.0l-0.4 0.8M390.7 12.0l-1.5 0.5M393.7 11.8l-0.4 0.6M395.3 12.2l-0.6 0.2M392.1 14.2l1.3 1.1M397.3 13.5l-0.4 0.5M395.0 14.6l0.8 0.6M395.8 15.4l1.3 0.6M393.1 16.4l0.7 0.7M395.0 17.1l-0.0 0.9M392.5 17.7l1.6 0.4M392.5 18.7l0.5 1.6M396.9 18.9l-1.0 1.0M395.7 20.0l1.0 0.9M394.4 20.7l-0.4 1.0M397.7 21.4l0.5 1.5M394.8 22.6l-0.6 1.6M395.0 23.9l-0.6 0.4M394.5 24.6l0.4 1.2M394.0 25.4l0.6 0.9M397.2 25.0l-0.7 1.6M398.1 26.5l-0.8 0.0M399.3 26.9l0.2 0.7M395.6 28.7l1.1 0.5M397.6 28.5l-0.1 0.7M399.1 29.5l0.1 0.7M399.6 29.5l0.8 1.5M398.2 31.3l0.2 1.4M399.2 31.8l-0.9 0.7M397.0 32.9l-0.0 1.4M401.5 32.9l0.8 0.1M400.4 33.5l0.9 0.1M396.6 35.4l0.5 0.9M397.9 35.8l-1.4 1.1M397.9 36.5l0.8 1.4M397.1 37.4l-0.0 1.5M400.5 37.7l0.0 0.7M399.4 38.4l0.1 1.6M399.4 39.1l0.0 1.3M399.8 40.4l-0.2 1.2M401.6 40.8l-0.2 1.4M397.3 42.1l-1.2 1.2M400.7 42.3l0.4 0.5M401.9 42.6l-0.7 0.3M402.2 43.9l0.8 0.2M400.9 45.0l-0.2 1.1M401.0 45.4l-0.8 0.2M402.6 46.3l0.8 0.6M398.7 47.3l0.3 0.7M404.0 47.0l0.9 0.7M398.9 49.5l-0.8 0.3M399.4 50.3l1.5 0.5M400.4 50.7l0.7 1.1M404.5 50.6l-1.2 1.1M403.1 51.8l-1.0 0.2M403.2 52.9l0.4 1.0M404.1 52.9l0.5 0.4M403.4 54.3l0.8 0.1M405.5 55.0l0.7 1.6M403.9 55.5l-0.5 0.4M401.4 57.9l-0.5 0.8M405.6 57.1l-1.6 0.6M404.3 58.3l0.9 0.6M403.9 60.0l0.8 0.6M405.9 59.7l-0.8 1.3M406.0 60.5l1.0 0.2M406.3 61.9l-0.2 1.3M404.9 63.2l0.7 0.7M407.0 63.3l-0.8 0.1M407.5 63.9l0.1 1.7M407.4 64.3l0.7 0.7M408.6 65.3l-0.5 0.4M406.1 67.6l-0.4 0.7M410.4 66.1l0.2 0.6M410.8 66.3l1.4 0.9M407.6 69.0l0.7 0.0M406.9 68.6l-0.5 0.3M411.3 69.5l0.9 1.0M406.9 70.3l0.5 1.2M411.2 70.9l-1.2 1.3M412.4 71.6l-1.2 0.8M409.1 72.7l0.7 0.7M412.7 73.1l-0.2 0.8M407.9 74.3l-0.2 0.9M407.4 75.5l-1.5 0.5M410.0 75.7l-0.2 0.7M410.4 76.6l-0.1 1.5M412.2 76.9l-1.0 0.0M413.1 77.8l0.7 1.1M411.8 78.4l0.5 0.6M407.7 79.8l-1.1 0.3M411.4 80.1l-0.1 1.1M409.0 81.4l-1.1 0.4M408.0 81.8l-0.7 0.3M409.5 82.6l-1.5 0.9M412.4 83.2l0.3 1.2M410.3 85.0l-0.1 0.9M410.3 85.6l-0.8 0.1M411.7 85.7l0.6 1.0M409.8 86.9l-0.5 0.3M413.7 87.4l0.7 1.0M413.1 88.0l-1.1 1.2M413.5 88.5l-0.0 0.8M409.7 90.6l-0.9 0.5M412.6 90.7l0.1 0.7M411.0 91.2l1.4 1.0M411.8 92.2l-0.9 0.3M413.9 92.1l0.1 0.8M411.1 93.7l0.4 0.9M412.4 94.1l-0.8 0.0M411.3 95.6l-0.4 1.2M415.3 95.3l-0.4 1.7M413.4 96.6l0.3 1.6M415.0 96.5l-1.4 0.2M413.3 98.2l1.2 0.2M416.0 98.3l0.1 1.7M416.3 98.6l1.3 0.5M415.9 100.1l-0.8 0.4M412.4 101.2l1.1 0.4M415.0 101.8l-0.9 0.7M414.9 102.6l-0.6 0.4M416.4 102.7l0.3 1.0M414.9 103.6l-0.7 1.1M413.3 104.6l-0.7 0.9M416.6 105.0l-0.9 0.5M412.3 106.4l0.5 0.7M414.9 106.8l-0.4 1.0M417.9 107.3l-1.1 0.3M415.5 108.3l1.0 1.2M417.7 108.7l0.5 1.1M417.8 109.4l-0.7 0.3M416.2 110.9l0.0 1.4M416.0 111.3l0.1 1.1M418.9 110.9l0.0 1.1M418.7 112.1l0.6 1.3M415.5 114.6l1.0 0.0M415.4 115.2l-0.3 1.5M419.9 114.4l-1.3 0.1M419.1 115.5l-1.7 0.5M418.1 116.5l1.5 0.3M419.8 116.9l-1.1 0.6M416.9 119.1l0.8 0.3M421.6 118.0l1.6 0.7M420.6 119.2l0.3 0.6M422.1 118.8l-0.4 1.3M418.3 122.2l0.1 1.3M422.0 120.9l-0.9 0.6M422.7 121.1l0.8 0.8M421.7 123.0l-0.3 1.5M424.2 121.9l-0.3 1.7M422.3 123.9l-0.6 1.0M422.6 124.7l0.7 0.2M424.7 124.3l-0.0 1.7M421.2 127.7l0.7 1.4M422.8 127.8l-1.5 0.7M422.6 128.6l1.4 0.5M425.9 127.0l1.2 0.5M425.2 128.7l0.8 0.7M428.3 129.8l0.1 1.5M428.7 128.0l0.8 0.3M428.9 128.3l-1.0 1.1M429.2 126.7l0.7 1.5M430.9 128.5l0.8 1.0M431.4 127.1l-0.5 1.4M432.2 127.6l0.8 0.4M431.9 125.1l1.6 0.4M431.1 126.8l-0.7 0.5M431.2 127.3l-1.1 0.5M434.4 127.5l1.5 0.2M434.0 129.0l-0.5 0.4M430.8 130.2l0.1 1.2M429.5 130.7l0.6 0.7M431.7 131.7l-0.1 1.3M434.6 131.6l-1.4 0.1M432.0 133.1l0.6 0.5M435.4 133.5l1.0 0.1M430.1 135.2l0.1 1.0M434.0 135.5l0.1 1.2M435.1 135.4l1.6 0.0M431.9 137.1l0.2 1.2M433.8 137.9l1.3 0.4M433.2 138.1l0.4 1.0M431.5 139.8l-1.5 0.2M431.1 140.7l0.4 0.9M433.9 140.3l0.8 0.2M434.4 141.4l-0.9 0.8M436.9 141.9l-1.0 1.2M435.0 142.5l-0.3 0.7M431.6 144.6l-1.0 0.8M431.9 145.3l-1.0 0.1M437.0 145.0l-0.6 0.2M434.3 146.0l0.8 0.7M433.9 146.9l-0.1 1.6M433.7 147.9l1.4 0.1M437.4 148.3l-1.2 1.0M434.6 148.9l0.6 0.9M435.1 150.3l0.1 1.6M437.8 150.0l-0.8 0.0M433.5 153.0l0.1 0.7M436.1 152.4l-1.4 1.1M439.1 151.8l-0.6 0.0M434.8 155.0l-1.0 0.3M436.5 154.5l0.3 1.4M437.5 154.9l-1.3 0.4M436.5 156.8l1.3 0.6M440.3 155.4l-0.2 0.6M438.8 156.8l1.2 0.8M440.0 157.3l-0.2 1.2M437.2 159.7l-0.7 0.2M437.7 159.7l0.2 0.6M440.5 159.8l1.1 0.9M441.2 160.5l-0.4 0.8M440.7 161.7l0.1 0.8M441.6 161.8l-0.6 0.5M441.2 162.9l-1.3 0.4M442.9 163.0l1.3 0.4M443.6 163.9l0.3 1.0M440.6 165.1l0.1 1.2M441.1 166.3l1.3 1.2M441.0 167.3l1.3 0.5M443.3 166.6l0.2 1.1M442.2 168.4l-0.5 1.0M444.5 168.4l-1.5 0.5M440.5 170.8l-0.7 0.6M441.5 171.3l0.1 0.7M445.2 170.9l1.1 0.7M445.1 171.7l1.2 0.9M443.6 172.8l-0.5 1.5M445.6 173.1l0.8 1.6M444.3 174.4l0.9 1.4M444.9 174.6l-0.4 1.5M443.9 176.1l0.8 0.6M444.8 176.7l-0.7 0.2M445.6 177.5l0.4 0.6M442.9 178.8l-1.4 1.1M446.6 178.7l1.0 0.7M448.2 178.4l-0.2 1.3M445.1 181.1l0.8 0.0M445.8 181.3l-1.3 0.0M450.0 180.3l0.3 1.6M447.3 181.9l-1.7 0.3M448.8 182.0l1.5 1.0M449.5 183.2l0.5 1.3M450.2 183.1l-0.8 0.6M446.4 185.7l-1.0 1.3M449.1 185.9l1.2 0.8M448.1 186.9l-0.8 1.3M451.4 185.9l-1.3 0.5M452.5 186.9l-0.0 0.6M452.7 187.1l0.8 0.5M449.6 189.2l-0.4 1.4M452.2 189.7l0.7 0.7M450.4 191.1l-0.6 0.6M451.5 190.9l-0.9 0.3M452.0 193.6l0.6 1.3M454.4 191.7l0.7 0.8M454.0 192.7l-1.1 1.2M454.5 194.1l-0.8 0.2M455.7 193.7l-0.8 0.2M457.0 192.7l0.2 1.4M455.0 197.0l-0.7 0.5M456.7 196.4l1.3 0.6M456.7 197.9l0.5 0.6" fill="none" stroke="#8a8a8a" stroke-width="0.55"/><path d="M343.5 164.0L390.3 284.0M348.8 162.0L401.5 297.0M352.6 156.0L408.7 300.0M359.8 159.0L410.5 289.0M355.8 133.0L417.8 292.0M363.1 136.0L422.7 289.0M358.6 109.0L428.1 287.0M355.0 84.0L432.6 283.0M360.5 82.5L439.5 285.0M362.5 72.0L447.9 291.0M363.9 60.0L456.4 297.0M369.6 59.0L454.7 277.0M374.6 56.0L457.2 268.0M376.8 46.0L463.3 268.0M378.6 35.0L470.6 271.0M375.8 12.3L477.5 273.0M388.6 29.5L476.6 255.0M386.3 8.0L477.6 242.0M346.3 134.5L440.9 95.8M440.9 93.8L349.8 233.5M362.6 231.3L466.7 185.5M377.6 285.6L487.2 240.3" fill="none" stroke="#6e6e6e" stroke-width="0.75"/><g fill="none" stroke-width="2.5" stroke-linecap="round"><path d="M435.1 195.6h0" stroke="#0000d8"/><path d="M386.7 196.7h0M437.2 216.5h0" stroke="#005eff"/><path d="M374.0 164.0h0M411.9 183.0h0M435.1 211.4h0M439.2 206.2h0M447.6 211.9h0M445.7 191.5h0M380.7 284.3h0" stroke="#008bff"/><path d="M412.7 216.3h0M408.4 158.4h0M423.0 195.8h0M433.8 192.3h0M453.4 195.5h0M457.9 207.0h0" stroke="#00b7ff"/><path d="M390.0 252.0h0M392.1 257.4h0M375.1 166.8h0M392.9 212.5h0M422.7 273.2h0M400.1 199.8h0M410.7 211.2h0M416.3 225.6h0M402.7 175.0h0M409.5 192.6h0M421.9 193.1h0M429.5 196.8h0M444.3 187.8h0M447.5 196.2h0M384.8 282.6h0M389.4 280.7h0" stroke="#00e3ff"/><path d="M394.2 262.7h0M416.4 288.4h0M373.4 162.5h0M384.3 190.5h0M388.9 202.4h0M419.1 264.0h0M426.4 282.9h0M405.8 214.4h0M414.9 222.1h0M400.4 169.1h0M411.4 197.5h0M413.3 202.1h0M410.7 179.9h0M419.7 187.4h0M425.7 202.7h0M427.9 208.4h0M441.3 211.4h0M459.6 258.5h0M462.3 265.4h0M439.2 190.5h0M441.5 196.3h0M443.7 201.9h0M465.0 241.0h0M421.0 124.3h0M419.1 127.3h0M392.1 168.6h0" stroke="#11ffee"/><path d="M390.4 268.6h0M358.6 140.3h0M365.0 156.5h0M365.7 158.4h0M415.0 284.9h0M371.4 157.4h0M390.8 207.1h0M417.4 259.7h0M420.8 268.5h0M406.8 201.1h0M378.1 112.0h0M403.6 177.5h0M415.4 191.9h0M447.5 274.3h0M414.1 173.2h0M416.5 179.2h0M429.1 211.5h0M437.5 233.1h0M440.7 225.7h0M452.4 193.0h0M375.8 193.6h0M447.2 194.1h0M456.8 189.8h0" stroke="#3dffc2"/><path d="M381.8 262.2h0M350.0 165.1h0M352.4 171.1h0M394.1 278.2h0M395.6 266.3h0M397.2 270.4h0M372.2 190.7h0M366.6 160.7h0M389.5 219.5h0M412.3 277.8h0M394.1 215.5h0M397.8 225.0h0M412.0 261.4h0M368.4 134.0h0M372.5 144.6h0M378.7 160.5h0M424.9 278.8h0M387.1 166.5h0M402.7 206.5h0M361.4 84.9h0M391.3 161.6h0M404.9 196.4h0M377.3 110.0h0M397.4 161.4h0M407.0 186.2h0M415.4 207.7h0M387.6 120.6h0M390.8 129.0h0M391.6 130.9h0M419.1 201.6h0M428.0 224.3h0M375.7 59.0h0M425.2 185.8h0M437.5 186.2h0M462.5 234.6h0M459.2 210.4h0M459.5 195.5h0M358.8 129.4h0M421.8 123.1h0M413.5 135.8h0M394.1 165.5h0M382.6 183.2h0M380.5 186.4h0M355.9 224.2h0M425.2 203.8h0" stroke="#69ff96"/><path d="M386.5 274.3h0M349.1 162.9h0M385.2 255.3h0M387.2 260.4h0M358.5 171.3h0M383.5 235.5h0M387.4 245.3h0M400.0 277.7h0M404.0 287.9h0M360.2 160.0h0M356.9 135.9h0M405.3 259.9h0M407.5 265.7h0M363.1 136.0h0M401.6 234.9h0M367.5 131.6h0M369.9 138.0h0M371.8 142.9h0M381.1 166.7h0M385.9 179.0h0M413.4 249.3h0M398.5 195.5h0M371.3 110.2h0M390.5 159.4h0M395.8 173.0h0M398.4 179.6h0M435.8 275.5h0M390.0 142.4h0M399.5 166.8h0M405.4 182.1h0M417.0 211.8h0M385.2 114.6h0M386.3 117.5h0M407.1 170.6h0M410.9 164.7h0M433.3 222.2h0M439.4 237.9h0M427.3 191.3h0M412.6 137.9h0M450.3 187.7h0M425.1 107.3h0M426.5 111.0h0M430.1 120.1h0M361.1 128.4h0M425.8 116.9h0M416.0 132.0h0" stroke="#96ff69"/><path d="M353.8 190.4h0M360.4 207.5h0M376.8 249.4h0M378.9 254.8h0M388.4 279.2h0M351.3 168.5h0M357.0 183.0h0M359.8 190.2h0M361.7 195.0h0M352.7 156.5h0M355.2 162.8h0M378.0 221.2h0M386.0 241.7h0M401.9 282.6h0M370.0 185.1h0M376.6 201.9h0M378.2 206.0h0M409.0 285.2h0M367.3 162.6h0M371.3 172.8h0M377.1 187.6h0M386.7 212.2h0M411.1 274.9h0M370.8 155.9h0M406.0 246.0h0M413.6 265.7h0M415.5 270.4h0M370.9 140.5h0M380.3 164.5h0M355.9 86.3h0M364.8 109.2h0M396.7 191.1h0M410.7 227.0h0M392.0 163.4h0M396.6 175.1h0M418.1 230.1h0M432.7 267.7h0M367.0 83.5h0M385.2 130.1h0M446.4 287.1h0M406.4 168.9h0M445.2 268.3h0M449.2 278.7h0M415.8 177.4h0M416.7 148.5h0M453.5 211.6h0M472.4 259.9h0M421.0 96.7h0M422.4 100.4h0M427.6 113.7h0M456.0 186.6h0M372.1 199.3h0M368.8 204.3h0M367.6 206.2h0M357.6 221.5h0M419.7 206.2h0M433.0 200.3h0M438.8 197.8h0M464.7 186.4h0" stroke="#c2ff3d"/><path d="M361.6 210.4h0M375.2 245.4h0M350.9 167.3h0M352.9 172.6h0M398.1 288.4h0M356.0 164.8h0M363.5 184.0h0M374.7 197.1h0M380.0 210.6h0M382.5 217.2h0M383.8 220.5h0M392.2 241.9h0M403.2 270.1h0M370.5 170.8h0M391.8 225.5h0M400.2 231.2h0M358.7 109.3h0M362.9 119.9h0M378.0 158.8h0M379.5 162.6h0M384.5 175.5h0M389.2 187.3h0M407.7 234.8h0M355.2 84.7h0M357.5 90.3h0M395.3 187.4h0M411.6 229.2h0M382.1 138.0h0M392.9 165.5h0M393.3 166.6h0M394.1 168.6h0M400.8 185.8h0M402.9 191.1h0M438.3 282.0h0M367.5 84.8h0M387.0 134.7h0M388.5 138.7h0M396.3 158.6h0M420.5 220.8h0M444.7 282.7h0M392.5 133.2h0M395.3 140.4h0M397.4 145.9h0M413.6 187.4h0M426.6 220.7h0M443.5 264.0h0M441.1 242.1h0M447.2 258.0h0M453.7 274.6h0M443.1 231.8h0M456.0 264.8h0M442.8 215.3h0M444.6 219.8h0M384.4 50.0h0M403.2 98.2h0M428.6 163.4h0M388.0 43.5h0M429.1 149.0h0M432.7 158.3h0M394.8 45.3h0M395.7 47.7h0M428.7 116.6h0M432.5 126.5h0M435.4 133.9h0M457.6 190.7h0M461.8 201.6h0M464.2 207.6h0M353.0 131.7h0M359.4 218.7h0M354.1 226.8h0M406.2 273.8h0" stroke="#eeff11"/><path d="M346.8 172.6h0M348.0 175.7h0M367.5 225.6h0M369.6 230.9h0M372.0 237.2h0M359.2 173.1h0M360.9 177.3h0M380.3 227.2h0M407.6 297.0h0M389.3 234.6h0M396.2 252.3h0M399.3 260.2h0M401.6 266.0h0M378.6 191.6h0M382.8 202.2h0M378.2 174.9h0M381.5 183.3h0M362.2 118.2h0M382.0 168.9h0M383.0 171.4h0M360.1 97.1h0M360.6 82.7h0M424.6 246.9h0M387.7 136.7h0M393.8 152.3h0M395.8 157.4h0M419.1 217.0h0M423.2 227.5h0M438.4 266.5h0M377.8 95.5h0M389.4 125.3h0M394.2 137.5h0M398.3 148.0h0M432.0 234.5h0M439.7 254.2h0M451.7 285.1h0M430.8 215.9h0M406.0 121.0h0M419.7 140.3h0M465.4 257.5h0M469.2 267.5h0M459.1 226.0h0M470.3 254.4h0M413.3 77.1h0M416.4 85.0h0M417.3 87.3h0M433.9 129.9h0M374.8 122.8h0M375.0 225.9h0M380.0 223.7h0M461.7 187.7h0M415.3 270.0h0M425.9 265.7h0" stroke="#ffe300"/><path d="M344.5 166.7h0M346.0 170.3h0M351.2 183.7h0M357.7 200.5h0M356.5 181.8h0M383.4 250.6h0M361.5 179.0h0M372.1 206.1h0M374.7 212.7h0M376.7 217.8h0M365.0 141.0h0M390.6 190.9h0M397.0 207.3h0M370.3 123.3h0M373.8 132.3h0M428.9 257.9h0M429.9 260.6h0M453.3 289.1h0M448.9 262.2h0M392.8 87.1h0M455.7 232.8h0M467.2 262.3h0M461.0 230.7h0M475.2 251.5h0M405.6 57.4h0M371.6 124.2h0M383.9 119.1h0M385.6 118.4h0M394.7 114.7h0M435.8 101.6h0M434.0 104.4h0M410.5 140.5h0M408.8 143.0h0M399.3 157.6h0M387.3 176.0h0M385.8 178.3h0M364.0 211.7h0M402.3 213.8h0M408.5 211.1h0M409.0 272.6h0M449.3 256.0h0" stroke="#ffb700"/><path d="M345.4 169.0h0M364.1 201.2h0M380.6 243.6h0M360.1 175.3h0M397.8 209.4h0M366.7 113.9h0M369.6 121.5h0M371.2 125.7h0M381.7 152.6h0M383.4 156.9h0M415.5 239.1h0M431.0 278.9h0M368.4 87.2h0M365.7 64.7h0M368.5 71.6h0M395.9 142.0h0M396.5 143.6h0M435.8 244.3h0M438.3 250.7h0M445.1 252.5h0M446.5 240.5h0M452.1 239.1h0M397.7 84.2h0M425.2 154.4h0M400.3 75.0h0M401.5 78.3h0M419.4 124.0h0M433.5 160.3h0M455.6 216.9h0M473.3 246.6h0M403.0 50.6h0M366.2 126.4h0M369.1 125.2h0M438.5 96.8h0M439.9 95.3h0M362.1 214.7h0M377.3 224.8h0M389.6 219.4h0M394.8 217.1h0M411.5 271.6h0M434.8 262.0h0M459.9 251.6h0" stroke="#ff8b00"/><path d="M354.9 177.6h0M380.7 181.1h0M402.0 220.2h0M367.2 115.4h0M374.3 133.6h0M379.5 146.9h0M417.8 245.1h0M425.2 264.0h0M383.9 142.4h0M384.9 145.0h0M393.4 120.0h0M454.7 245.9h0M456.3 250.0h0M453.0 225.8h0M457.2 221.1h0M464.0 222.7h0M409.7 67.9h0M408.7 109.0h0M369.2 228.4h0M371.1 227.5h0M383.2 222.2h0M391.7 218.5h0M471.3 246.9h0" stroke="#ff5e00"/><path d="M376.9 234.1h0M400.0 215.0h0M378.6 144.6h0M385.6 146.8h0M369.0 88.5h0M434.9 257.6h0M379.4 84.0h0M380.4 86.6h0M412.6 169.3h0M447.0 226.0h0M450.5 235.2h0M463.8 253.6h0M405.8 147.6h0M385.5 221.2h0M485.1 241.2h0" stroke="#ff3200"/><path d="M373.9 226.3h0M368.2 117.8h0M368.7 119.1h0M380.3 148.9h0M380.7 150.0h0M422.1 256.2h0M423.1 258.7h0M378.7 82.4h0M381.3 88.9h0M452.4 255.7h0M467.9 232.9h0M469.4 236.6h0M408.3 64.3h0M410.8 70.8h0M413.9 106.8h0M424.4 102.6h0M431.2 99.7h0M482.8 242.1h0" stroke="#ff0600"/><path d="M368.3 212.0h0M426.9 237.2h0M457.7 238.0h0M459.8 243.4h0M465.2 225.8h0M401.1 45.9h0M406.8 60.5h0M477.4 244.4h0" stroke="#d80000"/><path d="M428.2 240.5h0M432.9 252.5h0M449.1 231.4h0M461.2 246.9h0M479.2 243.6h0" stroke="#ac0000"/><path d="M370.0 216.3h0" stroke="#800000"/></g></g><rect x="318.5" y="8" width="188" height="305.3" fill="none" stroke="#8a8a8a" stroke-width="1.1"/><g font-size="7.1" fill="#383838"><text x="314" y="12.8" text-anchor="end">59<tspan font-size="4.5" dy="-3.2">&#176;</tspan><tspan dy="3.2"> N</tspan></text><text x="314" y="102.8" text-anchor="end">58<tspan font-size="4.5" dy="-3.2">&#176;</tspan><tspan dy="3.2"> N</tspan></text><text x="314" y="190.2" text-anchor="end">57<tspan font-size="4.5" dy="-3.2">&#176;</tspan><tspan dy="3.2"> N</tspan></text><text x="314" y="275.4" text-anchor="end">56<tspan font-size="4.5" dy="-3.2">&#176;</tspan><tspan dy="3.2"> N</tspan></text><text x="343.5" y="331" text-anchor="middle">10<tspan font-size="4.5" dy="-3.2">&#176;</tspan><tspan dy="3.2"> E</tspan></text><text x="390.5" y="331" text-anchor="middle">11<tspan font-size="4.5" dy="-3.2">&#176;</tspan><tspan dy="3.2"> E</tspan></text><text x="437.5" y="331" text-anchor="middle">12<tspan font-size="4.5" dy="-3.2">&#176;</tspan><tspan dy="3.2"> E</tspan></text><text x="484.5" y="331" text-anchor="middle">13<tspan font-size="4.5" dy="-3.2">&#176;</tspan><tspan dy="3.2"> E</tspan></text><text x="412" y="343" text-anchor="middle" font-size="7.55">Longitude [<tspan font-size="4.5" dx="0.4" dy="-3">&#176;</tspan><tspan dy="3">E]</tspan></text><text transform="translate(293.3,160) rotate(-90)" text-anchor="middle" font-size="7.6">Latitude [<tspan font-size="4.5" dy="-3">&#176;</tspan><tspan dy="3">N]</tspan></text></g><defs><linearGradient id="cb1" x1="0" y1="0" x2="0" y2="1"><stop offset="0.0000" stop-color="#800000"/><stop offset="0.0312" stop-color="#9f0000"/><stop offset="0.0625" stop-color="#bf0000"/><stop offset="0.0938" stop-color="#df0000"/><stop offset="0.1250" stop-color="#ff0000"/><stop offset="0.1562" stop-color="#ff2000"/><stop offset="0.1875" stop-color="#ff4000"/><stop offset="0.2188" stop-color="#ff6000"/><stop offset="0.2500" stop-color="#ff8000"/><stop offset="0.2812" stop-color="#ff9f00"/><stop offset="0.3125" stop-color="#ffbf00"/><stop offset="0.3438" stop-color="#ffdf00"/><stop offset="0.3750" stop-color="#ffff00"/><stop offset="0.4062" stop-color="#dfff20"/><stop offset="0.4375" stop-color="#bfff40"/><stop offset="0.4688" stop-color="#9fff60"/><stop offset="0.5000" stop-color="#80ff80"/><stop offset="0.5312" stop-color="#60ff9f"/><stop offset="0.5625" stop-color="#40ffbf"/><stop offset="0.5938" stop-color="#20ffdf"/><stop offset="0.6250" stop-color="#00ffff"/><stop offset="0.6562" stop-color="#00dfff"/><stop offset="0.6875" stop-color="#00bfff"/><stop offset="0.7188" stop-color="#009fff"/><stop offset="0.7500" stop-color="#0080ff"/><stop offset="0.7812" stop-color="#0060ff"/><stop offset="0.8125" stop-color="#0040ff"/><stop offset="0.8438" stop-color="#0020ff"/><stop offset="0.8750" stop-color="#0000ff"/><stop offset="0.9062" stop-color="#0000df"/><stop offset="0.9375" stop-color="#0000bf"/><stop offset="0.9688" stop-color="#00009f"/><stop offset="1.0000" stop-color="#000080"/></linearGradient></defs><rect x="513.6" y="8.2" width="13.6" height="305.2" fill="url(#cb1)" stroke="#000" stroke-opacity="0.22" stroke-width="0.6"/><g stroke="#262626" stroke-width="0.6" opacity="0.7"><line x1="525.4" y1="38.7" x2="527.2" y2="38.7"/><line x1="525.4" y1="69.2" x2="527.2" y2="69.2"/><line x1="525.4" y1="99.8" x2="527.2" y2="99.8"/><line x1="525.4" y1="130.3" x2="527.2" y2="130.3"/><line x1="525.4" y1="160.8" x2="527.2" y2="160.8"/><line x1="525.4" y1="191.3" x2="527.2" y2="191.3"/><line x1="525.4" y1="221.8" x2="527.2" y2="221.8"/><line x1="525.4" y1="252.4" x2="527.2" y2="252.4"/><line x1="525.4" y1="282.9" x2="527.2" y2="282.9"/></g><g font-size="6.6" fill="#383838"><text x="529.7" y="10.7">5</text><text x="529.7" y="41.2">4</text><text x="529.7" y="71.7">3</text><text x="529.7" y="102.3">2</text><text x="529.7" y="132.8">1</text><text x="529.7" y="163.3">0</text><text x="529.7" y="193.8">-1</text><text x="529.7" y="224.3">-2</text><text x="529.7" y="254.9">-3</text><text x="529.7" y="285.4">-4</text><text x="529.7" y="315.9">-5</text></g><text transform="translate(544.3,160.2) rotate(-90)" text-anchor="middle" font-size="8" fill="#383838">Difference [mGal]</text></svg></body></html>
